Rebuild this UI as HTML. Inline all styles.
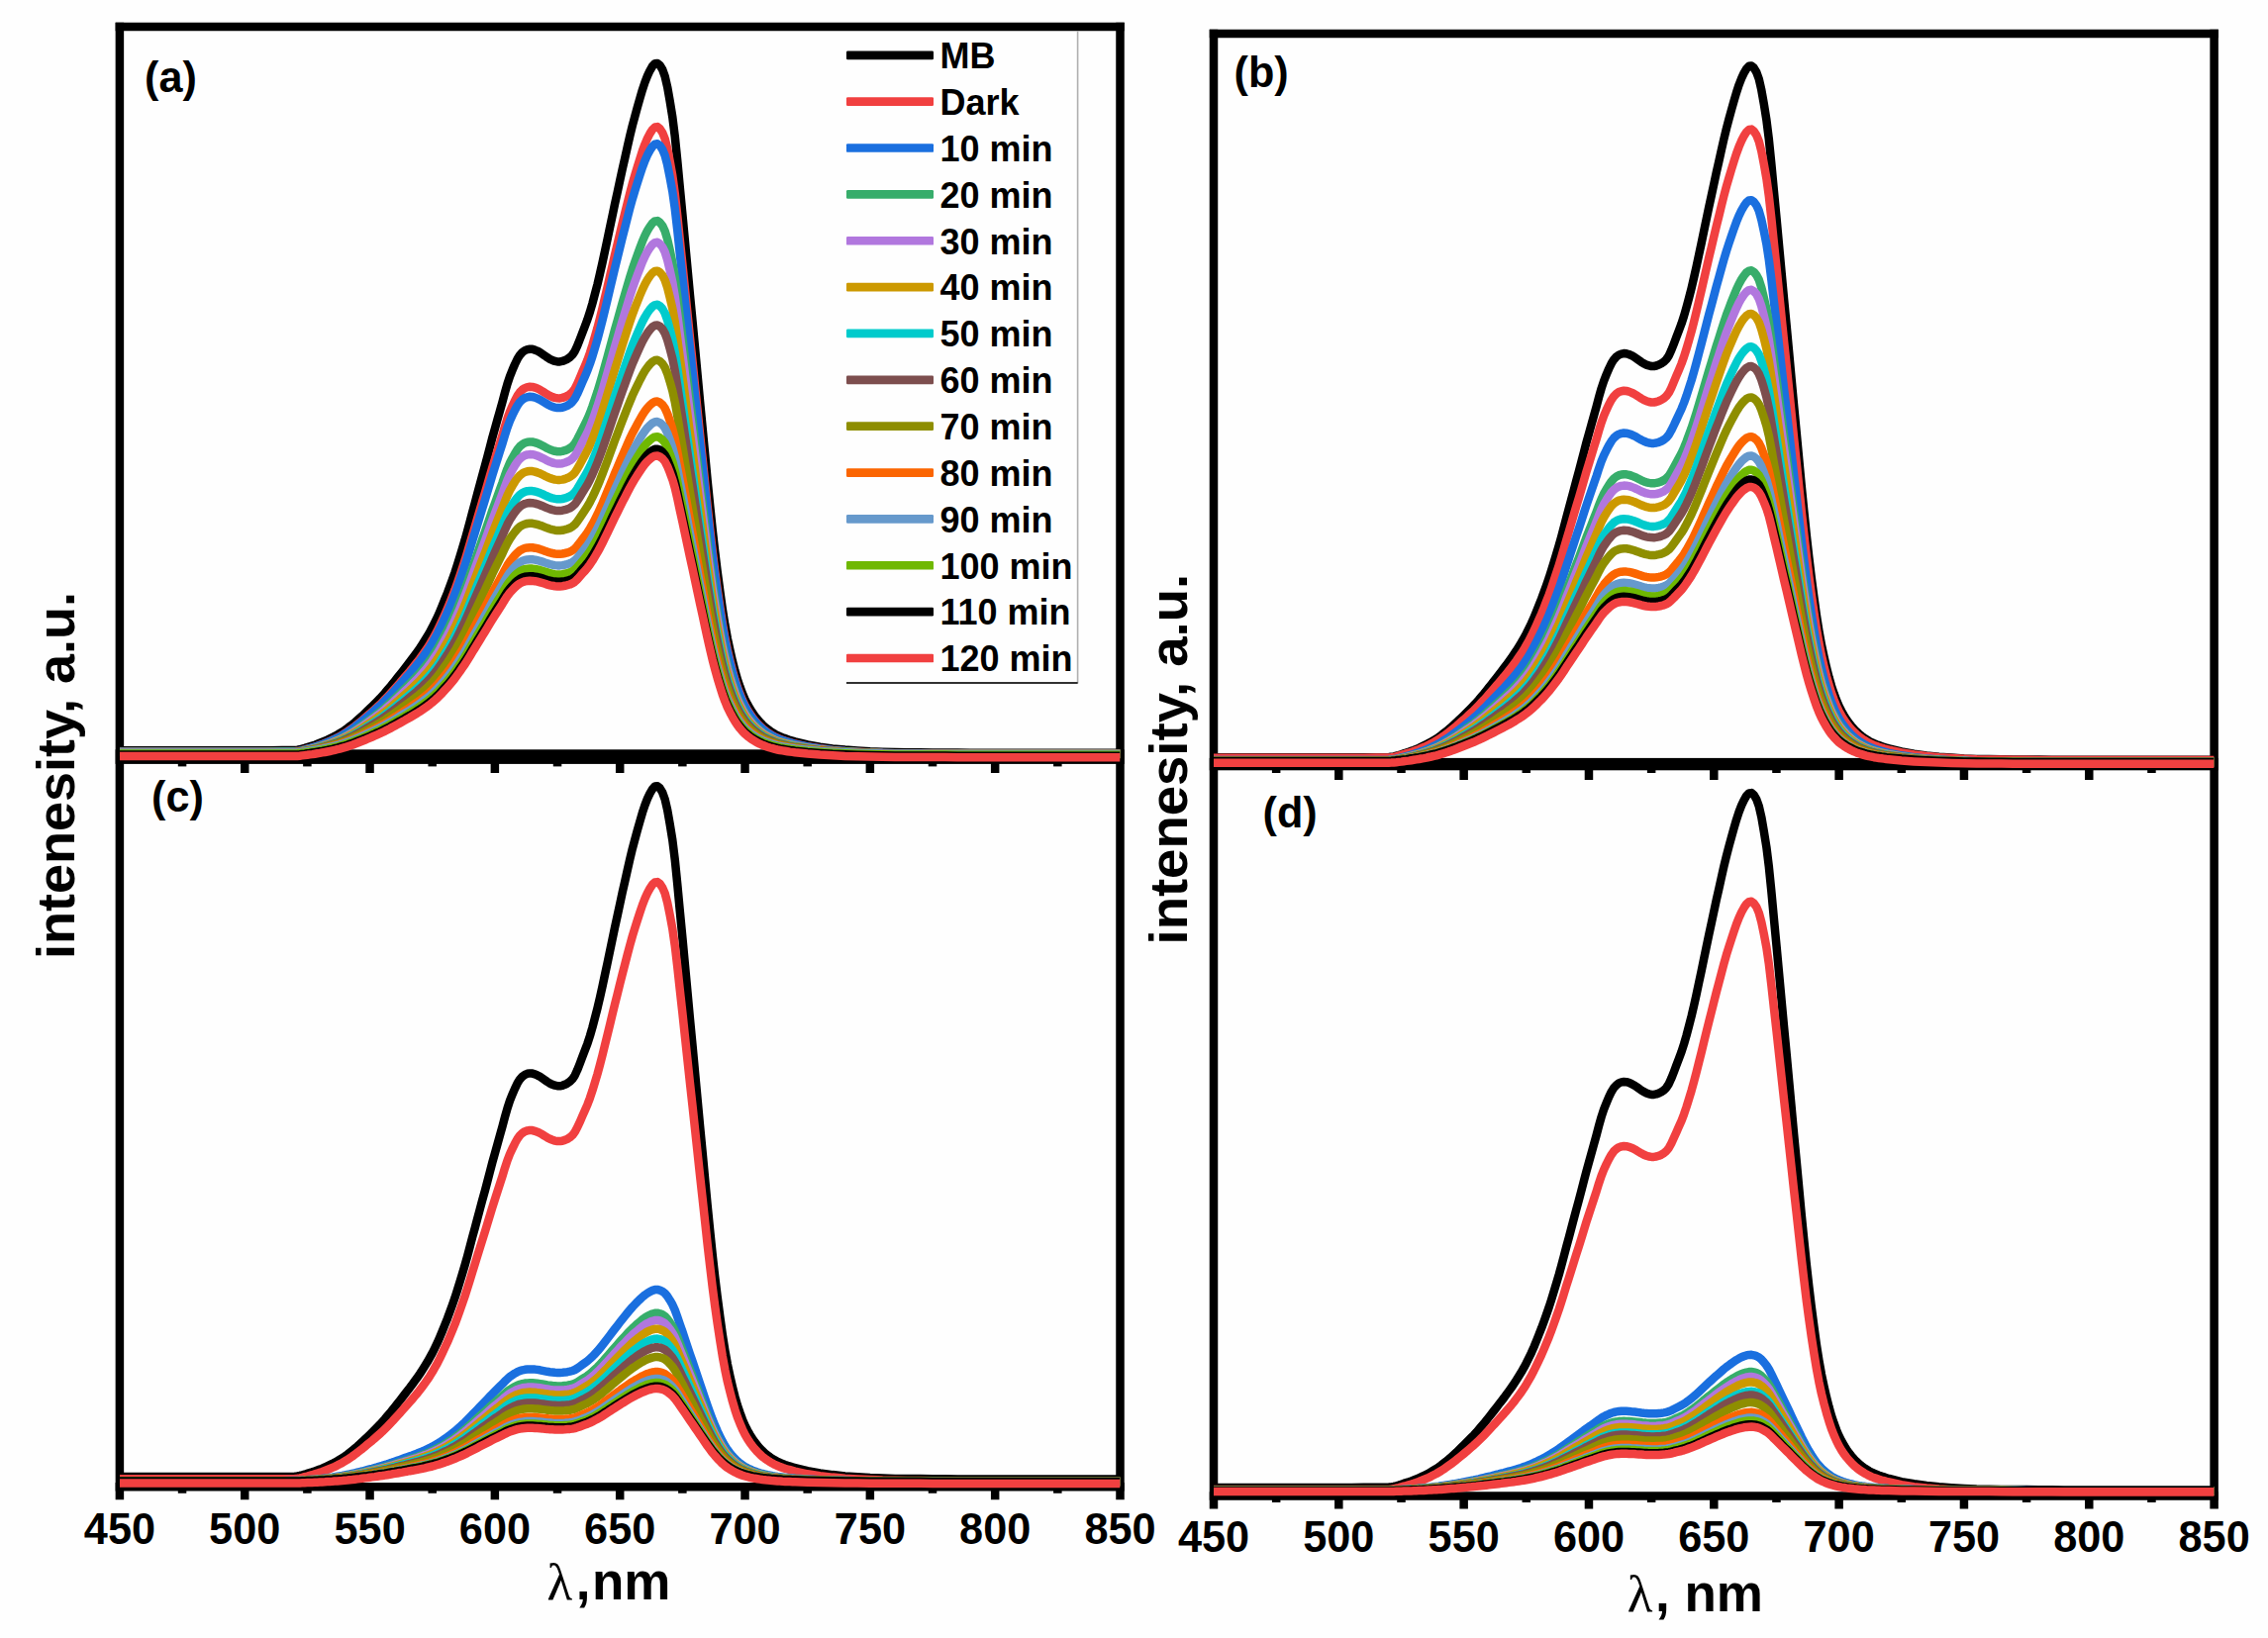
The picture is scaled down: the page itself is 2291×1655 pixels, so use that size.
<!DOCTYPE html>
<html lang="en"><head><meta charset="utf-8"><title>MB degradation spectra</title>
<style>html,body{margin:0;padding:0;background:#fefefe;overflow:hidden}svg{display:block}text{font-family:"Liberation Sans",sans-serif;font-weight:bold;fill:#000}.tk{font-size:45.3px;text-anchor:middle}.pl{font-size:45px}.lg{font-size:36px}.ax{font-size:53px}.ay{font-size:54px;text-anchor:middle}.gr{font-family:"Liberation Serif","DejaVu Serif",serif;font-weight:normal}.c{fill:none;stroke-width:8.5;stroke-linejoin:round;stroke-linecap:butt}</style></head><body>
<svg width="2291" height="1655" viewBox="0 0 2291 1655" role="img" aria-label="UV-vis absorption spectra of MB, panels a-d">
<rect x="0" y="0" width="2291" height="1655" fill="#fefefe"/>
<g fill="#000">
<rect x="116.65" y="22.75" width="8.5" height="1492.50"/>
<rect x="1127.25" y="22.75" width="8.5" height="1492.50"/>
<rect x="116.65" y="22.75" width="1019.10" height="8.5"/>
<rect x="116.65" y="757.30" width="1019.10" height="14.60"/>
<rect x="116.65" y="1498.00" width="1019.10" height="8.5"/>
<rect x="179.81" y="770.90" width="8.5" height="3.50"/>
<rect x="179.81" y="1502.25" width="8.5" height="6.50"/>
<rect x="242.98" y="770.90" width="8.5" height="10.10"/>
<rect x="242.98" y="1502.25" width="8.5" height="13.00"/>
<rect x="306.14" y="770.90" width="8.5" height="3.50"/>
<rect x="306.14" y="1502.25" width="8.5" height="6.50"/>
<rect x="369.30" y="770.90" width="8.5" height="10.10"/>
<rect x="369.30" y="1502.25" width="8.5" height="13.00"/>
<rect x="432.46" y="770.90" width="8.5" height="3.50"/>
<rect x="432.46" y="1502.25" width="8.5" height="6.50"/>
<rect x="495.62" y="770.90" width="8.5" height="10.10"/>
<rect x="495.62" y="1502.25" width="8.5" height="13.00"/>
<rect x="558.79" y="770.90" width="8.5" height="3.50"/>
<rect x="558.79" y="1502.25" width="8.5" height="6.50"/>
<rect x="621.95" y="770.90" width="8.5" height="10.10"/>
<rect x="621.95" y="1502.25" width="8.5" height="13.00"/>
<rect x="685.11" y="770.90" width="8.5" height="3.50"/>
<rect x="685.11" y="1502.25" width="8.5" height="6.50"/>
<rect x="748.27" y="770.90" width="8.5" height="10.10"/>
<rect x="748.27" y="1502.25" width="8.5" height="13.00"/>
<rect x="811.44" y="770.90" width="8.5" height="3.50"/>
<rect x="811.44" y="1502.25" width="8.5" height="6.50"/>
<rect x="874.60" y="770.90" width="8.5" height="10.10"/>
<rect x="874.60" y="1502.25" width="8.5" height="13.00"/>
<rect x="937.76" y="770.90" width="8.5" height="3.50"/>
<rect x="937.76" y="1502.25" width="8.5" height="6.50"/>
<rect x="1000.92" y="770.90" width="8.5" height="10.10"/>
<rect x="1000.92" y="1502.25" width="8.5" height="13.00"/>
<rect x="1064.09" y="770.90" width="8.5" height="3.50"/>
<rect x="1064.09" y="1502.25" width="8.5" height="6.50"/>
<rect x="1221.75" y="29.75" width="8.5" height="1494.75"/>
<rect x="2232.35" y="29.75" width="8.5" height="1494.75"/>
<rect x="1221.75" y="29.75" width="1019.10" height="8.5"/>
<rect x="1221.75" y="765.90" width="1019.10" height="12.40"/>
<rect x="1221.75" y="1507.25" width="1019.10" height="8.5"/>
<rect x="1284.91" y="777.30" width="8.5" height="3.70"/>
<rect x="1284.91" y="1511.50" width="8.5" height="6.50"/>
<rect x="1348.08" y="777.30" width="8.5" height="10.70"/>
<rect x="1348.08" y="1511.50" width="8.5" height="13.00"/>
<rect x="1411.24" y="777.30" width="8.5" height="3.70"/>
<rect x="1411.24" y="1511.50" width="8.5" height="6.50"/>
<rect x="1474.40" y="777.30" width="8.5" height="10.70"/>
<rect x="1474.40" y="1511.50" width="8.5" height="13.00"/>
<rect x="1537.56" y="777.30" width="8.5" height="3.70"/>
<rect x="1537.56" y="1511.50" width="8.5" height="6.50"/>
<rect x="1600.72" y="777.30" width="8.5" height="10.70"/>
<rect x="1600.72" y="1511.50" width="8.5" height="13.00"/>
<rect x="1663.89" y="777.30" width="8.5" height="3.70"/>
<rect x="1663.89" y="1511.50" width="8.5" height="6.50"/>
<rect x="1727.05" y="777.30" width="8.5" height="10.70"/>
<rect x="1727.05" y="1511.50" width="8.5" height="13.00"/>
<rect x="1790.21" y="777.30" width="8.5" height="3.70"/>
<rect x="1790.21" y="1511.50" width="8.5" height="6.50"/>
<rect x="1853.38" y="777.30" width="8.5" height="10.70"/>
<rect x="1853.38" y="1511.50" width="8.5" height="13.00"/>
<rect x="1916.54" y="777.30" width="8.5" height="3.70"/>
<rect x="1916.54" y="1511.50" width="8.5" height="6.50"/>
<rect x="1979.70" y="777.30" width="8.5" height="10.70"/>
<rect x="1979.70" y="1511.50" width="8.5" height="13.00"/>
<rect x="2042.86" y="777.30" width="8.5" height="3.70"/>
<rect x="2042.86" y="1511.50" width="8.5" height="6.50"/>
<rect x="2106.03" y="777.30" width="8.5" height="10.70"/>
<rect x="2106.03" y="1511.50" width="8.5" height="13.00"/>
<rect x="2169.19" y="777.30" width="8.5" height="3.70"/>
<rect x="2169.19" y="1511.50" width="8.5" height="6.50"/>
</g>
<defs>
<clipPath id="cl"><rect x="120.9" y="0" width="1010.6" height="1655"/></clipPath>
<clipPath id="cr"><rect x="1226.0" y="0" width="1010.6" height="1655"/></clipPath>
</defs>
<g class="c" clip-path="url(#cl)">
<polyline stroke="#000000" points="120.9,758.2 133.5,758.2 146.2,758.2 158.8,758.2 171.4,758.2 184.1,758.2 196.7,758.2 209.3,758.2 222.0,758.2 234.6,758.2 247.2,758.2 259.9,758.2 272.5,758.2 285.1,758.1 297.8,758.0 300.3,757.7 302.8,757.3 305.3,756.6 307.9,755.9 310.4,755.1 312.9,754.3 315.4,753.5 318.0,752.7 320.5,751.8 323.0,750.8 325.5,749.8 328.1,748.7 330.6,747.6 333.1,746.4 335.7,745.2 338.2,743.8 340.7,742.5 343.2,741.0 345.8,739.4 348.3,737.7 350.8,735.9 353.3,734.0 355.9,732.0 358.4,729.9 360.9,727.7 363.4,725.5 366.0,723.2 368.5,720.8 371.0,718.4 373.6,715.9 376.1,713.4 378.6,710.9 381.1,708.4 383.7,705.8 386.2,703.1 388.7,700.3 391.2,697.3 393.8,694.3 396.3,691.2 398.8,688.1 401.3,684.9 403.9,681.7 406.4,678.5 408.9,675.3 411.4,672.0 414.0,668.7 416.5,665.4 419.0,662.0 421.6,658.4 424.1,654.8 426.6,651.0 429.1,647.0 431.7,642.9 434.2,638.5 436.7,633.9 439.2,628.9 441.8,623.6 444.3,617.9 446.8,611.9 449.3,605.7 451.9,599.3 454.4,592.6 456.9,585.7 459.5,578.3 462.0,570.6 464.5,562.5 467.0,554.2 469.6,545.6 472.1,536.6 474.6,527.3 477.1,517.8 479.7,508.3 482.2,498.9 484.7,489.6 487.2,480.3 489.8,471.0 492.3,461.5 494.8,452.0 497.3,442.4 499.9,433.1 502.4,424.2 504.9,415.4 507.5,406.1 510.0,396.6 512.5,387.8 515.0,380.3 517.6,373.8 520.1,368.0 522.6,362.8 525.1,358.8 527.7,355.9 530.2,354.1 532.7,353.1 535.2,352.7 537.8,352.8 540.3,353.6 542.8,354.6 545.4,356.0 547.9,357.7 550.4,359.4 552.9,361.2 555.5,362.8 558.0,364.0 560.5,364.9 563.0,365.4 565.6,365.4 568.1,364.9 570.6,364.0 573.1,362.8 575.7,361.0 578.2,358.5 580.7,354.8 583.2,349.4 585.8,342.8 588.3,336.2 590.8,329.7 593.4,322.8 595.9,315.1 598.4,306.6 600.9,297.2 603.5,287.2 606.0,276.6 608.5,265.5 611.0,253.8 613.6,241.7 616.1,229.7 618.6,217.8 621.1,205.9 623.7,194.1 626.2,182.4 628.7,170.9 631.3,159.5 633.8,148.3 636.3,137.3 638.8,127.0 641.4,117.3 643.9,108.1 646.4,99.3 648.9,90.8 651.5,83.0 654.0,76.6 656.5,71.3 659.0,67.0 661.6,64.2 664.1,63.9 666.6,66.0 669.2,70.3 671.7,77.2 674.2,88.1 676.7,102.3 679.3,118.3 681.8,138.3 684.3,163.0 686.8,189.6 689.4,216.6 691.9,243.5 694.4,270.4 696.9,297.3 699.5,324.2 702.0,351.0 704.5,377.9 707.0,404.9 709.6,431.8 712.1,458.5 714.6,485.1 717.2,510.9 719.7,535.1 722.2,557.2 724.7,577.8 727.3,597.4 729.8,615.4 732.3,631.1 734.8,644.8 737.4,657.0 739.9,667.9 742.4,677.7 744.9,686.4 747.5,694.1 750.0,700.8 752.5,706.6 755.1,711.7 757.6,716.1 760.1,720.0 762.6,723.6 765.2,726.8 767.7,729.7 770.2,732.3 772.7,734.6 775.3,736.6 777.8,738.5 780.3,740.2 782.8,741.7 785.4,743.0 787.9,744.2 790.4,745.2 792.9,746.1 795.5,747.0 798.0,747.9 800.5,748.6 803.1,749.4 815.7,752.5 828.3,754.7 841.0,756.4 853.6,757.6 866.2,758.5 878.9,759.3 891.5,759.8 904.1,760.1 916.7,760.2 929.4,760.3 942.0,760.4 954.6,760.5 967.3,760.6 979.9,760.7 992.5,760.7 1005.2,760.7 1017.8,760.7 1030.4,760.7 1043.1,760.7 1055.7,760.7 1068.3,760.7 1081.0,760.7 1093.6,760.7 1106.2,760.7 1118.9,760.7 1131.5,760.7"/>
<polyline stroke="#F14040" points="120.9,759.5 133.5,759.5 146.2,759.5 158.8,759.5 171.4,759.5 184.1,759.5 196.7,759.5 209.3,759.5 222.0,759.5 234.6,759.5 247.2,759.5 259.9,759.5 272.5,759.5 285.1,759.5 297.8,759.3 300.3,759.1 302.8,758.7 305.3,758.1 307.9,757.4 310.4,756.7 312.9,756.0 315.4,755.3 318.0,754.5 320.5,753.7 323.0,752.8 325.5,751.9 328.1,750.9 330.6,749.9 333.1,748.8 335.7,747.7 338.2,746.5 340.7,745.2 343.2,743.9 345.8,742.5 348.3,740.9 350.8,739.3 353.3,737.5 355.9,735.7 358.4,733.8 360.9,731.8 363.4,729.8 366.0,727.7 368.5,725.5 371.0,723.3 373.6,721.1 376.1,718.8 378.6,716.6 381.1,714.2 383.7,711.9 386.2,709.4 388.7,706.8 391.2,704.2 393.8,701.4 396.3,698.6 398.8,695.8 401.3,692.9 403.9,690.0 406.4,687.0 408.9,684.1 411.4,681.2 414.0,678.2 416.5,675.1 419.0,672.0 421.6,668.8 424.1,665.5 426.6,662.0 429.1,658.4 431.7,654.7 434.2,650.7 436.7,646.5 439.2,642.0 441.8,637.1 444.3,631.9 446.8,626.5 449.3,620.9 451.9,615.0 454.4,609.0 456.9,602.6 459.5,595.9 462.0,588.9 464.5,581.6 467.0,574.0 469.6,566.2 472.1,558.0 474.6,549.5 477.1,540.9 479.7,532.3 482.2,523.7 484.7,515.3 487.2,506.8 489.8,498.3 492.3,489.7 494.8,481.0 497.3,472.4 499.9,463.9 502.4,455.8 504.9,447.8 507.5,439.4 510.0,430.7 512.5,422.7 515.0,415.9 517.6,410.0 520.1,404.7 522.6,400.0 525.1,396.3 527.7,393.7 530.2,392.1 532.7,391.1 535.2,390.8 537.8,390.9 540.3,391.6 542.8,392.5 545.4,393.8 547.9,395.3 550.4,396.9 552.9,398.6 555.5,400.0 558.0,401.1 560.5,401.9 563.0,402.3 565.6,402.4 568.1,401.9 570.6,401.1 573.1,400.0 575.7,398.3 578.2,396.1 580.7,392.7 583.2,387.8 585.8,381.8 588.3,375.7 590.8,369.9 593.4,363.6 595.9,356.6 598.4,348.8 600.9,340.3 603.5,331.2 606.0,321.6 608.5,311.5 611.0,300.8 613.6,289.9 616.1,279.0 618.6,268.1 621.1,257.3 623.7,246.6 626.2,235.9 628.7,225.4 631.3,215.1 633.8,204.9 636.3,195.0 638.8,185.5 641.4,176.7 643.9,168.4 646.4,160.4 648.9,152.6 651.5,145.6 654.0,139.7 656.5,134.9 659.0,131.0 661.6,128.5 664.1,128.1 666.6,130.1 669.2,134.0 671.7,140.3 674.2,150.2 676.7,163.1 679.3,177.6 681.8,195.8 684.3,218.3 686.8,242.5 689.4,267.0 691.9,291.5 694.4,316.0 696.9,340.4 699.5,364.8 702.0,389.3 704.5,413.7 707.0,438.2 709.6,462.7 712.1,487.0 714.6,511.1 717.2,534.7 719.7,556.7 722.2,576.7 724.7,595.5 727.3,613.3 729.8,629.6 732.3,643.9 734.8,656.4 737.4,667.5 739.9,677.4 742.4,686.3 744.9,694.3 747.5,701.2 750.0,707.3 752.5,712.6 755.1,717.3 757.6,721.3 760.1,724.8 762.6,728.1 765.2,731.0 767.7,733.7 770.2,736.0 772.7,738.1 775.3,739.9 777.8,741.6 780.3,743.1 782.8,744.5 785.4,745.7 787.9,746.8 790.4,747.7 792.9,748.6 795.5,749.4 798.0,750.1 800.5,750.8 803.1,751.5 815.7,754.3 828.3,756.3 841.0,757.9 853.6,759.0 866.2,759.8 878.9,760.5 891.5,761.0 904.1,761.2 916.7,761.3 929.4,761.5 942.0,761.6 954.6,761.7 967.3,761.7 979.9,761.8 992.5,761.8 1005.2,761.8 1017.8,761.8 1030.4,761.8 1043.1,761.8 1055.7,761.8 1068.3,761.8 1081.0,761.8 1093.6,761.8 1106.2,761.8 1118.9,761.8 1131.5,761.8"/>
<polyline stroke="#1A6FDF" points="120.9,759.6 133.5,759.6 146.2,759.6 158.8,759.6 171.4,759.6 184.1,759.6 196.7,759.6 209.3,759.6 222.0,759.6 234.6,759.6 247.2,759.6 259.9,759.6 272.5,759.6 285.1,759.5 297.8,759.4 300.3,759.2 302.8,758.8 305.3,758.2 307.9,757.6 310.4,756.9 312.9,756.2 315.4,755.4 318.0,754.7 320.5,753.9 323.0,753.1 325.5,752.2 328.1,751.2 330.6,750.2 333.1,749.2 335.7,748.1 338.2,746.9 340.7,745.7 343.2,744.4 345.8,743.0 348.3,741.5 350.8,739.9 353.3,738.2 355.9,736.4 358.4,734.6 360.9,732.6 363.4,730.6 366.0,728.6 368.5,726.5 371.0,724.4 373.6,722.2 376.1,720.0 378.6,717.8 381.1,715.5 383.7,713.2 386.2,710.8 388.7,708.3 391.2,705.7 393.8,703.1 396.3,700.3 398.8,697.6 401.3,694.7 403.9,691.9 406.4,689.1 408.9,686.2 411.4,683.4 414.0,680.5 416.5,677.5 419.0,674.5 421.6,671.3 424.1,668.1 426.6,664.7 429.1,661.2 431.7,657.6 434.2,653.7 436.7,649.6 439.2,645.2 441.8,640.5 444.3,635.5 446.8,630.2 449.3,624.7 451.9,619.0 454.4,613.1 456.9,606.9 459.5,600.4 462.0,593.6 464.5,586.5 467.0,579.1 469.6,571.5 472.1,563.6 474.6,555.3 477.1,546.9 479.7,538.5 482.2,530.2 484.7,522.0 487.2,513.7 489.8,505.5 492.3,497.1 494.8,488.7 497.3,480.2 499.9,472.0 502.4,464.1 504.9,456.3 507.5,448.1 510.0,439.7 512.5,431.9 515.0,425.3 517.6,419.5 520.1,414.4 522.6,409.8 525.1,406.2 527.7,403.7 530.2,402.1 532.7,401.2 535.2,400.8 537.8,401.0 540.3,401.6 542.8,402.6 545.4,403.8 547.9,405.3 550.4,406.8 552.9,408.4 555.5,409.8 558.0,410.9 560.5,411.6 563.0,412.1 565.6,412.1 568.1,411.7 570.6,410.9 573.1,409.8 575.7,408.2 578.2,406.0 580.7,402.7 583.2,397.9 585.8,392.1 588.3,386.2 590.8,380.5 593.4,374.4 595.9,367.6 598.4,360.1 600.9,351.8 603.5,342.9 606.0,333.5 608.5,323.7 611.0,313.4 613.6,302.7 616.1,292.1 618.6,281.5 621.1,271.0 623.7,260.5 626.2,250.2 628.7,240.0 631.3,229.9 633.8,220.0 636.3,210.3 638.8,201.2 641.4,192.6 643.9,184.5 646.4,176.7 648.9,169.2 651.5,162.3 654.0,156.6 656.5,151.9 659.0,148.1 661.6,145.7 664.1,145.3 666.6,147.2 669.2,151.1 671.7,157.2 674.2,166.8 676.7,179.3 679.3,193.5 681.8,211.2 684.3,233.0 686.8,256.6 689.4,280.4 691.9,304.3 694.4,328.1 696.9,351.8 699.5,375.6 702.0,399.4 704.5,423.2 707.0,447.0 709.6,470.8 712.1,494.5 714.6,518.0 717.2,540.9 719.7,562.3 722.2,581.8 724.7,600.0 727.3,617.4 729.8,633.2 732.3,647.1 734.8,659.3 737.4,670.1 739.9,679.7 742.4,688.3 744.9,696.1 747.5,702.9 750.0,708.8 752.5,714.0 755.1,718.5 757.6,722.4 760.1,725.8 762.6,729.0 765.2,731.8 767.7,734.4 770.2,736.7 772.7,738.7 775.3,740.5 777.8,742.1 780.3,743.6 782.8,745.0 785.4,746.2 787.9,747.2 790.4,748.1 792.9,748.9 795.5,749.7 798.0,750.4 800.5,751.1 803.1,751.8 815.7,754.5 828.3,756.5 841.0,758.0 853.6,759.1 866.2,759.9 878.9,760.5 891.5,761.0 904.1,761.2 916.7,761.4 929.4,761.5 942.0,761.6 954.6,761.7 967.3,761.7 979.9,761.8 992.5,761.8 1005.2,761.8 1017.8,761.8 1030.4,761.8 1043.1,761.8 1055.7,761.8 1068.3,761.8 1081.0,761.8 1093.6,761.8 1106.2,761.8 1118.9,761.8 1131.5,761.8"/>
<polyline stroke="#37AD6B" points="120.9,759.9 133.5,759.9 146.2,759.9 158.8,759.9 171.4,759.9 184.1,759.9 196.7,759.9 209.3,759.9 222.0,759.9 234.6,759.9 247.2,759.9 259.9,759.9 272.5,759.8 285.1,759.8 297.8,759.7 300.3,759.5 302.8,759.1 305.3,758.7 307.9,758.1 310.4,757.5 312.9,756.9 315.4,756.2 318.0,755.6 320.5,754.9 323.0,754.2 325.5,753.4 328.1,752.6 330.6,751.7 333.1,750.8 335.7,749.8 338.2,748.8 340.7,747.7 343.2,746.6 345.8,745.4 348.3,744.0 350.8,742.6 353.3,741.2 355.9,739.6 358.4,738.0 360.9,736.3 363.4,734.6 366.0,732.8 368.5,731.0 371.0,729.1 373.6,727.2 376.1,725.3 378.6,723.3 381.1,721.4 383.7,719.4 386.2,717.3 388.7,715.1 391.2,712.8 393.8,710.5 396.3,708.1 398.8,705.7 401.3,703.2 403.9,700.7 406.4,698.2 408.9,695.8 411.4,693.3 414.0,690.7 416.5,688.1 419.0,685.5 421.6,682.8 424.1,679.9 426.6,677.0 429.1,673.9 431.7,670.7 434.2,667.4 436.7,663.8 439.2,659.9 441.8,655.8 444.3,651.4 446.8,646.8 449.3,642.0 451.9,637.0 454.4,631.9 456.9,626.5 459.5,620.8 462.0,614.8 464.5,608.6 467.0,602.2 469.6,595.5 472.1,588.6 474.6,581.4 477.1,574.0 479.7,566.7 482.2,559.4 484.7,552.2 487.2,545.0 489.8,537.8 492.3,530.5 494.8,523.1 497.3,515.7 499.9,508.6 502.4,501.7 504.9,494.8 507.5,487.7 510.0,480.3 512.5,473.6 515.0,467.8 517.6,462.7 520.1,458.2 522.6,454.2 525.1,451.1 527.7,448.9 530.2,447.5 532.7,446.7 535.2,446.4 537.8,446.5 540.3,447.1 542.8,447.9 545.4,449.0 547.9,450.3 550.4,451.6 552.9,453.0 555.5,454.2 558.0,455.1 560.5,455.8 563.0,456.2 565.6,456.3 568.1,455.9 570.6,455.2 573.1,454.2 575.7,452.8 578.2,450.9 580.7,448.0 583.2,443.8 585.8,438.7 588.3,433.6 590.8,428.6 593.4,423.3 595.9,417.4 598.4,410.7 600.9,403.5 603.5,395.7 606.0,387.6 608.5,379.0 611.0,369.9 613.6,360.6 616.1,351.3 618.6,342.1 621.1,332.9 623.7,323.8 626.2,314.8 628.7,305.8 631.3,297.0 633.8,288.4 636.3,279.9 638.8,271.9 641.4,264.4 643.9,257.3 646.4,250.5 648.9,243.9 651.5,237.9 654.0,233.0 656.5,228.9 659.0,225.5 661.6,223.4 664.1,223.1 666.6,224.8 669.2,228.1 671.7,233.5 674.2,241.9 676.7,252.8 679.3,265.2 681.8,280.6 684.3,299.7 686.8,320.3 689.4,341.2 691.9,362.0 694.4,382.8 696.9,403.6 699.5,424.3 702.0,445.1 704.5,465.9 707.0,486.7 709.6,507.5 712.1,528.2 714.6,548.7 717.2,568.7 719.7,587.4 722.2,604.5 724.7,620.4 727.3,635.6 729.8,649.5 732.3,661.6 734.8,672.2 737.4,681.6 739.9,690.0 742.4,697.6 744.9,704.4 747.5,710.3 750.0,715.5 752.5,720.0 755.1,723.9 757.6,727.3 760.1,730.4 762.6,733.1 765.2,735.6 767.7,737.9 770.2,739.9 772.7,741.6 775.3,743.2 777.8,744.6 780.3,745.9 782.8,747.1 785.4,748.1 787.9,749.0 790.4,749.8 792.9,750.5 795.5,751.2 798.0,751.9 800.5,752.5 803.1,753.1 815.7,755.5 828.3,757.2 841.0,758.4 853.6,759.4 866.2,760.1 878.9,760.7 891.5,761.1 904.1,761.3 916.7,761.4 929.4,761.5 942.0,761.6 954.6,761.7 967.3,761.7 979.9,761.8 992.5,761.8 1005.2,761.8 1017.8,761.8 1030.4,761.8 1043.1,761.8 1055.7,761.8 1068.3,761.8 1081.0,761.8 1093.6,761.8 1106.2,761.8 1118.9,761.8 1131.5,761.8"/>
<polyline stroke="#B177DE" points="120.9,759.9 133.5,759.9 146.2,759.9 158.8,759.9 171.4,759.9 184.1,759.9 196.7,759.9 209.3,759.9 222.0,759.9 234.6,759.9 247.2,759.9 259.9,759.9 272.5,759.9 285.1,759.9 297.8,759.8 300.3,759.6 302.8,759.3 305.3,758.8 307.9,758.2 310.4,757.7 312.9,757.1 315.4,756.5 318.0,755.9 320.5,755.2 323.0,754.5 325.5,753.7 328.1,752.9 330.6,752.1 333.1,751.2 335.7,750.3 338.2,749.3 340.7,748.3 343.2,747.2 345.8,746.0 348.3,744.8 350.8,743.4 353.3,742.0 355.9,740.5 358.4,738.9 360.9,737.3 363.4,735.7 366.0,734.0 368.5,732.2 371.0,730.4 373.6,728.6 376.1,726.7 378.6,724.9 381.1,723.0 383.7,721.1 386.2,719.1 388.7,717.0 391.2,714.8 393.8,712.6 396.3,710.3 398.8,707.9 401.3,705.6 403.9,703.2 406.4,700.8 408.9,698.4 411.4,696.0 414.0,693.6 416.5,691.1 419.0,688.6 421.6,685.9 424.1,683.2 426.6,680.4 429.1,677.5 431.7,674.4 434.2,671.2 436.7,667.7 439.2,664.0 441.8,660.1 444.3,655.9 446.8,651.4 449.3,646.8 451.9,642.0 454.4,637.1 456.9,631.9 459.5,626.5 462.0,620.7 464.5,614.8 467.0,608.6 469.6,602.2 472.1,595.6 474.6,588.6 477.1,581.6 479.7,574.5 482.2,567.6 484.7,560.7 487.2,553.8 489.8,546.8 492.3,539.8 494.8,532.7 497.3,525.7 499.9,518.8 502.4,512.2 504.9,505.6 507.5,498.7 510.0,491.7 512.5,485.2 515.0,479.6 517.6,474.8 520.1,470.4 522.6,466.6 525.1,463.6 527.7,461.5 530.2,460.1 532.7,459.4 535.2,459.1 537.8,459.2 540.3,459.7 542.8,460.5 545.4,461.6 547.9,462.8 550.4,464.1 552.9,465.4 555.5,466.6 558.0,467.5 560.5,468.1 563.0,468.5 565.6,468.6 568.1,468.2 570.6,467.5 573.1,466.6 575.7,465.3 578.2,463.4 580.7,460.7 583.2,456.6 585.8,451.7 588.3,446.8 590.8,442.0 593.4,436.9 595.9,431.2 598.4,424.9 600.9,417.9 603.5,410.5 606.0,402.6 608.5,394.4 611.0,385.7 613.6,376.8 616.1,367.9 618.6,359.0 621.1,350.2 623.7,341.4 626.2,332.8 628.7,324.2 631.3,315.8 633.8,307.4 636.3,299.3 638.8,291.6 641.4,284.4 643.9,277.6 646.4,271.1 648.9,264.8 651.5,259.0 654.0,254.3 656.5,250.3 659.0,247.1 661.6,245.1 664.1,244.8 666.6,246.4 669.2,249.6 671.7,254.7 674.2,262.8 676.7,273.3 679.3,285.2 681.8,300.0 684.3,318.4 686.8,338.1 689.4,358.1 691.9,378.1 694.4,398.1 696.9,418.0 699.5,437.9 702.0,457.9 704.5,477.8 707.0,497.8 709.6,517.8 712.1,537.6 714.6,557.3 717.2,576.5 719.7,594.5 722.2,610.8 724.7,626.1 727.3,640.7 729.8,654.0 732.3,665.6 734.8,675.8 737.4,684.9 739.9,692.9 742.4,700.2 744.9,706.7 747.5,712.4 750.0,717.3 752.5,721.7 755.1,725.5 757.6,728.7 760.1,731.6 762.6,734.3 765.2,736.7 767.7,738.8 770.2,740.7 772.7,742.4 775.3,743.9 777.8,745.3 780.3,746.6 782.8,747.7 785.4,748.7 787.9,749.5 790.4,750.3 792.9,751.0 795.5,751.7 798.0,752.3 800.5,752.9 803.1,753.4 815.7,755.7 828.3,757.3 841.0,758.6 853.6,759.5 866.2,760.2 878.9,760.7 891.5,761.1 904.1,761.3 916.7,761.4 929.4,761.5 942.0,761.6 954.6,761.7 967.3,761.7 979.9,761.8 992.5,761.8 1005.2,761.8 1017.8,761.8 1030.4,761.8 1043.1,761.8 1055.7,761.8 1068.3,761.8 1081.0,761.8 1093.6,761.8 1106.2,761.8 1118.9,761.8 1131.5,761.8"/>
<polyline stroke="#CC9900" points="120.9,760.0 133.5,760.0 146.2,760.0 158.8,760.0 171.4,760.0 184.1,760.0 196.7,760.0 209.3,760.0 222.0,760.0 234.6,760.0 247.2,760.0 259.9,760.0 272.5,760.0 285.1,760.0 297.8,759.9 300.3,759.7 302.8,759.4 305.3,759.0 307.9,758.4 310.4,757.9 312.9,757.3 315.4,756.8 318.0,756.2 320.5,755.6 323.0,754.9 325.5,754.2 328.1,753.4 330.6,752.6 333.1,751.8 335.7,750.9 338.2,750.0 340.7,749.0 343.2,748.0 345.8,746.9 348.3,745.7 350.8,744.4 353.3,743.1 355.9,741.7 358.4,740.2 360.9,738.7 363.4,737.1 366.0,735.5 368.5,733.8 371.0,732.2 373.6,730.4 376.1,728.7 378.6,726.9 381.1,725.2 383.7,723.3 386.2,721.4 388.7,719.5 391.2,717.4 393.8,715.3 396.3,713.1 398.8,710.9 401.3,708.7 403.9,706.5 406.4,704.2 408.9,702.0 411.4,699.7 414.0,697.4 416.5,695.0 419.0,692.6 421.6,690.2 424.1,687.6 426.6,685.0 429.1,682.2 431.7,679.3 434.2,676.2 436.7,673.0 439.2,669.5 441.8,665.8 444.3,661.8 446.8,657.6 449.3,653.2 451.9,648.7 454.4,644.1 456.9,639.2 459.5,634.0 462.0,628.6 464.5,623.0 467.0,617.2 469.6,611.2 472.1,604.9 474.6,598.3 477.1,591.6 479.7,585.0 482.2,578.4 484.7,571.9 487.2,565.4 489.8,558.9 492.3,552.2 494.8,545.5 497.3,538.9 499.9,532.4 502.4,526.1 504.9,519.9 507.5,513.4 510.0,506.8 512.5,500.6 515.0,495.4 517.6,490.8 520.1,486.7 522.6,483.1 525.1,480.3 527.7,478.3 530.2,477.0 532.7,476.3 535.2,476.0 537.8,476.1 540.3,476.6 542.8,477.4 545.4,478.3 547.9,479.5 550.4,480.8 552.9,482.0 555.5,483.1 558.0,483.9 560.5,484.6 563.0,484.9 565.6,484.9 568.1,484.6 570.6,484.0 573.1,483.1 575.7,481.8 578.2,480.1 580.7,477.5 583.2,473.7 585.8,469.1 588.3,464.4 590.8,459.9 593.4,455.1 595.9,449.7 598.4,443.7 600.9,437.1 603.5,430.1 606.0,422.7 608.5,414.9 611.0,406.7 613.6,398.3 616.1,389.9 618.6,381.5 621.1,373.2 623.7,364.9 626.2,356.7 628.7,348.7 631.3,340.7 633.8,332.8 636.3,325.2 638.8,317.9 641.4,311.1 643.9,304.7 646.4,298.5 648.9,292.6 651.5,287.1 654.0,282.6 656.5,278.9 659.0,275.9 661.6,274.0 664.1,273.7 666.6,275.2 669.2,278.3 671.7,283.1 674.2,290.7 676.7,300.6 679.3,311.8 681.8,325.8 684.3,343.1 686.8,361.8 689.4,380.7 691.9,399.5 694.4,418.4 696.9,437.2 699.5,456.0 702.0,474.9 704.5,493.7 707.0,512.6 709.6,531.4 712.1,550.1 714.6,568.7 717.2,586.9 719.7,603.8 722.2,619.2 724.7,633.7 727.3,647.4 729.8,660.0 732.3,671.0 734.8,680.6 737.4,689.2 739.9,696.8 742.4,703.6 744.9,709.8 747.5,715.1 750.0,719.8 752.5,723.9 755.1,727.5 757.6,730.6 760.1,733.3 762.6,735.8 765.2,738.1 767.7,740.1 770.2,741.9 772.7,743.5 775.3,744.9 777.8,746.2 780.3,747.4 782.8,748.5 785.4,749.4 787.9,750.2 790.4,750.9 792.9,751.6 795.5,752.2 798.0,752.8 800.5,753.4 803.1,753.9 815.7,756.0 828.3,757.6 841.0,758.8 853.6,759.6 866.2,760.3 878.9,760.8 891.5,761.2 904.1,761.3 916.7,761.5 929.4,761.5 942.0,761.6 954.6,761.7 967.3,761.7 979.9,761.8 992.5,761.8 1005.2,761.8 1017.8,761.8 1030.4,761.8 1043.1,761.8 1055.7,761.8 1068.3,761.8 1081.0,761.8 1093.6,761.8 1106.2,761.8 1118.9,761.8 1131.5,761.8"/>
<polyline stroke="#00CBCC" points="120.9,760.2 133.5,760.2 146.2,760.2 158.8,760.2 171.4,760.2 184.1,760.2 196.7,760.2 209.3,760.2 222.0,760.2 234.6,760.2 247.2,760.2 259.9,760.2 272.5,760.2 285.1,760.1 297.8,760.0 300.3,759.9 302.8,759.6 305.3,759.2 307.9,758.7 310.4,758.2 312.9,757.6 315.4,757.1 318.0,756.6 320.5,756.0 323.0,755.4 325.5,754.7 328.1,754.0 330.6,753.3 333.1,752.5 335.7,751.7 338.2,750.8 340.7,749.9 343.2,749.0 345.8,747.9 348.3,746.8 350.8,745.7 353.3,744.4 355.9,743.1 358.4,741.7 360.9,740.3 363.4,738.8 366.0,737.3 368.5,735.8 371.0,734.2 373.6,732.6 376.1,731.0 378.6,729.4 381.1,727.7 383.7,726.0 386.2,724.3 388.7,722.4 391.2,720.5 393.8,718.6 396.3,716.5 398.8,714.5 401.3,712.4 403.9,710.3 406.4,708.2 408.9,706.1 411.4,704.0 414.0,701.9 416.5,699.7 419.0,697.5 421.6,695.2 424.1,692.8 426.6,690.3 429.1,687.7 431.7,685.0 434.2,682.2 436.7,679.2 439.2,675.9 441.8,672.5 444.3,668.8 446.8,664.9 449.3,660.8 451.9,656.6 454.4,652.3 456.9,647.8 459.5,643.0 462.0,637.9 464.5,632.7 467.0,627.3 469.6,621.7 472.1,615.8 474.6,609.7 477.1,603.5 479.7,597.3 482.2,591.2 484.7,585.2 487.2,579.1 489.8,573.0 492.3,566.9 494.8,560.6 497.3,554.4 499.9,548.4 502.4,542.6 504.9,536.8 507.5,530.8 510.0,524.6 512.5,518.9 515.0,514.0 517.6,509.7 520.1,505.9 522.6,502.6 525.1,499.9 527.7,498.1 530.2,496.9 532.7,496.2 535.2,496.0 537.8,496.1 540.3,496.5 542.8,497.2 545.4,498.1 547.9,499.2 550.4,500.4 552.9,501.5 555.5,502.6 558.0,503.4 560.5,503.9 563.0,504.3 565.6,504.3 568.1,504.0 570.6,503.4 573.1,502.5 575.7,501.4 578.2,499.8 580.7,497.4 583.2,493.8 585.8,489.5 588.3,485.2 590.8,481.0 593.4,476.5 595.9,471.5 598.4,465.9 600.9,459.8 603.5,453.3 606.0,446.4 608.5,439.2 611.0,431.5 613.6,423.7 616.1,415.9 618.6,408.1 621.1,400.3 623.7,392.6 626.2,385.0 628.7,377.5 631.3,370.1 633.8,362.8 636.3,355.7 638.8,348.9 641.4,342.6 643.9,336.6 646.4,330.9 648.9,325.3 651.5,320.3 654.0,316.1 656.5,312.6 659.0,309.8 661.6,308.1 664.1,307.8 666.6,309.2 669.2,312.0 671.7,316.5 674.2,323.6 676.7,332.8 679.3,343.3 681.8,356.3 684.3,372.4 686.8,389.7 689.4,407.3 691.9,424.8 694.4,442.4 696.9,459.9 699.5,477.4 702.0,494.9 704.5,512.4 707.0,530.0 709.6,547.5 712.1,564.9 714.6,582.2 717.2,599.1 719.7,614.8 722.2,629.2 724.7,642.6 727.3,655.4 729.8,667.1 732.3,677.3 734.8,686.3 737.4,694.2 739.9,701.3 742.4,707.7 744.9,713.4 747.5,718.4 750.0,722.8 752.5,726.6 755.1,729.9 757.6,732.8 760.1,735.3 762.6,737.6 765.2,739.7 767.7,741.6 770.2,743.3 772.7,744.8 775.3,746.1 777.8,747.3 780.3,748.4 782.8,749.4 785.4,750.3 787.9,751.0 790.4,751.7 792.9,752.3 795.5,752.9 798.0,753.4 800.5,753.9 803.1,754.4 815.7,756.5 828.3,757.9 841.0,759.0 853.6,759.8 866.2,760.4 878.9,760.9 891.5,761.2 904.1,761.4 916.7,761.5 929.4,761.6 942.0,761.6 954.6,761.7 967.3,761.7 979.9,761.8 992.5,761.8 1005.2,761.8 1017.8,761.8 1030.4,761.8 1043.1,761.8 1055.7,761.8 1068.3,761.8 1081.0,761.8 1093.6,761.8 1106.2,761.8 1118.9,761.8 1131.5,761.8"/>
<polyline stroke="#7D4E4E" points="120.9,760.2 133.5,760.2 146.2,760.2 158.8,760.2 171.4,760.2 184.1,760.2 196.7,760.2 209.3,760.2 222.0,760.2 234.6,760.2 247.2,760.2 259.9,760.2 272.5,760.2 285.1,760.2 297.8,760.1 300.3,759.9 302.8,759.7 305.3,759.3 307.9,758.8 310.4,758.3 312.9,757.8 315.4,757.3 318.0,756.8 320.5,756.3 323.0,755.7 325.5,755.0 328.1,754.4 330.6,753.7 333.1,752.9 335.7,752.1 338.2,751.3 340.7,750.5 343.2,749.6 345.8,748.6 348.3,747.5 350.8,746.4 353.3,745.2 355.9,744.0 358.4,742.6 360.9,741.3 363.4,739.9 366.0,738.5 368.5,737.0 371.0,735.5 373.6,734.0 376.1,732.4 378.6,730.9 381.1,729.3 383.7,727.7 386.2,726.0 388.7,724.2 391.2,722.4 393.8,720.5 396.3,718.6 398.8,716.7 401.3,714.7 403.9,712.7 406.4,710.7 408.9,708.7 411.4,706.7 414.0,704.6 416.5,702.5 419.0,700.4 421.6,698.2 424.1,695.9 426.6,693.6 429.1,691.1 431.7,688.5 434.2,685.8 436.7,683.0 439.2,679.9 441.8,676.5 444.3,673.0 446.8,669.3 449.3,665.4 451.9,661.4 454.4,657.3 456.9,653.0 459.5,648.4 462.0,643.6 464.5,638.6 467.0,633.4 469.6,628.1 472.1,622.5 474.6,616.7 477.1,610.7 479.7,604.8 482.2,599.0 484.7,593.2 487.2,587.4 489.8,581.6 492.3,575.8 494.8,569.8 497.3,563.9 499.9,558.1 502.4,552.6 504.9,547.1 507.5,541.3 510.0,535.4 512.5,529.9 515.0,525.3 517.6,521.2 520.1,517.6 522.6,514.4 525.1,511.9 527.7,510.1 530.2,509.0 532.7,508.3 535.2,508.1 537.8,508.2 540.3,508.6 542.8,509.3 545.4,510.2 547.9,511.2 550.4,512.3 552.9,513.4 555.5,514.4 558.0,515.1 560.5,515.7 563.0,516.0 565.6,516.0 568.1,515.7 570.6,515.2 573.1,514.4 575.7,513.3 578.2,511.7 580.7,509.4 583.2,506.0 585.8,501.9 588.3,497.8 590.8,493.8 593.4,489.5 595.9,484.7 598.4,479.4 600.9,473.6 603.5,467.3 606.0,460.8 608.5,453.9 611.0,446.6 613.6,439.1 616.1,431.6 618.6,424.2 621.1,416.8 623.7,409.5 626.2,402.2 628.7,395.0 631.3,388.0 633.8,381.0 636.3,374.2 638.8,367.7 641.4,361.7 643.9,356.0 646.4,350.5 648.9,345.2 651.5,340.4 654.0,336.4 656.5,333.1 659.0,330.4 661.6,328.7 664.1,328.5 666.6,329.8 669.2,332.5 671.7,336.8 674.2,343.6 676.7,352.4 679.3,362.3 681.8,374.8 684.3,390.1 686.8,406.7 689.4,423.5 691.9,440.2 694.4,456.9 696.9,473.6 699.5,490.4 702.0,507.1 704.5,523.8 707.0,540.6 709.6,557.3 712.1,573.9 714.6,590.4 717.2,606.5 719.7,621.5 722.2,635.3 724.7,648.0 727.3,660.3 729.8,671.4 732.3,681.2 734.8,689.8 737.4,697.3 739.9,704.1 742.4,710.2 744.9,715.6 747.5,720.4 750.0,724.5 752.5,728.2 755.1,731.4 757.6,734.1 760.1,736.5 762.6,738.7 765.2,740.7 767.7,742.6 770.2,744.2 772.7,745.6 775.3,746.8 777.8,748.0 780.3,749.0 782.8,750.0 785.4,750.8 787.9,751.5 790.4,752.2 792.9,752.7 795.5,753.3 798.0,753.8 800.5,754.3 803.1,754.8 815.7,756.7 828.3,758.1 841.0,759.1 853.6,759.9 866.2,760.4 878.9,760.9 891.5,761.2 904.1,761.4 916.7,761.5 929.4,761.6 942.0,761.6 954.6,761.7 967.3,761.7 979.9,761.8 992.5,761.8 1005.2,761.8 1017.8,761.8 1030.4,761.8 1043.1,761.8 1055.7,761.8 1068.3,761.8 1081.0,761.8 1093.6,761.8 1106.2,761.8 1118.9,761.8 1131.5,761.8"/>
<polyline stroke="#8E8E00" points="120.9,760.4 133.5,760.4 146.2,760.4 158.8,760.4 171.4,760.4 184.1,760.4 196.7,760.4 209.3,760.4 222.0,760.4 234.6,760.4 247.2,760.4 259.9,760.4 272.5,760.4 285.1,760.3 297.8,760.2 300.3,760.1 302.8,759.8 305.3,759.5 307.9,759.1 310.4,758.6 312.9,758.2 315.4,757.7 318.0,757.2 320.5,756.7 323.0,756.2 325.5,755.6 328.1,755.0 330.6,754.3 333.1,753.6 335.7,752.9 338.2,752.2 340.7,751.4 343.2,750.5 345.8,749.6 348.3,748.7 350.8,747.6 353.3,746.6 355.9,745.4 358.4,744.2 360.9,743.0 363.4,741.7 366.0,740.4 368.5,739.0 371.0,737.6 373.6,736.2 376.1,734.8 378.6,733.4 381.1,731.9 383.7,730.4 386.2,728.9 388.7,727.3 391.2,725.6 393.8,723.9 396.3,722.1 398.8,720.3 401.3,718.5 403.9,716.7 406.4,714.8 408.9,713.0 411.4,711.2 414.0,709.3 416.5,707.4 419.0,705.4 421.6,703.4 424.1,701.3 426.6,699.1 429.1,696.9 431.7,694.5 434.2,692.0 436.7,689.4 439.2,686.5 441.8,683.5 444.3,680.2 446.8,676.8 449.3,673.3 451.9,669.6 454.4,665.8 456.9,661.8 459.5,657.6 462.0,653.2 464.5,648.6 467.0,643.9 469.6,639.0 472.1,633.8 474.6,628.5 477.1,623.0 479.7,617.6 482.2,612.3 484.7,607.0 487.2,601.6 489.8,596.3 492.3,590.9 494.8,585.5 497.3,580.0 499.9,574.7 502.4,569.6 504.9,564.6 507.5,559.3 510.0,553.8 512.5,548.8 515.0,544.5 517.6,540.8 520.1,537.5 522.6,534.5 525.1,532.2 527.7,530.6 530.2,529.6 532.7,529.0 535.2,528.7 537.8,528.8 540.3,529.3 542.8,529.9 545.4,530.7 547.9,531.6 550.4,532.6 552.9,533.6 555.5,534.5 558.0,535.2 560.5,535.7 563.0,536.0 565.6,536.0 568.1,535.8 570.6,535.2 573.1,534.5 575.7,533.5 578.2,532.1 580.7,530.0 583.2,526.9 585.8,523.1 588.3,519.3 590.8,515.6 593.4,511.7 595.9,507.3 598.4,502.4 600.9,497.1 603.5,491.3 606.0,485.3 608.5,478.9 611.0,472.3 613.6,465.4 616.1,458.5 618.6,451.7 621.1,444.9 623.7,438.2 626.2,431.5 628.7,424.9 631.3,418.4 633.8,412.0 636.3,405.8 638.8,399.8 641.4,394.3 643.9,389.1 646.4,384.0 648.9,379.2 651.5,374.7 654.0,371.1 656.5,368.0 659.0,365.6 661.6,364.0 664.1,363.8 666.6,365.0 669.2,367.5 671.7,371.4 674.2,377.6 676.7,385.7 679.3,394.9 681.8,406.3 684.3,420.4 686.8,435.6 689.4,451.0 691.9,466.4 694.4,481.8 696.9,497.1 699.5,512.5 702.0,527.8 704.5,543.2 707.0,558.6 709.6,573.9 712.1,589.2 714.6,604.4 717.2,619.1 719.7,633.0 722.2,645.6 724.7,657.3 727.3,668.5 729.8,678.8 732.3,687.8 734.8,695.6 737.4,702.6 739.9,708.8 742.4,714.4 744.9,719.4 747.5,723.8 750.0,727.6 752.5,730.9 755.1,733.8 757.6,736.3 760.1,738.6 762.6,740.6 765.2,742.5 767.7,744.1 770.2,745.6 772.7,746.9 775.3,748.0 777.8,749.1 780.3,750.1 782.8,750.9 785.4,751.7 787.9,752.4 790.4,753.0 792.9,753.5 795.5,754.0 798.0,754.5 800.5,754.9 803.1,755.3 815.7,757.1 828.3,758.4 841.0,759.3 853.6,760.0 866.2,760.6 878.9,761.0 891.5,761.3 904.1,761.4 916.7,761.5 929.4,761.6 942.0,761.7 954.6,761.7 967.3,761.7 979.9,761.8 992.5,761.8 1005.2,761.8 1017.8,761.8 1030.4,761.8 1043.1,761.8 1055.7,761.8 1068.3,761.8 1081.0,761.8 1093.6,761.8 1106.2,761.8 1118.9,761.8 1131.5,761.8"/>
<polyline stroke="#FB6501" points="120.9,760.5 133.5,760.5 146.2,760.5 158.8,760.5 171.4,760.5 184.1,760.5 196.7,760.5 209.3,760.5 222.0,760.5 234.6,760.5 247.2,760.5 259.9,760.5 272.5,760.5 285.1,760.5 297.8,760.4 300.3,760.3 302.8,760.0 305.3,759.7 307.9,759.4 310.4,758.9 312.9,758.5 315.4,758.1 318.0,757.7 320.5,757.2 323.0,756.8 325.5,756.2 328.1,755.7 330.6,755.1 333.1,754.5 335.7,753.9 338.2,753.2 340.7,752.5 343.2,751.7 345.8,750.9 348.3,750.1 350.8,749.1 353.3,748.2 355.9,747.1 358.4,746.1 360.9,744.9 363.4,743.8 366.0,742.6 368.5,741.4 371.0,740.2 373.6,738.9 376.1,737.6 378.6,736.4 381.1,735.1 383.7,733.7 386.2,732.3 388.7,730.9 391.2,729.4 393.8,727.9 396.3,726.3 398.8,724.7 401.3,723.1 403.9,721.4 406.4,719.8 408.9,718.1 411.4,716.5 414.0,714.8 416.5,713.1 419.0,711.3 421.6,709.5 424.1,707.7 426.6,705.7 429.1,703.7 431.7,701.6 434.2,699.4 436.7,697.0 439.2,694.4 441.8,691.7 444.3,688.8 446.8,685.8 449.3,682.6 451.9,679.3 454.4,675.9 456.9,672.3 459.5,668.6 462.0,664.6 464.5,660.5 467.0,656.3 469.6,651.9 472.1,647.3 474.6,642.5 477.1,637.6 479.7,632.8 482.2,628.0 484.7,623.2 487.2,618.5 489.8,613.7 492.3,608.9 494.8,604.0 497.3,599.1 499.9,594.3 502.4,589.8 504.9,585.3 507.5,580.5 510.0,575.7 512.5,571.2 515.0,567.4 517.6,564.0 520.1,561.0 522.6,558.4 525.1,556.3 527.7,554.9 530.2,553.9 532.7,553.4 535.2,553.2 537.8,553.3 540.3,553.7 542.8,554.2 545.4,554.9 547.9,555.8 550.4,556.7 552.9,557.6 555.5,558.4 558.0,559.0 560.5,559.5 563.0,559.7 565.6,559.7 568.1,559.5 570.6,559.0 573.1,558.4 575.7,557.5 578.2,556.2 580.7,554.3 583.2,551.5 585.8,548.2 588.3,544.8 590.8,541.5 593.4,538.0 595.9,534.0 598.4,529.7 600.9,524.9 603.5,519.7 606.0,514.3 608.5,508.6 611.0,502.7 613.6,496.5 616.1,490.4 618.6,484.3 621.1,478.2 623.7,472.1 626.2,466.2 628.7,460.3 631.3,454.5 633.8,448.7 636.3,443.1 638.8,437.8 641.4,432.9 643.9,428.2 646.4,423.7 648.9,419.3 651.5,415.4 654.0,412.1 656.5,409.4 659.0,407.2 661.6,405.8 664.1,405.6 666.6,406.7 669.2,408.9 671.7,412.4 674.2,418.0 676.7,425.2 679.3,433.4 681.8,443.6 684.3,456.3 686.8,469.9 689.4,483.6 691.9,497.4 694.4,511.2 696.9,524.9 699.5,538.6 702.0,552.4 704.5,566.1 707.0,579.9 709.6,593.7 712.1,607.3 714.6,620.9 717.2,634.1 719.7,646.5 722.2,657.8 724.7,668.3 727.3,678.3 729.8,687.5 732.3,695.5 734.8,702.6 737.4,708.8 739.9,714.3 742.4,719.4 744.9,723.8 747.5,727.7 750.0,731.2 752.5,734.2 755.1,736.8 757.6,739.0 760.1,741.0 762.6,742.8 765.2,744.5 767.7,746.0 770.2,747.3 772.7,748.5 775.3,749.5 777.8,750.4 780.3,751.3 782.8,752.1 785.4,752.8 787.9,753.4 790.4,753.9 792.9,754.4 795.5,754.8 798.0,755.2 800.5,755.6 803.1,756.0 815.7,757.6 828.3,758.7 841.0,759.6 853.6,760.2 866.2,760.7 878.9,761.1 891.5,761.3 904.1,761.5 916.7,761.5 929.4,761.6 942.0,761.7 954.6,761.7 967.3,761.8 979.9,761.8 992.5,761.8 1005.2,761.8 1017.8,761.8 1030.4,761.8 1043.1,761.8 1055.7,761.8 1068.3,761.8 1081.0,761.8 1093.6,761.8 1106.2,761.8 1118.9,761.8 1131.5,761.8"/>
<polyline stroke="#6699CC" points="120.9,760.6 133.5,760.6 146.2,760.6 158.8,760.6 171.4,760.6 184.1,760.6 196.7,760.6 209.3,760.6 222.0,760.6 234.6,760.6 247.2,760.6 259.9,760.6 272.5,760.6 285.1,760.6 297.8,760.5 300.3,760.4 302.8,760.1 305.3,759.8 307.9,759.5 310.4,759.1 312.9,758.7 315.4,758.3 318.0,757.9 320.5,757.5 323.0,757.0 325.5,756.6 328.1,756.0 330.6,755.5 333.1,754.9 335.7,754.3 338.2,753.7 340.7,753.0 343.2,752.3 345.8,751.5 348.3,750.7 350.8,749.9 353.3,748.9 355.9,748.0 358.4,747.0 360.9,745.9 363.4,744.8 366.0,743.7 368.5,742.6 371.0,741.4 373.6,740.2 376.1,739.0 378.6,737.8 381.1,736.6 383.7,735.3 386.2,734.0 388.7,732.7 391.2,731.3 393.8,729.8 396.3,728.3 398.8,726.8 401.3,725.3 403.9,723.7 406.4,722.2 408.9,720.6 411.4,719.1 414.0,717.5 416.5,715.9 419.0,714.2 421.6,712.5 424.1,710.8 426.6,708.9 429.1,707.0 431.7,705.0 434.2,702.9 436.7,700.7 439.2,698.3 441.8,695.7 444.3,693.0 446.8,690.1 449.3,687.1 451.9,684.0 454.4,680.8 456.9,677.5 459.5,673.9 462.0,670.2 464.5,666.3 467.0,662.3 469.6,658.2 472.1,653.8 474.6,649.3 477.1,644.8 479.7,640.2 482.2,635.7 484.7,631.2 487.2,626.7 489.8,622.2 492.3,617.7 494.8,613.1 497.3,608.4 499.9,604.0 502.4,599.7 504.9,595.4 507.5,591.0 510.0,586.4 512.5,582.2 515.0,578.5 517.6,575.4 520.1,572.6 522.6,570.1 525.1,568.2 527.7,566.8 530.2,565.9 532.7,565.4 535.2,565.2 537.8,565.3 540.3,565.6 542.8,566.2 545.4,566.8 547.9,567.6 550.4,568.5 552.9,569.3 555.5,570.1 558.0,570.7 560.5,571.1 563.0,571.4 565.6,571.4 568.1,571.1 570.6,570.7 573.1,570.1 575.7,569.2 578.2,568.0 580.7,566.2 583.2,563.6 585.8,560.4 588.3,557.3 590.8,554.1 593.4,550.8 595.9,547.1 598.4,543.0 600.9,538.5 603.5,533.7 606.0,528.6 608.5,523.2 611.0,517.6 613.6,511.8 616.1,506.0 618.6,500.2 621.1,494.5 623.7,488.8 626.2,483.2 628.7,477.6 631.3,472.1 633.8,466.7 636.3,461.5 638.8,456.5 641.4,451.8 643.9,447.4 646.4,443.1 648.9,439.1 651.5,435.3 654.0,432.2 656.5,429.7 659.0,427.6 661.6,426.3 664.1,426.1 666.6,427.1 669.2,429.2 671.7,432.5 674.2,437.8 676.7,444.6 679.3,452.3 681.8,461.9 684.3,473.8 686.8,486.7 689.4,499.7 691.9,512.6 694.4,525.6 696.9,538.5 699.5,551.5 702.0,564.4 704.5,577.4 707.0,590.4 709.6,603.3 712.1,616.2 714.6,629.0 717.2,641.5 719.7,653.1 722.2,663.7 724.7,673.7 727.3,683.1 729.8,691.8 732.3,699.3 734.8,706.0 737.4,711.8 739.9,717.1 742.4,721.8 744.9,726.0 747.5,729.7 750.0,732.9 752.5,735.8 755.1,738.2 757.6,740.3 760.1,742.2 762.6,743.9 765.2,745.5 767.7,746.9 770.2,748.1 772.7,749.2 775.3,750.2 777.8,751.1 780.3,751.9 782.8,752.6 785.4,753.3 787.9,753.8 790.4,754.3 792.9,754.8 795.5,755.2 798.0,755.6 800.5,756.0 803.1,756.4 815.7,757.8 828.3,758.9 841.0,759.7 853.6,760.3 866.2,760.7 878.9,761.1 891.5,761.4 904.1,761.5 916.7,761.6 929.4,761.6 942.0,761.7 954.6,761.7 967.3,761.8 979.9,761.8 992.5,761.8 1005.2,761.8 1017.8,761.8 1030.4,761.8 1043.1,761.8 1055.7,761.8 1068.3,761.8 1081.0,761.8 1093.6,761.8 1106.2,761.8 1118.9,761.8 1131.5,761.8"/>
<polyline stroke="#6FB802" points="120.9,761.5 133.5,761.5 146.2,761.5 158.8,761.5 171.4,761.5 184.1,761.5 196.7,761.5 209.3,761.5 222.0,761.5 234.6,761.5 247.2,761.5 259.9,761.5 272.5,761.5 285.1,761.5 297.8,761.4 300.3,761.3 302.8,761.1 305.3,760.8 307.9,760.5 310.4,760.1 312.9,759.8 315.4,759.4 318.0,759.0 320.5,758.6 323.0,758.2 325.5,757.7 328.1,757.2 330.6,756.7 333.1,756.1 335.7,755.5 338.2,754.9 340.7,754.3 343.2,753.6 345.8,752.9 348.3,752.1 350.8,751.3 353.3,750.4 355.9,749.5 358.4,748.5 360.9,747.5 363.4,746.5 366.0,745.4 368.5,744.3 371.0,743.2 373.6,742.0 376.1,740.9 378.6,739.7 381.1,738.6 383.7,737.4 386.2,736.1 388.7,734.8 391.2,733.5 393.8,732.1 396.3,730.7 398.8,729.2 401.3,727.7 403.9,726.3 406.4,724.8 408.9,723.3 411.4,721.8 414.0,720.3 416.5,718.7 419.0,717.2 421.6,715.5 424.1,713.8 426.6,712.1 429.1,710.3 431.7,708.4 434.2,706.4 436.7,704.2 439.2,701.9 441.8,699.4 444.3,696.8 446.8,694.1 449.3,691.2 451.9,688.2 454.4,685.2 456.9,682.0 459.5,678.6 462.0,675.0 464.5,671.3 467.0,667.5 469.6,663.5 472.1,659.3 474.6,655.0 477.1,650.6 479.7,646.3 482.2,641.9 484.7,637.7 487.2,633.4 489.8,629.1 492.3,624.7 494.8,620.3 497.3,615.9 499.9,611.6 502.4,607.5 504.9,603.4 507.5,599.1 510.0,594.8 512.5,590.7 515.0,587.2 517.6,584.2 520.1,581.5 522.6,579.2 525.1,577.3 527.7,576.0 530.2,575.1 532.7,574.7 535.2,574.5 537.8,574.6 540.3,574.9 542.8,575.4 545.4,576.0 547.9,576.8 550.4,577.6 552.9,578.4 555.5,579.2 558.0,579.7 560.5,580.1 563.0,580.4 565.6,580.4 568.1,580.2 570.6,579.7 573.1,579.2 575.7,578.3 578.2,577.2 580.7,575.5 583.2,573.0 585.8,569.9 588.3,566.9 590.8,563.9 593.4,560.7 595.9,557.2 598.4,553.2 600.9,548.9 603.5,544.3 606.0,539.4 608.5,534.3 611.0,528.9 613.6,523.3 616.1,517.8 618.6,512.3 621.1,506.8 623.7,501.3 626.2,496.0 628.7,490.6 631.3,485.4 633.8,480.2 636.3,475.2 638.8,470.4 641.4,465.9 643.9,461.7 646.4,457.6 648.9,453.7 651.5,450.1 654.0,447.1 656.5,444.7 659.0,442.7 661.6,441.4 664.1,441.3 666.6,442.3 669.2,444.3 671.7,447.4 674.2,452.5 676.7,459.0 679.3,466.4 681.8,475.6 684.3,487.0 686.8,499.3 689.4,511.7 691.9,524.1 694.4,536.5 696.9,548.9 699.5,561.3 702.0,573.7 704.5,586.1 707.0,598.6 709.6,611.0 712.1,623.3 714.6,635.6 717.2,647.5 719.7,658.7 722.2,668.8 724.7,678.3 727.3,687.4 729.8,695.7 732.3,702.9 734.8,709.3 737.4,714.9 739.9,719.9 742.4,724.4 744.9,728.4 747.5,732.0 750.0,735.1 752.5,737.8 755.1,740.1 757.6,742.1 760.1,743.9 762.6,745.6 765.2,747.1 767.7,748.4 770.2,749.6 772.7,750.7 775.3,751.6 777.8,752.4 780.3,753.2 782.8,753.9 785.4,754.5 787.9,755.1 790.4,755.6 792.9,756.0 795.5,756.4 798.0,756.8 800.5,757.1 803.1,757.5 815.7,758.9 828.3,759.9 841.0,760.7 853.6,761.3 866.2,761.7 878.9,762.0 891.5,762.3 904.1,762.4 916.7,762.5 929.4,762.5 942.0,762.6 954.6,762.6 967.3,762.7 979.9,762.7 992.5,762.7 1005.2,762.7 1017.8,762.7 1030.4,762.7 1043.1,762.7 1055.7,762.7 1068.3,762.7 1081.0,762.7 1093.6,762.7 1106.2,762.7 1118.9,762.7 1131.5,762.7"/>
<polyline stroke="#000000" points="120.9,762.6 133.5,762.6 146.2,762.6 158.8,762.6 171.4,762.6 184.1,762.6 196.7,762.6 209.3,762.6 222.0,762.6 234.6,762.6 247.2,762.6 259.9,762.6 272.5,762.6 285.1,762.6 297.8,762.5 300.3,762.4 302.8,762.2 305.3,761.9 307.9,761.6 310.4,761.2 312.9,760.9 315.4,760.5 318.0,760.1 320.5,759.7 323.0,759.3 325.5,758.9 328.1,758.4 330.6,757.9 333.1,757.3 335.7,756.8 338.2,756.2 340.7,755.6 343.2,754.9 345.8,754.2 348.3,753.5 350.8,752.7 353.3,751.8 355.9,750.9 358.4,750.0 360.9,749.0 363.4,748.0 366.0,747.0 368.5,745.9 371.0,744.9 373.6,743.8 376.1,742.7 378.6,741.6 381.1,740.4 383.7,739.3 386.2,738.1 388.7,736.8 391.2,735.5 393.8,734.2 396.3,732.8 398.8,731.4 401.3,730.0 403.9,728.6 406.4,727.1 408.9,725.7 411.4,724.2 414.0,722.8 416.5,721.3 419.0,719.8 421.6,718.2 424.1,716.6 426.6,714.9 429.1,713.1 431.7,711.3 434.2,709.3 436.7,707.3 439.2,705.1 441.8,702.7 444.3,700.2 446.8,697.5 449.3,694.7 451.9,691.9 454.4,688.9 456.9,685.8 459.5,682.5 462.0,679.1 464.5,675.5 467.0,671.8 469.6,668.0 472.1,664.0 474.6,659.9 477.1,655.6 479.7,651.4 482.2,647.2 484.7,643.1 487.2,639.0 489.8,634.8 492.3,630.6 494.8,626.3 497.3,622.1 499.9,618.0 502.4,614.0 504.9,610.1 507.5,605.9 510.0,601.7 512.5,597.8 515.0,594.5 517.6,591.6 520.1,589.0 522.6,586.7 525.1,584.9 527.7,583.6 530.2,582.8 532.7,582.4 535.2,582.2 537.8,582.2 540.3,582.6 542.8,583.0 545.4,583.7 547.9,584.4 550.4,585.2 552.9,586.0 555.5,586.7 558.0,587.2 560.5,587.6 563.0,587.8 565.6,587.8 568.1,587.6 570.6,587.2 573.1,586.7 575.7,585.9 578.2,584.8 580.7,583.1 583.2,580.7 585.8,577.8 588.3,574.8 590.8,571.9 593.4,568.9 595.9,565.5 598.4,561.7 600.9,557.5 603.5,553.0 606.0,548.3 608.5,543.4 611.0,538.2 613.6,532.8 616.1,527.5 618.6,522.1 621.1,516.9 623.7,511.6 626.2,506.4 628.7,501.3 631.3,496.2 633.8,491.2 636.3,486.4 638.8,481.8 641.4,477.4 643.9,473.3 646.4,469.4 648.9,465.7 651.5,462.2 654.0,459.3 656.5,457.0 659.0,455.1 661.6,453.8 664.1,453.7 666.6,454.6 669.2,456.6 671.7,459.6 674.2,464.5 676.7,470.8 679.3,477.9 681.8,486.8 684.3,497.8 686.8,509.6 689.4,521.6 691.9,533.6 694.4,545.6 696.9,557.5 699.5,569.5 702.0,581.4 704.5,593.4 707.0,605.4 709.6,617.4 712.1,629.3 714.6,641.1 717.2,652.6 719.7,663.3 722.2,673.2 724.7,682.3 727.3,691.1 729.8,699.0 732.3,706.0 734.8,712.2 737.4,717.6 739.9,722.4 742.4,726.8 744.9,730.7 747.5,734.1 750.0,737.0 752.5,739.6 755.1,741.9 757.6,743.9 760.1,745.6 762.6,747.2 765.2,748.6 767.7,749.9 770.2,751.1 772.7,752.1 775.3,753.0 777.8,753.8 780.3,754.6 782.8,755.2 785.4,755.8 787.9,756.4 790.4,756.8 792.9,757.2 795.5,757.6 798.0,758.0 800.5,758.3 803.1,758.7 815.7,760.0 828.3,761.0 841.0,761.8 853.6,762.3 866.2,762.7 878.9,763.1 891.5,763.3 904.1,763.4 916.7,763.5 929.4,763.5 942.0,763.6 954.6,763.6 967.3,763.7 979.9,763.7 992.5,763.7 1005.2,763.7 1017.8,763.7 1030.4,763.7 1043.1,763.7 1055.7,763.7 1068.3,763.7 1081.0,763.7 1093.6,763.7 1106.2,763.7 1118.9,763.7 1131.5,763.7"/>
<polyline stroke="#F14040" points="120.9,764.1 133.5,764.1 146.2,764.1 158.8,764.1 171.4,764.1 184.1,764.1 196.7,764.1 209.3,764.1 222.0,764.1 234.6,764.1 247.2,764.1 259.9,764.1 272.5,764.1 285.1,764.1 297.8,764.0 300.3,763.9 302.8,763.7 305.3,763.4 307.9,763.1 310.4,762.8 312.9,762.4 315.4,762.1 318.0,761.7 320.5,761.3 323.0,760.9 325.5,760.4 328.1,760.0 330.6,759.5 333.1,759.0 335.7,758.4 338.2,757.8 340.7,757.2 343.2,756.6 345.8,755.9 348.3,755.2 350.8,754.4 353.3,753.5 355.9,752.7 358.4,751.7 360.9,750.8 363.4,749.8 366.0,748.8 368.5,747.8 371.0,746.7 373.6,745.6 376.1,744.5 378.6,743.4 381.1,742.3 383.7,741.2 386.2,740.0 388.7,738.8 391.2,737.5 393.8,736.2 396.3,734.8 398.8,733.5 401.3,732.1 403.9,730.7 406.4,729.3 408.9,727.9 411.4,726.4 414.0,725.0 416.5,723.5 419.0,722.0 421.6,720.5 424.1,718.9 426.6,717.2 429.1,715.5 431.7,713.7 434.2,711.8 436.7,709.8 439.2,707.6 441.8,705.3 444.3,702.8 446.8,700.2 449.3,697.4 451.9,694.6 454.4,691.7 456.9,688.7 459.5,685.5 462.0,682.1 464.5,678.6 467.0,674.9 469.6,671.2 472.1,667.2 474.6,663.2 477.1,659.0 479.7,654.9 482.2,650.8 484.7,646.7 487.2,642.6 489.8,638.5 492.3,634.4 494.8,630.2 497.3,626.1 499.9,622.0 502.4,618.1 504.9,614.2 507.5,610.2 510.0,606.0 512.5,602.2 515.0,598.9 517.6,596.1 520.1,593.5 522.6,591.3 525.1,589.5 527.7,588.2 530.2,587.4 532.7,587.0 535.2,586.8 537.8,586.9 540.3,587.2 542.8,587.7 545.4,588.3 547.9,589.0 550.4,589.8 552.9,590.6 555.5,591.3 558.0,591.8 560.5,592.2 563.0,592.4 565.6,592.4 568.1,592.2 570.6,591.8 573.1,591.2 575.7,590.5 578.2,589.4 580.7,587.8 583.2,585.4 585.8,582.5 588.3,579.6 590.8,576.8 593.4,573.8 595.9,570.4 598.4,566.7 600.9,562.6 603.5,558.2 606.0,553.6 608.5,548.7 611.0,543.6 613.6,538.3 616.1,533.1 618.6,527.9 621.1,522.7 623.7,517.5 626.2,512.4 628.7,507.3 631.3,502.4 633.8,497.5 636.3,492.7 638.8,488.2 641.4,483.9 643.9,479.9 646.4,476.1 648.9,472.3 651.5,468.9 654.0,466.1 656.5,463.8 659.0,461.9 661.6,460.7 664.1,460.6 666.6,461.5 669.2,463.4 671.7,466.4 674.2,471.2 676.7,477.4 679.3,484.4 681.8,493.1 684.3,503.9 686.8,515.5 689.4,527.3 691.9,539.1 694.4,550.9 696.9,562.6 699.5,574.4 702.0,586.1 704.5,597.9 707.0,609.7 709.6,621.4 712.1,633.1 714.6,644.7 717.2,656.0 719.7,666.6 722.2,676.2 724.7,685.2 727.3,693.8 729.8,701.7 732.3,708.5 734.8,714.6 737.4,719.9 739.9,724.6 742.4,728.9 744.9,732.7 747.5,736.1 750.0,739.0 752.5,741.6 755.1,743.8 757.6,745.7 760.1,747.4 762.6,749.0 765.2,750.4 767.7,751.7 770.2,752.8 772.7,753.8 775.3,754.7 777.8,755.5 780.3,756.2 782.8,756.9 785.4,757.5 787.9,758.0 790.4,758.4 792.9,758.8 795.5,759.2 798.0,759.6 800.5,759.9 803.1,760.3 815.7,761.6 828.3,762.6 841.0,763.3 853.6,763.9 866.2,764.2 878.9,764.6 891.5,764.8 904.1,764.9 916.7,765.0 929.4,765.0 942.0,765.1 954.6,765.1 967.3,765.2 979.9,765.2 992.5,765.2 1005.2,765.2 1017.8,765.2 1030.4,765.2 1043.1,765.2 1055.7,765.2 1068.3,765.2 1081.0,765.2 1093.6,765.2 1106.2,765.2 1118.9,765.2 1131.5,765.2"/>
</g>
<g class="c" clip-path="url(#cr)">
<polyline stroke="#000000" points="1226.0,765.3 1238.6,765.3 1251.3,765.3 1263.9,765.3 1276.5,765.3 1289.2,765.3 1301.8,765.3 1314.4,765.3 1327.1,765.3 1339.7,765.3 1352.3,765.3 1365.0,765.3 1377.6,765.3 1390.2,765.2 1402.9,765.0 1405.4,764.8 1407.9,764.3 1410.4,763.7 1413.0,763.0 1415.5,762.2 1418.0,761.4 1420.5,760.6 1423.1,759.7 1425.6,758.8 1428.1,757.9 1430.6,756.9 1433.2,755.8 1435.7,754.6 1438.2,753.4 1440.8,752.2 1443.3,750.8 1445.8,749.4 1448.3,748.0 1450.9,746.4 1453.4,744.7 1455.9,742.9 1458.4,740.9 1461.0,738.9 1463.5,736.8 1466.0,734.6 1468.5,732.3 1471.1,730.0 1473.6,727.6 1476.1,725.2 1478.7,722.7 1481.2,720.2 1483.7,717.7 1486.2,715.2 1488.8,712.5 1491.3,709.8 1493.8,707.0 1496.3,704.0 1498.9,701.0 1501.4,697.9 1503.9,694.7 1506.4,691.5 1509.0,688.3 1511.5,685.1 1514.0,681.8 1516.5,678.6 1519.1,675.2 1521.6,671.9 1524.1,668.4 1526.7,664.9 1529.2,661.2 1531.7,657.4 1534.2,653.4 1536.8,649.2 1539.3,644.8 1541.8,640.2 1544.3,635.2 1546.9,629.8 1549.4,624.1 1551.9,618.1 1554.4,611.8 1557.0,605.3 1559.5,598.6 1562.0,591.6 1564.6,584.2 1567.1,576.4 1569.6,568.3 1572.1,560.0 1574.7,551.3 1577.2,542.3 1579.7,532.9 1582.2,523.3 1584.8,513.7 1587.3,504.3 1589.8,495.0 1592.3,485.6 1594.9,476.2 1597.4,466.7 1599.9,457.1 1602.4,447.4 1605.0,438.1 1607.5,429.2 1610.0,420.2 1612.6,410.9 1615.1,401.3 1617.6,392.5 1620.1,385.0 1622.7,378.4 1625.2,372.5 1627.7,367.3 1630.2,363.3 1632.8,360.4 1635.3,358.6 1637.8,357.6 1640.3,357.1 1642.9,357.3 1645.4,358.0 1647.9,359.1 1650.5,360.5 1653.0,362.2 1655.5,364.0 1658.0,365.8 1660.6,367.4 1663.1,368.6 1665.6,369.4 1668.1,370.0 1670.7,370.0 1673.2,369.5 1675.7,368.6 1678.2,367.3 1680.8,365.5 1683.3,363.0 1685.8,359.3 1688.3,353.8 1690.9,347.2 1693.4,340.5 1695.9,334.0 1698.5,327.1 1701.0,319.4 1703.5,310.7 1706.0,301.3 1708.6,291.2 1711.1,280.6 1713.6,269.4 1716.1,257.6 1718.7,245.5 1721.2,233.4 1723.7,221.4 1726.2,209.4 1728.8,197.5 1731.3,185.8 1733.8,174.1 1736.4,162.7 1738.9,151.4 1741.4,140.4 1743.9,130.0 1746.5,120.2 1749.0,111.0 1751.5,102.1 1754.0,93.6 1756.6,85.7 1759.1,79.3 1761.6,73.9 1764.1,69.6 1766.7,66.8 1769.2,66.5 1771.7,68.6 1774.3,73.0 1776.8,79.9 1779.3,90.9 1781.8,105.1 1784.4,121.2 1786.9,141.3 1789.4,166.2 1791.9,193.0 1794.5,220.2 1797.0,247.3 1799.5,274.3 1802.0,301.4 1804.6,328.4 1807.1,355.5 1809.6,382.6 1812.1,409.7 1814.7,436.8 1817.2,463.7 1819.7,490.4 1822.3,516.4 1824.8,540.8 1827.3,563.0 1829.8,583.7 1832.4,603.5 1834.9,621.5 1837.4,637.3 1839.9,651.2 1842.5,663.4 1845.0,674.4 1847.5,684.2 1850.0,693.0 1852.6,700.8 1855.1,707.5 1857.6,713.4 1860.2,718.5 1862.7,722.9 1865.2,726.9 1867.7,730.5 1870.3,733.7 1872.8,736.6 1875.3,739.2 1877.8,741.5 1880.4,743.6 1882.9,745.4 1885.4,747.1 1887.9,748.7 1890.5,750.0 1893.0,751.2 1895.5,752.2 1898.0,753.1 1900.6,754.0 1903.1,754.9 1905.6,755.7 1908.2,756.4 1920.8,759.5 1933.4,761.8 1946.1,763.4 1958.7,764.7 1971.3,765.6 1984.0,766.4 1996.6,766.9 2009.2,767.1 2021.8,767.3 2034.5,767.4 2047.1,767.5 2059.7,767.6 2072.4,767.7 2085.0,767.8 2097.6,767.8 2110.3,767.8 2122.9,767.8 2135.5,767.8 2148.2,767.8 2160.8,767.8 2173.4,767.8 2186.1,767.8 2198.7,767.8 2211.3,767.8 2224.0,767.8 2236.6,767.8"/>
<polyline stroke="#F14040" points="1226.0,765.7 1238.6,765.7 1251.3,765.7 1263.9,765.7 1276.5,765.7 1289.2,765.7 1301.8,765.7 1314.4,765.7 1327.1,765.7 1339.7,765.7 1352.3,765.7 1365.0,765.7 1377.6,765.7 1390.2,765.6 1402.9,765.5 1405.4,765.3 1407.9,764.9 1410.4,764.3 1413.0,763.6 1415.5,762.9 1418.0,762.2 1420.5,761.4 1423.1,760.7 1425.6,759.9 1428.1,759.0 1430.6,758.1 1433.2,757.1 1435.7,756.0 1438.2,754.9 1440.8,753.8 1443.3,752.6 1445.8,751.3 1448.3,750.0 1450.9,748.5 1453.4,747.0 1455.9,745.3 1458.4,743.6 1461.0,741.7 1463.5,739.8 1466.0,737.8 1468.5,735.8 1471.1,733.7 1473.6,731.5 1476.1,729.3 1478.7,727.1 1481.2,724.8 1483.7,722.5 1486.2,720.2 1488.8,717.8 1491.3,715.3 1493.8,712.7 1496.3,710.0 1498.9,707.3 1501.4,704.5 1503.9,701.6 1506.4,698.7 1509.0,695.7 1511.5,692.8 1514.0,689.9 1516.5,686.9 1519.1,683.9 1521.6,680.8 1524.1,677.7 1526.7,674.5 1529.2,671.1 1531.7,667.7 1534.2,664.0 1536.8,660.2 1539.3,656.3 1541.8,652.0 1544.3,647.5 1546.9,642.6 1549.4,637.4 1551.9,631.9 1554.4,626.2 1557.0,620.4 1559.5,614.3 1562.0,607.9 1564.6,601.2 1567.1,594.1 1569.6,586.7 1572.1,579.2 1574.7,571.3 1577.2,563.1 1579.7,554.5 1582.2,545.8 1584.8,537.1 1587.3,528.6 1589.8,520.0 1592.3,511.5 1594.9,503.0 1597.4,494.4 1599.9,485.6 1602.4,476.9 1605.0,468.4 1607.5,460.2 1610.0,452.1 1612.6,443.7 1615.1,435.0 1617.6,427.0 1620.1,420.1 1622.7,414.1 1625.2,408.8 1627.7,404.1 1630.2,400.4 1632.8,397.8 1635.3,396.1 1637.8,395.2 1640.3,394.8 1642.9,395.0 1645.4,395.6 1647.9,396.6 1650.5,397.9 1653.0,399.4 1655.5,401.0 1658.0,402.6 1660.6,404.1 1663.1,405.2 1665.6,406.0 1668.1,406.5 1670.7,406.5 1673.2,406.0 1675.7,405.2 1678.2,404.0 1680.8,402.4 1683.3,400.1 1685.8,396.8 1688.3,391.8 1690.9,385.7 1693.4,379.7 1695.9,373.8 1698.5,367.5 1701.0,360.5 1703.5,352.6 1706.0,344.1 1708.6,334.9 1711.1,325.2 1713.6,315.1 1716.1,304.4 1718.7,293.3 1721.2,282.3 1723.7,271.4 1726.2,260.5 1728.8,249.7 1731.3,239.1 1733.8,228.5 1736.4,218.1 1738.9,207.8 1741.4,197.8 1743.9,188.4 1746.5,179.5 1749.0,171.1 1751.5,163.1 1754.0,155.3 1756.6,148.2 1759.1,142.3 1761.6,137.4 1764.1,133.5 1766.7,131.0 1769.2,130.6 1771.7,132.6 1774.3,136.6 1776.8,142.9 1779.3,152.8 1781.8,165.8 1784.4,180.4 1786.9,198.7 1789.4,221.3 1791.9,245.7 1794.5,270.3 1797.0,295.0 1799.5,319.6 1802.0,344.1 1804.6,368.7 1807.1,393.3 1809.6,417.9 1812.1,442.6 1814.7,467.2 1817.2,491.6 1819.7,515.9 1822.3,539.6 1824.8,561.7 1827.3,581.9 1829.8,600.7 1832.4,618.7 1834.9,635.1 1837.4,649.4 1839.9,662.0 1842.5,673.2 1845.0,683.1 1847.5,692.1 1850.0,700.1 1852.6,707.1 1855.1,713.2 1857.6,718.6 1860.2,723.2 1862.7,727.2 1865.2,730.8 1867.7,734.1 1870.3,737.0 1872.8,739.7 1875.3,742.0 1877.8,744.1 1880.4,746.0 1882.9,747.7 1885.4,749.2 1887.9,750.6 1890.5,751.8 1893.0,752.9 1895.5,753.8 1898.0,754.7 1900.6,755.5 1903.1,756.3 1905.6,757.0 1908.2,757.7 1920.8,760.5 1933.4,762.5 1946.1,764.0 1958.7,765.2 1971.3,766.0 1984.0,766.7 1996.6,767.2 2009.2,767.4 2021.8,767.5 2034.5,767.7 2047.1,767.8 2059.7,767.9 2072.4,767.9 2085.0,768.0 2097.6,768.0 2110.3,768.0 2122.9,768.0 2135.5,768.0 2148.2,768.0 2160.8,768.0 2173.4,768.0 2186.1,768.0 2198.7,768.0 2211.3,768.0 2224.0,768.0 2236.6,768.0"/>
<polyline stroke="#1A6FDF" points="1226.0,768.0 1238.6,768.0 1251.3,768.0 1263.9,768.0 1276.5,768.0 1289.2,768.0 1301.8,768.0 1314.4,768.0 1327.1,768.0 1339.7,768.0 1352.3,768.0 1365.0,768.0 1377.6,767.9 1390.2,767.9 1402.9,767.8 1405.4,767.6 1407.9,767.2 1410.4,766.7 1413.0,766.1 1415.5,765.5 1418.0,764.8 1420.5,764.1 1423.1,763.5 1425.6,762.7 1428.1,762.0 1430.6,761.1 1433.2,760.3 1435.7,759.3 1438.2,758.4 1440.8,757.3 1443.3,756.3 1445.8,755.1 1448.3,753.9 1450.9,752.7 1453.4,751.3 1455.9,749.8 1458.4,748.2 1461.0,746.6 1463.5,744.9 1466.0,743.1 1468.5,741.3 1471.1,739.4 1473.6,737.5 1476.1,735.5 1478.7,733.5 1481.2,731.5 1483.7,729.5 1486.2,727.4 1488.8,725.3 1491.3,723.1 1493.8,720.8 1496.3,718.4 1498.9,715.9 1501.4,713.4 1503.9,710.8 1506.4,708.2 1509.0,705.6 1511.5,703.0 1514.0,700.4 1516.5,697.8 1519.1,695.1 1521.6,692.3 1524.1,689.6 1526.7,686.7 1529.2,683.7 1531.7,680.6 1534.2,677.4 1536.8,674.0 1539.3,670.5 1541.8,666.7 1544.3,662.6 1546.9,658.3 1549.4,653.6 1551.9,648.8 1554.4,643.7 1557.0,638.5 1559.5,633.1 1562.0,627.4 1564.6,621.4 1567.1,615.1 1569.6,608.5 1572.1,601.8 1574.7,594.8 1577.2,587.4 1579.7,579.8 1582.2,572.1 1584.8,564.3 1587.3,556.7 1589.8,549.1 1592.3,541.5 1594.9,533.9 1597.4,526.2 1599.9,518.4 1602.4,510.7 1605.0,503.1 1607.5,495.8 1610.0,488.6 1612.6,481.1 1615.1,473.3 1617.6,466.2 1620.1,460.1 1622.7,454.8 1625.2,450.0 1627.7,445.8 1630.2,442.5 1632.8,440.2 1635.3,438.7 1637.8,437.9 1640.3,437.5 1642.9,437.7 1645.4,438.3 1647.9,439.1 1650.5,440.3 1653.0,441.6 1655.5,443.1 1658.0,444.5 1660.6,445.8 1663.1,446.8 1665.6,447.5 1668.1,447.9 1670.7,447.9 1673.2,447.5 1675.7,446.8 1678.2,445.8 1680.8,444.3 1683.3,442.3 1685.8,439.3 1688.3,434.8 1690.9,429.5 1693.4,424.1 1695.9,418.8 1698.5,413.2 1701.0,407.0 1703.5,400.0 1706.0,392.3 1708.6,384.2 1711.1,375.6 1713.6,366.5 1716.1,357.0 1718.7,347.2 1721.2,337.4 1723.7,327.6 1726.2,317.9 1728.8,308.3 1731.3,298.8 1733.8,289.4 1736.4,280.1 1738.9,271.0 1741.4,262.1 1743.9,253.7 1746.5,245.7 1749.0,238.3 1751.5,231.1 1754.0,224.2 1756.6,217.8 1759.1,212.6 1761.6,208.3 1764.1,204.8 1766.7,202.5 1769.2,202.2 1771.7,204.0 1774.3,207.5 1776.8,213.1 1779.3,222.0 1781.8,233.5 1784.4,246.6 1786.9,262.9 1789.4,283.0 1791.9,304.7 1794.5,326.7 1797.0,348.6 1799.5,370.5 1802.0,392.4 1804.6,414.3 1807.1,436.2 1809.6,458.1 1812.1,480.1 1814.7,502.0 1817.2,523.8 1819.7,545.4 1822.3,566.5 1824.8,586.2 1827.3,604.2 1829.8,620.9 1832.4,637.0 1834.9,651.6 1837.4,664.4 1839.9,675.6 1842.5,685.5 1845.0,694.4 1847.5,702.3 1850.0,709.5 1852.6,715.7 1855.1,721.2 1857.6,726.0 1860.2,730.1 1862.7,733.7 1865.2,736.9 1867.7,739.8 1870.3,742.4 1872.8,744.8 1875.3,746.9 1877.8,748.7 1880.4,750.4 1882.9,751.9 1885.4,753.3 1887.9,754.5 1890.5,755.6 1893.0,756.5 1895.5,757.4 1898.0,758.1 1900.6,758.9 1903.1,759.5 1905.6,760.2 1908.2,760.8 1920.8,763.3 1933.4,765.1 1946.1,766.5 1958.7,767.5 1971.3,768.2 1984.0,768.8 1996.6,769.3 2009.2,769.5 2021.8,769.6 2034.5,769.7 2047.1,769.8 2059.7,769.9 2072.4,769.9 2085.0,770.0 2097.6,770.0 2110.3,770.0 2122.9,770.0 2135.5,770.0 2148.2,770.0 2160.8,770.0 2173.4,770.0 2186.1,770.0 2198.7,770.0 2211.3,770.0 2224.0,770.0 2236.6,770.0"/>
<polyline stroke="#37AD6B" points="1226.0,768.2 1238.6,768.2 1251.3,768.2 1263.9,768.2 1276.5,768.2 1289.2,768.2 1301.8,768.2 1314.4,768.2 1327.1,768.2 1339.7,768.2 1352.3,768.2 1365.0,768.2 1377.6,768.2 1390.2,768.2 1402.9,768.1 1405.4,767.9 1407.9,767.6 1410.4,767.1 1413.0,766.6 1415.5,766.0 1418.0,765.5 1420.5,764.9 1423.1,764.3 1425.6,763.7 1428.1,763.0 1430.6,762.2 1433.2,761.5 1435.7,760.7 1438.2,759.8 1440.8,758.9 1443.3,758.0 1445.8,757.0 1448.3,756.0 1450.9,754.8 1453.4,753.6 1455.9,752.3 1458.4,751.0 1461.0,749.5 1463.5,748.0 1466.0,746.5 1468.5,744.9 1471.1,743.2 1473.6,741.6 1476.1,739.8 1478.7,738.1 1481.2,736.3 1483.7,734.5 1486.2,732.7 1488.8,730.9 1491.3,728.9 1493.8,726.9 1496.3,724.8 1498.9,722.7 1501.4,720.5 1503.9,718.2 1506.4,716.0 1509.0,713.7 1511.5,711.4 1514.0,709.1 1516.5,706.8 1519.1,704.5 1521.6,702.1 1524.1,699.6 1526.7,697.1 1529.2,694.5 1531.7,691.8 1534.2,689.0 1536.8,686.0 1539.3,682.9 1541.8,679.6 1544.3,676.1 1546.9,672.3 1549.4,668.2 1551.9,664.0 1554.4,659.5 1557.0,654.9 1559.5,650.2 1562.0,645.2 1564.6,640.0 1567.1,634.5 1569.6,628.7 1572.1,622.8 1574.7,616.7 1577.2,610.3 1579.7,603.6 1582.2,596.8 1584.8,590.1 1587.3,583.4 1589.8,576.8 1592.3,570.1 1594.9,563.5 1597.4,556.8 1599.9,549.9 1602.4,543.1 1605.0,536.5 1607.5,530.2 1610.0,523.9 1612.6,517.2 1615.1,510.5 1617.6,504.2 1620.1,498.9 1622.7,494.2 1625.2,490.1 1627.7,486.4 1630.2,483.5 1632.8,481.5 1635.3,480.2 1637.8,479.5 1640.3,479.2 1642.9,479.3 1645.4,479.8 1647.9,480.6 1650.5,481.6 1653.0,482.7 1655.5,484.0 1658.0,485.3 1660.6,486.4 1663.1,487.3 1665.6,487.9 1668.1,488.2 1670.7,488.3 1673.2,487.9 1675.7,487.3 1678.2,486.4 1680.8,485.1 1683.3,483.3 1685.8,480.7 1688.3,476.8 1690.9,472.1 1693.4,467.4 1695.9,462.8 1698.5,457.9 1701.0,452.4 1703.5,446.3 1706.0,439.6 1708.6,432.5 1711.1,424.9 1713.6,417.0 1716.1,408.7 1718.7,400.1 1721.2,391.5 1723.7,383.0 1726.2,374.5 1728.8,366.1 1731.3,357.8 1733.8,349.6 1736.4,341.5 1738.9,333.5 1741.4,325.7 1743.9,318.3 1746.5,311.4 1749.0,304.8 1751.5,298.6 1754.0,292.5 1756.6,287.0 1759.1,282.4 1761.6,278.6 1764.1,275.5 1766.7,273.6 1769.2,273.3 1771.7,274.8 1774.3,277.9 1776.8,282.8 1779.3,290.6 1781.8,300.7 1784.4,312.1 1786.9,326.3 1789.4,344.0 1791.9,363.0 1794.5,382.2 1797.0,401.4 1799.5,420.5 1802.0,439.7 1804.6,458.9 1807.1,478.0 1809.6,497.2 1812.1,516.4 1814.7,535.6 1817.2,554.6 1819.7,573.5 1822.3,592.0 1824.8,609.2 1827.3,624.9 1829.8,639.6 1832.4,653.6 1834.9,666.4 1837.4,677.6 1839.9,687.4 1842.5,696.1 1845.0,703.8 1847.5,710.8 1850.0,717.1 1852.6,722.5 1855.1,727.3 1857.6,731.5 1860.2,735.1 1862.7,738.2 1865.2,741.0 1867.7,743.6 1870.3,745.9 1872.8,747.9 1875.3,749.8 1877.8,751.4 1880.4,752.8 1882.9,754.2 1885.4,755.4 1887.9,756.4 1890.5,757.4 1893.0,758.2 1895.5,759.0 1898.0,759.6 1900.6,760.3 1903.1,760.8 1905.6,761.4 1908.2,761.9 1920.8,764.1 1933.4,765.7 1946.1,766.9 1958.7,767.8 1971.3,768.4 1984.0,769.0 1996.6,769.4 2009.2,769.5 2021.8,769.6 2034.5,769.7 2047.1,769.8 2059.7,769.9 2072.4,769.9 2085.0,770.0 2097.6,770.0 2110.3,770.0 2122.9,770.0 2135.5,770.0 2148.2,770.0 2160.8,770.0 2173.4,770.0 2186.1,770.0 2198.7,770.0 2211.3,770.0 2224.0,770.0 2236.6,770.0"/>
<polyline stroke="#B177DE" points="1226.0,768.3 1238.6,768.3 1251.3,768.3 1263.9,768.3 1276.5,768.3 1289.2,768.3 1301.8,768.3 1314.4,768.3 1327.1,768.3 1339.7,768.3 1352.3,768.3 1365.0,768.3 1377.6,768.3 1390.2,768.2 1402.9,768.1 1405.4,768.0 1407.9,767.6 1410.4,767.2 1413.0,766.7 1415.5,766.2 1418.0,765.6 1420.5,765.1 1423.1,764.5 1425.6,763.9 1428.1,763.2 1430.6,762.6 1433.2,761.8 1435.7,761.0 1438.2,760.2 1440.8,759.4 1443.3,758.5 1445.8,757.5 1448.3,756.5 1450.9,755.4 1453.4,754.3 1455.9,753.0 1458.4,751.7 1461.0,750.3 1463.5,748.9 1466.0,747.4 1468.5,745.9 1471.1,744.3 1473.6,742.7 1476.1,741.0 1478.7,739.3 1481.2,737.6 1483.7,735.9 1486.2,734.2 1488.8,732.4 1491.3,730.5 1493.8,728.6 1496.3,726.6 1498.9,724.5 1501.4,722.4 1503.9,720.3 1506.4,718.1 1509.0,715.9 1511.5,713.7 1514.0,711.5 1516.5,709.3 1519.1,707.0 1521.6,704.7 1524.1,702.4 1526.7,700.0 1529.2,697.5 1531.7,694.9 1534.2,692.2 1536.8,689.3 1539.3,686.3 1541.8,683.2 1544.3,679.8 1546.9,676.1 1549.4,672.2 1551.9,668.1 1554.4,663.9 1557.0,659.5 1559.5,654.9 1562.0,650.1 1564.6,645.1 1567.1,639.8 1569.6,634.3 1572.1,628.6 1574.7,622.7 1577.2,616.6 1579.7,610.2 1582.2,603.6 1584.8,597.1 1587.3,590.7 1589.8,584.4 1592.3,578.0 1594.9,571.6 1597.4,565.1 1599.9,558.6 1602.4,552.0 1605.0,545.7 1607.5,539.6 1610.0,533.5 1612.6,527.2 1615.1,520.7 1617.6,514.7 1620.1,509.5 1622.7,505.1 1625.2,501.1 1627.7,497.5 1630.2,494.8 1632.8,492.8 1635.3,491.6 1637.8,490.9 1640.3,490.6 1642.9,490.7 1645.4,491.2 1647.9,491.9 1650.5,492.9 1653.0,494.0 1655.5,495.2 1658.0,496.5 1660.6,497.5 1663.1,498.4 1665.6,498.9 1668.1,499.3 1670.7,499.3 1673.2,499.0 1675.7,498.4 1678.2,497.5 1680.8,496.3 1683.3,494.6 1685.8,492.0 1688.3,488.3 1690.9,483.8 1693.4,479.3 1695.9,474.8 1698.5,470.1 1701.0,464.9 1703.5,459.0 1706.0,452.6 1708.6,445.7 1711.1,438.5 1713.6,430.9 1716.1,422.9 1718.7,414.6 1721.2,406.4 1723.7,398.2 1726.2,390.1 1728.8,382.0 1731.3,374.0 1733.8,366.1 1736.4,358.3 1738.9,350.6 1741.4,343.1 1743.9,336.0 1746.5,329.4 1749.0,323.1 1751.5,317.1 1754.0,311.3 1756.6,305.9 1759.1,301.5 1761.6,297.9 1764.1,294.9 1766.7,293.1 1769.2,292.8 1771.7,294.3 1774.3,297.2 1776.8,302.0 1779.3,309.4 1781.8,319.1 1784.4,330.1 1786.9,343.8 1789.4,360.7 1791.9,378.9 1794.5,397.4 1797.0,415.8 1799.5,434.2 1802.0,452.7 1804.6,471.1 1807.1,489.5 1809.6,507.9 1812.1,526.3 1814.7,544.8 1817.2,563.1 1819.7,581.2 1822.3,599.0 1824.8,615.5 1827.3,630.6 1829.8,644.7 1832.4,658.2 1834.9,670.5 1837.4,681.2 1839.9,690.7 1842.5,699.0 1845.0,706.4 1847.5,713.1 1850.0,719.1 1852.6,724.4 1855.1,729.0 1857.6,733.0 1860.2,736.5 1862.7,739.5 1865.2,742.2 1867.7,744.6 1870.3,746.8 1872.8,748.8 1875.3,750.6 1877.8,752.1 1880.4,753.5 1882.9,754.8 1885.4,755.9 1887.9,757.0 1890.5,757.9 1893.0,758.7 1895.5,759.4 1898.0,760.0 1900.6,760.6 1903.1,761.2 1905.6,761.7 1908.2,762.3 1920.8,764.4 1933.4,765.9 1946.1,767.0 1958.7,767.9 1971.3,768.5 1984.0,769.0 1996.6,769.4 2009.2,769.6 2021.8,769.7 2034.5,769.7 2047.1,769.8 2059.7,769.9 2072.4,769.9 2085.0,770.0 2097.6,770.0 2110.3,770.0 2122.9,770.0 2135.5,770.0 2148.2,770.0 2160.8,770.0 2173.4,770.0 2186.1,770.0 2198.7,770.0 2211.3,770.0 2224.0,770.0 2236.6,770.0"/>
<polyline stroke="#CC9900" points="1226.0,768.4 1238.6,768.4 1251.3,768.4 1263.9,768.4 1276.5,768.4 1289.2,768.4 1301.8,768.4 1314.4,768.4 1327.1,768.4 1339.7,768.4 1352.3,768.4 1365.0,768.4 1377.6,768.4 1390.2,768.3 1402.9,768.2 1405.4,768.1 1407.9,767.8 1410.4,767.4 1413.0,766.9 1415.5,766.4 1418.0,765.9 1420.5,765.3 1423.1,764.8 1425.6,764.2 1428.1,763.6 1430.6,762.9 1433.2,762.2 1435.7,761.5 1438.2,760.7 1440.8,759.9 1443.3,759.0 1445.8,758.1 1448.3,757.2 1450.9,756.2 1453.4,755.1 1455.9,753.9 1458.4,752.6 1461.0,751.3 1463.5,750.0 1466.0,748.6 1468.5,747.1 1471.1,745.6 1473.6,744.1 1476.1,742.5 1478.7,740.9 1481.2,739.3 1483.7,737.7 1486.2,736.0 1488.8,734.3 1491.3,732.5 1493.8,730.7 1496.3,728.8 1498.9,726.8 1501.4,724.8 1503.9,722.8 1506.4,720.7 1509.0,718.6 1511.5,716.6 1514.0,714.5 1516.5,712.4 1519.1,710.2 1521.6,708.0 1524.1,705.8 1526.7,703.5 1529.2,701.1 1531.7,698.7 1534.2,696.1 1536.8,693.4 1539.3,690.6 1541.8,687.6 1544.3,684.3 1546.9,680.9 1549.4,677.2 1551.9,673.3 1554.4,669.2 1557.0,665.1 1559.5,660.7 1562.0,656.2 1564.6,651.4 1567.1,646.4 1569.6,641.2 1572.1,635.8 1574.7,630.2 1577.2,624.3 1579.7,618.3 1582.2,612.1 1584.8,605.9 1587.3,599.8 1589.8,593.8 1592.3,587.7 1594.9,581.6 1597.4,575.5 1599.9,569.3 1602.4,563.1 1605.0,557.1 1607.5,551.3 1610.0,545.5 1612.6,539.5 1615.1,533.3 1617.6,527.6 1620.1,522.7 1622.7,518.5 1625.2,514.7 1627.7,511.3 1630.2,508.7 1632.8,506.9 1635.3,505.7 1637.8,505.0 1640.3,504.7 1642.9,504.9 1645.4,505.3 1647.9,506.0 1650.5,506.9 1653.0,508.0 1655.5,509.2 1658.0,510.3 1660.6,511.3 1663.1,512.1 1665.6,512.7 1668.1,513.0 1670.7,513.1 1673.2,512.7 1675.7,512.1 1678.2,511.3 1680.8,510.2 1683.3,508.5 1685.8,506.1 1688.3,502.6 1690.9,498.3 1693.4,494.0 1695.9,489.8 1698.5,485.3 1701.0,480.4 1703.5,474.8 1706.0,468.7 1708.6,462.2 1711.1,455.3 1713.6,448.1 1716.1,440.5 1718.7,432.6 1721.2,424.8 1723.7,417.1 1726.2,409.3 1728.8,401.7 1731.3,394.1 1733.8,386.6 1736.4,379.2 1738.9,371.9 1741.4,364.8 1743.9,358.0 1746.5,351.7 1749.0,345.8 1751.5,340.0 1754.0,334.5 1756.6,329.5 1759.1,325.3 1761.6,321.8 1764.1,319.0 1766.7,317.3 1769.2,317.0 1771.7,318.4 1774.3,321.2 1776.8,325.7 1779.3,332.8 1781.8,342.0 1784.4,352.4 1786.9,365.4 1789.4,381.4 1791.9,398.8 1794.5,416.3 1797.0,433.8 1799.5,451.3 1802.0,468.8 1804.6,486.2 1807.1,503.7 1809.6,521.2 1812.1,538.7 1814.7,556.2 1817.2,573.6 1819.7,590.8 1822.3,607.6 1824.8,623.4 1827.3,637.7 1829.8,651.1 1832.4,663.9 1834.9,675.5 1837.4,685.7 1839.9,694.7 1842.5,702.6 1845.0,709.6 1847.5,716.0 1850.0,721.7 1852.6,726.7 1855.1,731.0 1857.6,734.9 1860.2,738.2 1862.7,741.0 1865.2,743.6 1867.7,745.9 1870.3,748.0 1872.8,749.9 1875.3,751.6 1877.8,753.0 1880.4,754.3 1882.9,755.6 1885.4,756.6 1887.9,757.6 1890.5,758.5 1893.0,759.3 1895.5,759.9 1898.0,760.5 1900.6,761.1 1903.1,761.7 1905.6,762.2 1908.2,762.6 1920.8,764.7 1933.4,766.1 1946.1,767.2 1958.7,768.0 1971.3,768.6 1984.0,769.1 1996.6,769.4 2009.2,769.6 2021.8,769.7 2034.5,769.8 2047.1,769.8 2059.7,769.9 2072.4,769.9 2085.0,770.0 2097.6,770.0 2110.3,770.0 2122.9,770.0 2135.5,770.0 2148.2,770.0 2160.8,770.0 2173.4,770.0 2186.1,770.0 2198.7,770.0 2211.3,770.0 2224.0,770.0 2236.6,770.0"/>
<polyline stroke="#00CBCC" points="1226.0,768.5 1238.6,768.5 1251.3,768.5 1263.9,768.5 1276.5,768.5 1289.2,768.5 1301.8,768.5 1314.4,768.5 1327.1,768.5 1339.7,768.5 1352.3,768.5 1365.0,768.5 1377.6,768.5 1390.2,768.5 1402.9,768.4 1405.4,768.2 1407.9,767.9 1410.4,767.6 1413.0,767.1 1415.5,766.6 1418.0,766.2 1420.5,765.7 1423.1,765.2 1425.6,764.6 1428.1,764.1 1430.6,763.4 1433.2,762.8 1435.7,762.1 1438.2,761.4 1440.8,760.6 1443.3,759.8 1445.8,759.0 1448.3,758.1 1450.9,757.2 1453.4,756.2 1455.9,755.1 1458.4,753.9 1461.0,752.7 1463.5,751.4 1466.0,750.1 1468.5,748.8 1471.1,747.4 1473.6,746.0 1476.1,744.5 1478.7,743.0 1481.2,741.5 1483.7,740.0 1486.2,738.5 1488.8,736.9 1491.3,735.3 1493.8,733.6 1496.3,731.8 1498.9,730.0 1501.4,728.2 1503.9,726.3 1506.4,724.3 1509.0,722.4 1511.5,720.5 1514.0,718.5 1516.5,716.6 1519.1,714.6 1521.6,712.6 1524.1,710.5 1526.7,708.4 1529.2,706.2 1531.7,703.9 1534.2,701.5 1536.8,699.0 1539.3,696.4 1541.8,693.6 1544.3,690.6 1546.9,687.4 1549.4,684.0 1551.9,680.4 1554.4,676.7 1557.0,672.8 1559.5,668.8 1562.0,664.6 1564.6,660.1 1567.1,655.5 1569.6,650.6 1572.1,645.6 1574.7,640.5 1577.2,635.0 1579.7,629.4 1582.2,623.7 1584.8,618.0 1587.3,612.3 1589.8,606.7 1592.3,601.1 1594.9,595.5 1597.4,589.8 1599.9,584.0 1602.4,578.3 1605.0,572.7 1607.5,567.3 1610.0,562.0 1612.6,556.4 1615.1,550.7 1617.6,545.4 1620.1,540.9 1622.7,537.0 1625.2,533.5 1627.7,530.4 1630.2,527.9 1632.8,526.2 1635.3,525.1 1637.8,524.5 1640.3,524.2 1642.9,524.4 1645.4,524.8 1647.9,525.4 1650.5,526.3 1653.0,527.3 1655.5,528.3 1658.0,529.4 1660.6,530.4 1663.1,531.1 1665.6,531.6 1668.1,531.9 1670.7,531.9 1673.2,531.6 1675.7,531.1 1678.2,530.3 1680.8,529.3 1683.3,527.8 1685.8,525.5 1688.3,522.3 1690.9,518.3 1693.4,514.3 1695.9,510.4 1698.5,506.3 1701.0,501.6 1703.5,496.5 1706.0,490.8 1708.6,484.8 1711.1,478.4 1713.6,471.7 1716.1,464.7 1718.7,457.4 1721.2,450.2 1723.7,443.0 1726.2,435.8 1728.8,428.7 1731.3,421.7 1733.8,414.7 1736.4,407.9 1738.9,401.1 1741.4,394.5 1743.9,388.3 1746.5,382.5 1749.0,376.9 1751.5,371.6 1754.0,366.5 1756.6,361.8 1759.1,358.0 1761.6,354.8 1764.1,352.2 1766.7,350.5 1769.2,350.3 1771.7,351.6 1774.3,354.2 1776.8,358.3 1779.3,364.9 1781.8,373.4 1784.4,383.1 1786.9,395.1 1789.4,410.0 1791.9,426.0 1794.5,442.3 1797.0,458.5 1799.5,474.7 1802.0,490.9 1804.6,507.1 1807.1,523.3 1809.6,539.5 1812.1,555.7 1814.7,571.9 1817.2,588.0 1819.7,604.0 1822.3,619.6 1824.8,634.1 1827.3,647.4 1829.8,659.8 1832.4,671.7 1834.9,682.5 1837.4,691.9 1839.9,700.2 1842.5,707.5 1845.0,714.1 1847.5,720.0 1850.0,725.3 1852.6,729.9 1855.1,733.9 1857.6,737.4 1860.2,740.5 1862.7,743.2 1865.2,745.5 1867.7,747.7 1870.3,749.6 1872.8,751.4 1875.3,752.9 1877.8,754.3 1880.4,755.5 1882.9,756.6 1885.4,757.6 1887.9,758.5 1890.5,759.4 1893.0,760.1 1895.5,760.7 1898.0,761.2 1900.6,761.8 1903.1,762.3 1905.6,762.7 1908.2,763.2 1920.8,765.1 1933.4,766.4 1946.1,767.4 1958.7,768.1 1971.3,768.7 1984.0,769.1 1996.6,769.5 2009.2,769.6 2021.8,769.7 2034.5,769.8 2047.1,769.8 2059.7,769.9 2072.4,769.9 2085.0,770.0 2097.6,770.0 2110.3,770.0 2122.9,770.0 2135.5,770.0 2148.2,770.0 2160.8,770.0 2173.4,770.0 2186.1,770.0 2198.7,770.0 2211.3,770.0 2224.0,770.0 2236.6,770.0"/>
<polyline stroke="#7D4E4E" points="1226.0,768.6 1238.6,768.6 1251.3,768.6 1263.9,768.6 1276.5,768.6 1289.2,768.6 1301.8,768.6 1314.4,768.6 1327.1,768.6 1339.7,768.6 1352.3,768.6 1365.0,768.6 1377.6,768.6 1390.2,768.5 1402.9,768.4 1405.4,768.3 1407.9,768.0 1410.4,767.7 1413.0,767.3 1415.5,766.8 1418.0,766.3 1420.5,765.9 1423.1,765.4 1425.6,764.9 1428.1,764.3 1430.6,763.8 1433.2,763.1 1435.7,762.5 1438.2,761.8 1440.8,761.1 1443.3,760.3 1445.8,759.5 1448.3,758.7 1450.9,757.8 1453.4,756.8 1455.9,755.8 1458.4,754.7 1461.0,753.5 1463.5,752.3 1466.0,751.1 1468.5,749.8 1471.1,748.5 1473.6,747.1 1476.1,745.7 1478.7,744.3 1481.2,742.9 1483.7,741.4 1486.2,740.0 1488.8,738.5 1491.3,736.9 1493.8,735.3 1496.3,733.6 1498.9,731.9 1501.4,730.1 1503.9,728.3 1506.4,726.5 1509.0,724.7 1511.5,722.8 1514.0,721.0 1516.5,719.1 1519.1,717.2 1521.6,715.3 1524.1,713.3 1526.7,711.3 1529.2,709.2 1531.7,707.0 1534.2,704.8 1536.8,702.4 1539.3,699.9 1541.8,697.2 1544.3,694.4 1546.9,691.3 1549.4,688.0 1551.9,684.6 1554.4,681.1 1557.0,677.4 1559.5,673.5 1562.0,669.5 1564.6,665.3 1567.1,660.9 1569.6,656.3 1572.1,651.5 1574.7,646.6 1577.2,641.4 1579.7,636.0 1582.2,630.6 1584.8,625.1 1587.3,619.8 1589.8,614.4 1592.3,609.1 1594.9,603.7 1597.4,598.3 1599.9,592.8 1602.4,587.3 1605.0,582.0 1607.5,576.9 1610.0,571.8 1612.6,566.5 1615.1,561.0 1617.6,556.0 1620.1,551.7 1622.7,548.0 1625.2,544.6 1627.7,541.7 1630.2,539.3 1632.8,537.7 1635.3,536.7 1637.8,536.1 1640.3,535.8 1642.9,535.9 1645.4,536.3 1647.9,537.0 1650.5,537.8 1653.0,538.7 1655.5,539.7 1658.0,540.8 1660.6,541.7 1663.1,542.3 1665.6,542.8 1668.1,543.1 1670.7,543.2 1673.2,542.9 1675.7,542.4 1678.2,541.6 1680.8,540.6 1683.3,539.2 1685.8,537.1 1688.3,533.9 1690.9,530.1 1693.4,526.4 1695.9,522.6 1698.5,518.7 1701.0,514.3 1703.5,509.4 1706.0,504.0 1708.6,498.2 1711.1,492.2 1713.6,485.8 1716.1,479.1 1718.7,472.2 1721.2,465.3 1723.7,458.4 1726.2,451.6 1728.8,444.8 1731.3,438.1 1733.8,431.5 1736.4,425.0 1738.9,418.5 1741.4,412.3 1743.9,406.3 1746.5,400.7 1749.0,395.5 1751.5,390.4 1754.0,385.5 1756.6,381.1 1759.1,377.4 1761.6,374.3 1764.1,371.9 1766.7,370.3 1769.2,370.1 1771.7,371.3 1774.3,373.8 1776.8,377.8 1779.3,384.0 1781.8,392.1 1784.4,401.3 1786.9,412.8 1789.4,427.0 1791.9,442.3 1794.5,457.7 1797.0,473.2 1799.5,488.6 1802.0,504.1 1804.6,519.5 1807.1,534.9 1809.6,550.3 1812.1,565.8 1814.7,581.2 1817.2,596.6 1819.7,611.8 1822.3,626.7 1824.8,640.6 1827.3,653.2 1829.8,665.0 1832.4,676.3 1834.9,686.6 1837.4,695.6 1839.9,703.5 1842.5,710.5 1845.0,716.7 1847.5,722.4 1850.0,727.4 1852.6,731.8 1855.1,735.6 1857.6,739.0 1860.2,741.9 1862.7,744.4 1865.2,746.7 1867.7,748.7 1870.3,750.6 1872.8,752.2 1875.3,753.7 1877.8,755.0 1880.4,756.2 1882.9,757.2 1885.4,758.2 1887.9,759.1 1890.5,759.9 1893.0,760.5 1895.5,761.1 1898.0,761.6 1900.6,762.2 1903.1,762.6 1905.6,763.1 1908.2,763.5 1920.8,765.3 1933.4,766.6 1946.1,767.5 1958.7,768.2 1971.3,768.7 1984.0,769.2 1996.6,769.5 2009.2,769.6 2021.8,769.7 2034.5,769.8 2047.1,769.9 2059.7,769.9 2072.4,769.9 2085.0,770.0 2097.6,770.0 2110.3,770.0 2122.9,770.0 2135.5,770.0 2148.2,770.0 2160.8,770.0 2173.4,770.0 2186.1,770.0 2198.7,770.0 2211.3,770.0 2224.0,770.0 2236.6,770.0"/>
<polyline stroke="#8E8E00" points="1226.0,768.7 1238.6,768.7 1251.3,768.7 1263.9,768.7 1276.5,768.7 1289.2,768.7 1301.8,768.7 1314.4,768.7 1327.1,768.7 1339.7,768.7 1352.3,768.7 1365.0,768.7 1377.6,768.7 1390.2,768.6 1402.9,768.6 1405.4,768.4 1407.9,768.2 1410.4,767.9 1413.0,767.5 1415.5,767.0 1418.0,766.6 1420.5,766.2 1423.1,765.8 1425.6,765.3 1428.1,764.8 1430.6,764.2 1433.2,763.7 1435.7,763.1 1438.2,762.4 1440.8,761.8 1443.3,761.1 1445.8,760.4 1448.3,759.6 1450.9,758.7 1453.4,757.9 1455.9,756.9 1458.4,755.9 1461.0,754.8 1463.5,753.7 1466.0,752.6 1468.5,751.4 1471.1,750.1 1473.6,748.9 1476.1,747.6 1478.7,746.3 1481.2,745.0 1483.7,743.7 1486.2,742.3 1488.8,741.0 1491.3,739.5 1493.8,738.0 1496.3,736.5 1498.9,734.9 1501.4,733.3 1503.9,731.6 1506.4,729.9 1509.0,728.2 1511.5,726.5 1514.0,724.8 1516.5,723.1 1519.1,721.4 1521.6,719.6 1524.1,717.8 1526.7,715.9 1529.2,714.0 1531.7,712.0 1534.2,709.9 1536.8,707.7 1539.3,705.4 1541.8,702.9 1544.3,700.3 1546.9,697.5 1549.4,694.5 1551.9,691.3 1554.4,688.0 1557.0,684.6 1559.5,681.1 1562.0,677.4 1564.6,673.5 1567.1,669.4 1569.6,665.2 1572.1,660.8 1574.7,656.3 1577.2,651.5 1579.7,646.6 1582.2,641.5 1584.8,636.5 1587.3,631.6 1589.8,626.6 1592.3,621.7 1594.9,616.8 1597.4,611.8 1599.9,606.7 1602.4,601.7 1605.0,596.8 1607.5,592.1 1610.0,587.4 1612.6,582.5 1615.1,577.4 1617.6,572.8 1620.1,568.8 1622.7,565.4 1625.2,562.3 1627.7,559.6 1630.2,557.4 1632.8,555.9 1635.3,555.0 1637.8,554.4 1640.3,554.2 1642.9,554.3 1645.4,554.7 1647.9,555.3 1650.5,556.0 1653.0,556.9 1655.5,557.8 1658.0,558.7 1660.6,559.6 1663.1,560.2 1665.6,560.7 1668.1,561.0 1670.7,561.0 1673.2,560.7 1675.7,560.2 1678.2,559.6 1680.8,558.6 1683.3,557.3 1685.8,555.3 1688.3,552.5 1690.9,549.0 1693.4,545.5 1695.9,542.1 1698.5,538.4 1701.0,534.4 1703.5,529.8 1706.0,524.9 1708.6,519.6 1711.1,514.0 1713.6,508.1 1716.1,501.9 1718.7,495.6 1721.2,489.2 1723.7,482.9 1726.2,476.6 1728.8,470.3 1731.3,464.2 1733.8,458.1 1736.4,452.0 1738.9,446.1 1741.4,440.3 1743.9,434.9 1746.5,429.7 1749.0,424.9 1751.5,420.2 1754.0,415.7 1756.6,411.6 1759.1,408.2 1761.6,405.4 1764.1,403.1 1766.7,401.7 1769.2,401.5 1771.7,402.6 1774.3,404.9 1776.8,408.6 1779.3,414.3 1781.8,421.8 1784.4,430.3 1786.9,440.8 1789.4,453.9 1791.9,468.0 1794.5,482.2 1797.0,496.5 1799.5,510.7 1802.0,524.9 1804.6,539.1 1807.1,553.4 1809.6,567.6 1812.1,581.8 1814.7,596.1 1817.2,610.2 1819.7,624.2 1822.3,637.9 1824.8,650.7 1827.3,662.4 1829.8,673.3 1832.4,683.6 1834.9,693.1 1837.4,701.4 1839.9,708.7 1842.5,715.2 1845.0,720.9 1847.5,726.1 1850.0,730.7 1852.6,734.8 1855.1,738.3 1857.6,741.4 1860.2,744.1 1862.7,746.4 1865.2,748.5 1867.7,750.4 1870.3,752.1 1872.8,753.6 1875.3,755.0 1877.8,756.2 1880.4,757.3 1882.9,758.2 1885.4,759.1 1887.9,759.9 1890.5,760.7 1893.0,761.3 1895.5,761.8 1898.0,762.3 1900.6,762.8 1903.1,763.2 1905.6,763.6 1908.2,764.0 1920.8,765.7 1933.4,766.8 1946.1,767.7 1958.7,768.4 1971.3,768.8 1984.0,769.2 1996.6,769.5 2009.2,769.7 2021.8,769.7 2034.5,769.8 2047.1,769.9 2059.7,769.9 2072.4,770.0 2085.0,770.0 2097.6,770.0 2110.3,770.0 2122.9,770.0 2135.5,770.0 2148.2,770.0 2160.8,770.0 2173.4,770.0 2186.1,770.0 2198.7,770.0 2211.3,770.0 2224.0,770.0 2236.6,770.0"/>
<polyline stroke="#FB6501" points="1226.0,768.8 1238.6,768.8 1251.3,768.8 1263.9,768.8 1276.5,768.8 1289.2,768.8 1301.8,768.8 1314.4,768.8 1327.1,768.8 1339.7,768.8 1352.3,768.8 1365.0,768.8 1377.6,768.8 1390.2,768.8 1402.9,768.7 1405.4,768.6 1407.9,768.4 1410.4,768.1 1413.0,767.7 1415.5,767.4 1418.0,767.0 1420.5,766.6 1423.1,766.2 1425.6,765.8 1428.1,765.3 1430.6,764.9 1433.2,764.4 1435.7,763.8 1438.2,763.3 1440.8,762.7 1443.3,762.0 1445.8,761.4 1448.3,760.7 1450.9,760.0 1453.4,759.2 1455.9,758.3 1458.4,757.4 1461.0,756.5 1463.5,755.5 1466.0,754.4 1468.5,753.4 1471.1,752.3 1473.6,751.2 1476.1,750.0 1478.7,748.9 1481.2,747.7 1483.7,746.5 1486.2,745.3 1488.8,744.1 1491.3,742.8 1493.8,741.5 1496.3,740.1 1498.9,738.7 1501.4,737.2 1503.9,735.7 1506.4,734.2 1509.0,732.7 1511.5,731.2 1514.0,729.7 1516.5,728.2 1519.1,726.6 1521.6,725.0 1524.1,723.4 1526.7,721.8 1529.2,720.0 1531.7,718.2 1534.2,716.4 1536.8,714.4 1539.3,712.4 1541.8,710.2 1544.3,707.8 1546.9,705.3 1549.4,702.6 1551.9,699.8 1554.4,696.9 1557.0,693.9 1559.5,690.7 1562.0,687.4 1564.6,684.0 1567.1,680.3 1569.6,676.5 1572.1,672.6 1574.7,668.5 1577.2,664.3 1579.7,659.9 1582.2,655.4 1584.8,650.9 1587.3,646.5 1589.8,642.1 1592.3,637.7 1594.9,633.3 1597.4,628.9 1599.9,624.4 1602.4,619.8 1605.0,615.5 1607.5,611.3 1610.0,607.1 1612.6,602.7 1615.1,598.2 1617.6,594.1 1620.1,590.6 1622.7,587.5 1625.2,584.7 1627.7,582.3 1630.2,580.4 1632.8,579.0 1635.3,578.2 1637.8,577.7 1640.3,577.5 1642.9,577.6 1645.4,577.9 1647.9,578.4 1650.5,579.1 1653.0,579.9 1655.5,580.7 1658.0,581.6 1660.6,582.3 1663.1,582.9 1665.6,583.3 1668.1,583.5 1670.7,583.5 1673.2,583.3 1675.7,582.9 1678.2,582.3 1680.8,581.4 1683.3,580.3 1685.8,578.5 1688.3,576.0 1690.9,572.8 1693.4,569.7 1695.9,566.7 1698.5,563.4 1701.0,559.8 1703.5,555.8 1706.0,551.3 1708.6,546.6 1711.1,541.6 1713.6,536.4 1716.1,530.9 1718.7,525.2 1721.2,519.5 1723.7,513.9 1726.2,508.3 1728.8,502.7 1731.3,497.2 1733.8,491.7 1736.4,486.4 1738.9,481.1 1741.4,475.9 1743.9,471.0 1746.5,466.5 1749.0,462.1 1751.5,458.0 1754.0,454.0 1756.6,450.3 1759.1,447.3 1761.6,444.8 1764.1,442.7 1766.7,441.5 1769.2,441.3 1771.7,442.3 1774.3,444.3 1776.8,447.6 1779.3,452.7 1781.8,459.4 1784.4,466.9 1786.9,476.4 1789.4,488.0 1791.9,500.6 1794.5,513.3 1797.0,526.0 1799.5,538.7 1802.0,551.4 1804.6,564.1 1807.1,576.7 1809.6,589.4 1812.1,602.1 1814.7,614.8 1817.2,627.4 1819.7,640.0 1822.3,652.2 1824.8,663.6 1827.3,674.0 1829.8,683.7 1832.4,693.0 1834.9,701.4 1837.4,708.8 1839.9,715.3 1842.5,721.1 1845.0,726.2 1847.5,730.8 1850.0,735.0 1852.6,738.6 1855.1,741.7 1857.6,744.5 1860.2,746.9 1862.7,749.0 1865.2,750.8 1867.7,752.5 1870.3,754.0 1872.8,755.4 1875.3,756.6 1877.8,757.7 1880.4,758.6 1882.9,759.5 1885.4,760.3 1887.9,761.0 1890.5,761.7 1893.0,762.2 1895.5,762.7 1898.0,763.1 1900.6,763.5 1903.1,763.9 1905.6,764.3 1908.2,764.7 1920.8,766.1 1933.4,767.2 1946.1,768.0 1958.7,768.5 1971.3,769.0 1984.0,769.3 1996.6,769.6 2009.2,769.7 2021.8,769.8 2034.5,769.8 2047.1,769.9 2059.7,769.9 2072.4,770.0 2085.0,770.0 2097.6,770.0 2110.3,770.0 2122.9,770.0 2135.5,770.0 2148.2,770.0 2160.8,770.0 2173.4,770.0 2186.1,770.0 2198.7,770.0 2211.3,770.0 2224.0,770.0 2236.6,770.0"/>
<polyline stroke="#6699CC" points="1226.0,768.9 1238.6,768.9 1251.3,768.9 1263.9,768.9 1276.5,768.9 1289.2,768.9 1301.8,768.9 1314.4,768.9 1327.1,768.9 1339.7,768.9 1352.3,768.9 1365.0,768.9 1377.6,768.9 1390.2,768.9 1402.9,768.8 1405.4,768.7 1407.9,768.5 1410.4,768.2 1413.0,767.9 1415.5,767.5 1418.0,767.2 1420.5,766.8 1423.1,766.4 1425.6,766.0 1428.1,765.6 1430.6,765.2 1433.2,764.7 1435.7,764.2 1438.2,763.7 1440.8,763.1 1443.3,762.5 1445.8,761.9 1448.3,761.3 1450.9,760.6 1453.4,759.8 1455.9,759.0 1458.4,758.1 1461.0,757.3 1463.5,756.3 1466.0,755.4 1468.5,754.4 1471.1,753.3 1473.6,752.3 1476.1,751.2 1478.7,750.1 1481.2,749.0 1483.7,747.9 1486.2,746.8 1488.8,745.6 1491.3,744.4 1493.8,743.2 1496.3,741.9 1498.9,740.5 1501.4,739.2 1503.9,737.8 1506.4,736.3 1509.0,734.9 1511.5,733.5 1514.0,732.1 1516.5,730.6 1519.1,729.2 1521.6,727.7 1524.1,726.2 1526.7,724.6 1529.2,723.0 1531.7,721.3 1534.2,719.5 1536.8,717.7 1539.3,715.8 1541.8,713.7 1544.3,711.5 1546.9,709.1 1549.4,706.6 1551.9,703.9 1554.4,701.2 1557.0,698.3 1559.5,695.4 1562.0,692.3 1564.6,689.0 1567.1,685.6 1569.6,682.0 1572.1,678.3 1574.7,674.5 1577.2,670.5 1579.7,666.4 1582.2,662.1 1584.8,657.9 1587.3,653.8 1589.8,649.6 1592.3,645.5 1594.9,641.3 1597.4,637.1 1599.9,632.9 1602.4,628.7 1605.0,624.5 1607.5,620.6 1610.0,616.7 1612.6,612.5 1615.1,608.3 1617.6,604.4 1620.1,601.1 1622.7,598.2 1625.2,595.6 1627.7,593.3 1630.2,591.5 1632.8,590.3 1635.3,589.4 1637.8,589.0 1640.3,588.8 1642.9,588.9 1645.4,589.2 1647.9,589.7 1650.5,590.3 1653.0,591.0 1655.5,591.8 1658.0,592.6 1660.6,593.3 1663.1,593.9 1665.6,594.2 1668.1,594.5 1670.7,594.5 1673.2,594.3 1675.7,593.9 1678.2,593.3 1680.8,592.5 1683.3,591.4 1685.8,589.8 1688.3,587.3 1690.9,584.4 1693.4,581.5 1695.9,578.6 1698.5,575.6 1701.0,572.2 1703.5,568.3 1706.0,564.2 1708.6,559.7 1711.1,555.0 1713.6,550.1 1716.1,544.9 1718.7,539.6 1721.2,534.2 1723.7,528.9 1726.2,523.6 1728.8,518.4 1731.3,513.2 1733.8,508.1 1736.4,503.0 1738.9,498.0 1741.4,493.2 1743.9,488.6 1746.5,484.3 1749.0,480.2 1751.5,476.3 1754.0,472.5 1756.6,469.1 1759.1,466.2 1761.6,463.9 1764.1,461.9 1766.7,460.7 1769.2,460.6 1771.7,461.5 1774.3,463.5 1776.8,466.5 1779.3,471.3 1781.8,477.6 1784.4,484.7 1786.9,493.6 1789.4,504.6 1791.9,516.4 1794.5,528.4 1797.0,540.3 1799.5,552.3 1802.0,564.2 1804.6,576.2 1807.1,588.1 1809.6,600.0 1812.1,612.0 1814.7,623.9 1817.2,635.8 1819.7,647.6 1822.3,659.1 1824.8,669.8 1827.3,679.6 1829.8,688.8 1832.4,697.5 1834.9,705.5 1837.4,712.4 1839.9,718.6 1842.5,724.0 1845.0,728.8 1847.5,733.1 1850.0,737.0 1852.6,740.4 1855.1,743.4 1857.6,746.0 1860.2,748.3 1862.7,750.2 1865.2,751.9 1867.7,753.5 1870.3,755.0 1872.8,756.3 1875.3,757.4 1877.8,758.4 1880.4,759.3 1882.9,760.1 1885.4,760.9 1887.9,761.6 1890.5,762.2 1893.0,762.7 1895.5,763.1 1898.0,763.5 1900.6,763.9 1903.1,764.3 1905.6,764.6 1908.2,765.0 1920.8,766.4 1933.4,767.3 1946.1,768.1 1958.7,768.6 1971.3,769.0 1984.0,769.4 1996.6,769.6 2009.2,769.7 2021.8,769.8 2034.5,769.8 2047.1,769.9 2059.7,769.9 2072.4,770.0 2085.0,770.0 2097.6,770.0 2110.3,770.0 2122.9,770.0 2135.5,770.0 2148.2,770.0 2160.8,770.0 2173.4,770.0 2186.1,770.0 2198.7,770.0 2211.3,770.0 2224.0,770.0 2236.6,770.0"/>
<polyline stroke="#6FB802" points="1226.0,768.9 1238.6,768.9 1251.3,768.9 1263.9,768.9 1276.5,768.9 1289.2,768.9 1301.8,768.9 1314.4,768.9 1327.1,768.9 1339.7,768.9 1352.3,768.9 1365.0,768.9 1377.6,768.9 1390.2,768.9 1402.9,768.8 1405.4,768.7 1407.9,768.5 1410.4,768.3 1413.0,768.0 1415.5,767.6 1418.0,767.3 1420.5,767.0 1423.1,766.6 1425.6,766.2 1428.1,765.8 1430.6,765.4 1433.2,764.9 1435.7,764.5 1438.2,763.9 1440.8,763.4 1443.3,762.9 1445.8,762.3 1448.3,761.7 1450.9,761.0 1453.4,760.3 1455.9,759.5 1458.4,758.7 1461.0,757.8 1463.5,756.9 1466.0,756.0 1468.5,755.1 1471.1,754.1 1473.6,753.1 1476.1,752.1 1478.7,751.0 1481.2,750.0 1483.7,748.9 1486.2,747.8 1488.8,746.7 1491.3,745.6 1493.8,744.4 1496.3,743.1 1498.9,741.9 1501.4,740.6 1503.9,739.2 1506.4,737.9 1509.0,736.5 1511.5,735.2 1514.0,733.8 1516.5,732.4 1519.1,731.0 1521.6,729.6 1524.1,728.2 1526.7,726.7 1529.2,725.1 1531.7,723.5 1534.2,721.8 1536.8,720.1 1539.3,718.2 1541.8,716.3 1544.3,714.1 1546.9,711.9 1549.4,709.5 1551.9,707.0 1554.4,704.3 1557.0,701.6 1559.5,698.8 1562.0,695.8 1564.6,692.7 1567.1,689.4 1569.6,686.0 1572.1,682.5 1574.7,678.8 1577.2,675.0 1579.7,671.1 1582.2,667.0 1584.8,663.0 1587.3,659.0 1589.8,655.1 1592.3,651.2 1594.9,647.2 1597.4,643.2 1599.9,639.1 1602.4,635.1 1605.0,631.2 1607.5,627.4 1610.0,623.6 1612.6,619.7 1615.1,615.7 1617.6,612.0 1620.1,608.8 1622.7,606.0 1625.2,603.6 1627.7,601.4 1630.2,599.7 1632.8,598.4 1635.3,597.7 1637.8,597.2 1640.3,597.1 1642.9,597.1 1645.4,597.4 1647.9,597.9 1650.5,598.5 1653.0,599.2 1655.5,599.9 1658.0,600.7 1660.6,601.4 1663.1,601.9 1665.6,602.2 1668.1,602.5 1670.7,602.5 1673.2,602.3 1675.7,601.9 1678.2,601.4 1680.8,600.6 1683.3,599.5 1685.8,598.0 1688.3,595.7 1690.9,592.9 1693.4,590.1 1695.9,587.3 1698.5,584.4 1701.0,581.2 1703.5,577.5 1706.0,573.6 1708.6,569.3 1711.1,564.8 1713.6,560.1 1716.1,555.2 1718.7,550.1 1721.2,545.0 1723.7,539.9 1726.2,534.9 1728.8,529.9 1731.3,524.9 1733.8,520.0 1736.4,515.2 1738.9,510.4 1741.4,505.8 1743.9,501.4 1746.5,497.3 1749.0,493.4 1751.5,489.7 1754.0,486.1 1756.6,482.8 1759.1,480.1 1761.6,477.8 1764.1,476.0 1766.7,474.8 1769.2,474.7 1771.7,475.6 1774.3,477.4 1776.8,480.3 1779.3,485.0 1781.8,491.0 1784.4,497.7 1786.9,506.2 1789.4,516.7 1791.9,528.0 1794.5,539.4 1797.0,550.8 1799.5,562.2 1802.0,573.6 1804.6,585.0 1807.1,596.4 1809.6,607.8 1812.1,619.2 1814.7,630.6 1817.2,641.9 1819.7,653.2 1822.3,664.1 1824.8,674.4 1827.3,683.7 1829.8,692.5 1832.4,700.8 1834.9,708.4 1837.4,715.1 1839.9,720.9 1842.5,726.0 1845.0,730.7 1847.5,734.8 1850.0,738.5 1852.6,741.8 1855.1,744.6 1857.6,747.1 1860.2,749.2 1862.7,751.1 1865.2,752.8 1867.7,754.3 1870.3,755.6 1872.8,756.9 1875.3,758.0 1877.8,758.9 1880.4,759.8 1882.9,760.6 1885.4,761.3 1887.9,761.9 1890.5,762.5 1893.0,763.0 1895.5,763.4 1898.0,763.8 1900.6,764.2 1903.1,764.6 1905.6,764.9 1908.2,765.2 1920.8,766.5 1933.4,767.5 1946.1,768.2 1958.7,768.7 1971.3,769.1 1984.0,769.4 1996.6,769.6 2009.2,769.7 2021.8,769.8 2034.5,769.8 2047.1,769.9 2059.7,769.9 2072.4,770.0 2085.0,770.0 2097.6,770.0 2110.3,770.0 2122.9,770.0 2135.5,770.0 2148.2,770.0 2160.8,770.0 2173.4,770.0 2186.1,770.0 2198.7,770.0 2211.3,770.0 2224.0,770.0 2236.6,770.0"/>
<polyline stroke="#000000" points="1226.0,769.0 1238.6,769.0 1251.3,769.0 1263.9,769.0 1276.5,769.0 1289.2,769.0 1301.8,769.0 1314.4,769.0 1327.1,769.0 1339.7,769.0 1352.3,769.0 1365.0,769.0 1377.6,769.0 1390.2,768.9 1402.9,768.9 1405.4,768.8 1407.9,768.6 1410.4,768.3 1413.0,768.0 1415.5,767.7 1418.0,767.4 1420.5,767.1 1423.1,766.7 1425.6,766.3 1428.1,766.0 1430.6,765.5 1433.2,765.1 1435.7,764.6 1438.2,764.1 1440.8,763.6 1443.3,763.1 1445.8,762.5 1448.3,761.9 1450.9,761.3 1453.4,760.6 1455.9,759.8 1458.4,759.1 1461.0,758.2 1463.5,757.4 1466.0,756.5 1468.5,755.6 1471.1,754.6 1473.6,753.6 1476.1,752.7 1478.7,751.7 1481.2,750.6 1483.7,749.6 1486.2,748.6 1488.8,747.5 1491.3,746.4 1493.8,745.2 1496.3,744.0 1498.9,742.8 1501.4,741.5 1503.9,740.2 1506.4,738.9 1509.0,737.6 1511.5,736.3 1514.0,735.0 1516.5,733.7 1519.1,732.3 1521.6,730.9 1524.1,729.5 1526.7,728.1 1529.2,726.6 1531.7,725.0 1534.2,723.4 1536.8,721.7 1539.3,719.9 1541.8,718.0 1544.3,716.0 1546.9,713.8 1549.4,711.5 1551.9,709.0 1554.4,706.5 1557.0,703.9 1559.5,701.1 1562.0,698.3 1564.6,695.3 1567.1,692.1 1569.6,688.8 1572.1,685.4 1574.7,681.9 1577.2,678.2 1579.7,674.4 1582.2,670.5 1584.8,666.6 1587.3,662.7 1589.8,658.9 1592.3,655.1 1594.9,651.3 1597.4,647.4 1599.9,643.5 1602.4,639.6 1605.0,635.8 1607.5,632.1 1610.0,628.5 1612.6,624.7 1615.1,620.8 1617.6,617.2 1620.1,614.1 1622.7,611.5 1625.2,609.1 1627.7,607.0 1630.2,605.3 1632.8,604.1 1635.3,603.4 1637.8,603.0 1640.3,602.8 1642.9,602.9 1645.4,603.2 1647.9,603.6 1650.5,604.2 1653.0,604.9 1655.5,605.6 1658.0,606.3 1660.6,607.0 1663.1,607.5 1665.6,607.8 1668.1,608.0 1670.7,608.0 1673.2,607.8 1675.7,607.5 1678.2,606.9 1680.8,606.2 1683.3,605.2 1685.8,603.7 1688.3,601.5 1690.9,598.7 1693.4,596.0 1695.9,593.4 1698.5,590.6 1701.0,587.4 1703.5,583.9 1706.0,580.1 1708.6,576.0 1711.1,571.6 1713.6,567.1 1716.1,562.3 1718.7,557.4 1721.2,552.4 1723.7,547.5 1726.2,542.7 1728.8,537.8 1731.3,533.0 1733.8,528.3 1736.4,523.6 1738.9,519.0 1741.4,514.6 1743.9,510.3 1746.5,506.3 1749.0,502.6 1751.5,499.0 1754.0,495.5 1756.6,492.3 1759.1,489.7 1761.6,487.5 1764.1,485.7 1766.7,484.6 1769.2,484.5 1771.7,485.3 1774.3,487.1 1776.8,489.9 1779.3,494.4 1781.8,500.2 1784.4,506.8 1786.9,515.0 1789.4,525.1 1791.9,536.0 1794.5,547.0 1797.0,558.1 1799.5,569.1 1802.0,580.1 1804.6,591.1 1807.1,602.1 1809.6,613.2 1812.1,624.2 1814.7,635.2 1817.2,646.2 1819.7,657.1 1822.3,667.7 1824.8,677.6 1827.3,686.6 1829.8,695.0 1832.4,703.1 1834.9,710.5 1837.4,716.9 1839.9,722.5 1842.5,727.5 1845.0,732.0 1847.5,736.0 1850.0,739.6 1852.6,742.7 1855.1,745.4 1857.6,747.8 1860.2,749.9 1862.7,751.7 1865.2,753.3 1867.7,754.8 1870.3,756.1 1872.8,757.3 1875.3,758.4 1877.8,759.3 1880.4,760.1 1882.9,760.9 1885.4,761.6 1887.9,762.2 1890.5,762.8 1893.0,763.2 1895.5,763.7 1898.0,764.0 1900.6,764.4 1903.1,764.7 1905.6,765.1 1908.2,765.4 1920.8,766.6 1933.4,767.5 1946.1,768.2 1958.7,768.7 1971.3,769.1 1984.0,769.4 1996.6,769.6 2009.2,769.7 2021.8,769.8 2034.5,769.9 2047.1,769.9 2059.7,769.9 2072.4,770.0 2085.0,770.0 2097.6,770.0 2110.3,770.0 2122.9,770.0 2135.5,770.0 2148.2,770.0 2160.8,770.0 2173.4,770.0 2186.1,770.0 2198.7,770.0 2211.3,770.0 2224.0,770.0 2236.6,770.0"/>
<polyline stroke="#F14040" points="1226.0,770.8 1238.6,770.8 1251.3,770.8 1263.9,770.8 1276.5,770.8 1289.2,770.8 1301.8,770.8 1314.4,770.8 1327.1,770.8 1339.7,770.8 1352.3,770.8 1365.0,770.8 1377.6,770.8 1390.2,770.8 1402.9,770.7 1405.4,770.6 1407.9,770.4 1410.4,770.2 1413.0,769.9 1415.5,769.6 1418.0,769.2 1420.5,768.9 1423.1,768.6 1425.6,768.2 1428.1,767.8 1430.6,767.4 1433.2,767.0 1435.7,766.5 1438.2,766.1 1440.8,765.6 1443.3,765.0 1445.8,764.5 1448.3,763.9 1450.9,763.3 1453.4,762.6 1455.9,761.8 1458.4,761.1 1461.0,760.3 1463.5,759.4 1466.0,758.6 1468.5,757.7 1471.1,756.7 1473.6,755.8 1476.1,754.8 1478.7,753.8 1481.2,752.8 1483.7,751.8 1486.2,750.8 1488.8,749.8 1491.3,748.7 1493.8,747.5 1496.3,746.4 1498.9,745.1 1501.4,743.9 1503.9,742.6 1506.4,741.4 1509.0,740.1 1511.5,738.8 1514.0,737.5 1516.5,736.2 1519.1,734.9 1521.6,733.5 1524.1,732.2 1526.7,730.7 1529.2,729.3 1531.7,727.7 1534.2,726.2 1536.8,724.5 1539.3,722.7 1541.8,720.9 1544.3,718.9 1546.9,716.7 1549.4,714.5 1551.9,712.1 1554.4,709.6 1557.0,707.0 1559.5,704.3 1562.0,701.5 1564.6,698.5 1567.1,695.4 1569.6,692.2 1572.1,688.9 1574.7,685.4 1577.2,681.8 1579.7,678.1 1582.2,674.2 1584.8,670.4 1587.3,666.7 1589.8,662.9 1592.3,659.2 1594.9,655.4 1597.4,651.7 1599.9,647.8 1602.4,644.0 1605.0,640.3 1607.5,636.7 1610.0,633.1 1612.6,629.4 1615.1,625.6 1617.6,622.1 1620.1,619.0 1622.7,616.4 1625.2,614.1 1627.7,612.0 1630.2,610.4 1632.8,609.2 1635.3,608.5 1637.8,608.1 1640.3,607.9 1642.9,608.0 1645.4,608.3 1647.9,608.7 1650.5,609.3 1653.0,610.0 1655.5,610.7 1658.0,611.4 1660.6,612.0 1663.1,612.5 1665.6,612.8 1668.1,613.1 1670.7,613.1 1673.2,612.9 1675.7,612.5 1678.2,612.0 1680.8,611.3 1683.3,610.3 1685.8,608.8 1688.3,606.6 1690.9,604.0 1693.4,601.3 1695.9,598.7 1698.5,596.0 1701.0,592.9 1703.5,589.4 1706.0,585.7 1708.6,581.6 1711.1,577.4 1713.6,572.9 1716.1,568.2 1718.7,563.4 1721.2,558.6 1723.7,553.8 1726.2,549.0 1728.8,544.3 1731.3,539.6 1733.8,534.9 1736.4,530.4 1738.9,525.9 1741.4,521.5 1743.9,517.3 1746.5,513.4 1749.0,509.7 1751.5,506.2 1754.0,502.8 1756.6,499.7 1759.1,497.1 1761.6,494.9 1764.1,493.2 1766.7,492.1 1769.2,492.0 1771.7,492.8 1774.3,494.6 1776.8,497.3 1779.3,501.7 1781.8,507.4 1784.4,513.8 1786.9,521.8 1789.4,531.8 1791.9,542.5 1794.5,553.3 1797.0,564.1 1799.5,574.9 1802.0,585.7 1804.6,596.5 1807.1,607.3 1809.6,618.1 1812.1,628.9 1814.7,639.7 1817.2,650.4 1819.7,661.1 1822.3,671.5 1824.8,681.2 1827.3,690.1 1829.8,698.3 1832.4,706.2 1834.9,713.4 1837.4,719.7 1839.9,725.3 1842.5,730.2 1845.0,734.5 1847.5,738.5 1850.0,742.0 1852.6,745.0 1855.1,747.7 1857.6,750.1 1860.2,752.1 1862.7,753.9 1865.2,755.5 1867.7,756.9 1870.3,758.2 1872.8,759.4 1875.3,760.4 1877.8,761.3 1880.4,762.1 1882.9,762.9 1885.4,763.6 1887.9,764.2 1890.5,764.7 1893.0,765.2 1895.5,765.6 1898.0,766.0 1900.6,766.3 1903.1,766.6 1905.6,767.0 1908.2,767.3 1920.8,768.5 1933.4,769.4 1946.1,770.1 1958.7,770.6 1971.3,770.9 1984.0,771.2 1996.6,771.4 2009.2,771.5 2021.8,771.6 2034.5,771.7 2047.1,771.7 2059.7,771.7 2072.4,771.8 2085.0,771.8 2097.6,771.8 2110.3,771.8 2122.9,771.8 2135.5,771.8 2148.2,771.8 2160.8,771.8 2173.4,771.8 2186.1,771.8 2198.7,771.8 2211.3,771.8 2224.0,771.8 2236.6,771.8"/>
</g>
<g class="c" clip-path="url(#cl)">
<polyline stroke="#000000" points="120.9,1492.0 133.5,1492.0 146.2,1492.0 158.8,1492.0 171.4,1492.0 184.1,1492.0 196.7,1492.0 209.3,1492.0 222.0,1492.0 234.6,1492.0 247.2,1492.0 259.9,1492.0 272.5,1492.0 285.1,1491.9 297.8,1491.8 300.3,1491.5 302.8,1491.0 305.3,1490.4 307.9,1489.7 310.4,1488.9 312.9,1488.1 315.4,1487.3 318.0,1486.4 320.5,1485.5 323.0,1484.6 325.5,1483.6 328.1,1482.5 330.6,1481.3 333.1,1480.1 335.7,1478.9 338.2,1477.6 340.7,1476.2 343.2,1474.7 345.8,1473.1 348.3,1471.4 350.8,1469.6 353.3,1467.7 355.9,1465.7 358.4,1463.5 360.9,1461.4 363.4,1459.1 366.0,1456.8 368.5,1454.4 371.0,1452.0 373.6,1449.5 376.1,1447.0 378.6,1444.5 381.1,1441.9 383.7,1439.3 386.2,1436.6 388.7,1433.8 391.2,1430.8 393.8,1427.8 396.3,1424.7 398.8,1421.5 401.3,1418.3 403.9,1415.1 406.4,1411.9 408.9,1408.6 411.4,1405.4 414.0,1402.1 416.5,1398.7 419.0,1395.3 421.6,1391.7 424.1,1388.1 426.6,1384.2 429.1,1380.3 431.7,1376.1 434.2,1371.7 436.7,1367.1 439.2,1362.1 441.8,1356.7 444.3,1351.0 446.8,1345.0 449.3,1338.7 451.9,1332.3 454.4,1325.6 456.9,1318.6 459.5,1311.2 462.0,1303.4 464.5,1295.3 467.0,1287.0 469.6,1278.3 472.1,1269.3 474.6,1259.9 477.1,1250.3 479.7,1240.8 482.2,1231.4 484.7,1222.0 487.2,1212.7 489.8,1203.3 492.3,1193.8 494.8,1184.2 497.3,1174.6 499.9,1165.3 502.4,1156.3 504.9,1147.4 507.5,1138.1 510.0,1128.6 512.5,1119.8 515.0,1112.2 517.6,1105.7 520.1,1099.8 522.6,1094.6 525.1,1090.6 527.7,1087.7 530.2,1085.9 532.7,1084.8 535.2,1084.4 537.8,1084.6 540.3,1085.3 542.8,1086.4 545.4,1087.8 547.9,1089.5 550.4,1091.2 552.9,1093.0 555.5,1094.6 558.0,1095.8 560.5,1096.7 563.0,1097.2 565.6,1097.3 568.1,1096.8 570.6,1095.8 573.1,1094.6 575.7,1092.8 578.2,1090.3 580.7,1086.6 583.2,1081.1 585.8,1074.5 588.3,1067.8 590.8,1061.3 593.4,1054.4 595.9,1046.7 598.4,1038.1 600.9,1028.7 603.5,1018.6 606.0,1008.0 608.5,996.8 611.0,985.0 613.6,972.9 616.1,960.8 618.6,948.8 621.1,936.9 623.7,925.0 626.2,913.3 628.7,901.7 631.3,890.3 633.8,879.0 636.3,868.0 638.8,857.6 641.4,847.8 643.9,838.6 646.4,829.8 648.9,821.2 651.5,813.4 654.0,806.9 656.5,801.6 659.0,797.3 661.6,794.5 664.1,794.2 666.6,796.3 669.2,800.7 671.7,807.6 674.2,818.5 676.7,832.8 679.3,848.8 681.8,868.9 684.3,893.8 686.8,920.6 689.4,947.6 691.9,974.7 694.4,1001.7 696.9,1028.8 699.5,1055.8 702.0,1082.8 704.5,1109.8 707.0,1136.9 709.6,1163.9 712.1,1190.8 714.6,1217.5 717.2,1243.5 719.7,1267.8 722.2,1290.0 724.7,1310.6 727.3,1330.4 729.8,1348.4 732.3,1364.2 734.8,1378.1 737.4,1390.3 739.9,1401.2 742.4,1411.1 744.9,1419.9 747.5,1427.5 750.0,1434.3 752.5,1440.2 755.1,1445.3 757.6,1449.7 760.1,1453.6 762.6,1457.2 765.2,1460.5 767.7,1463.4 770.2,1466.0 772.7,1468.3 775.3,1470.3 777.8,1472.2 780.3,1473.9 782.8,1475.4 785.4,1476.7 787.9,1477.9 790.4,1478.9 792.9,1479.9 795.5,1480.8 798.0,1481.6 800.5,1482.4 803.1,1483.1 815.7,1486.2 828.3,1488.5 841.0,1490.1 853.6,1491.4 866.2,1492.3 878.9,1493.1 891.5,1493.6 904.1,1493.9 916.7,1494.0 929.4,1494.1 942.0,1494.2 954.6,1494.3 967.3,1494.4 979.9,1494.5 992.5,1494.5 1005.2,1494.5 1017.8,1494.5 1030.4,1494.5 1043.1,1494.5 1055.7,1494.5 1068.3,1494.5 1081.0,1494.5 1093.6,1494.5 1106.2,1494.5 1118.9,1494.5 1131.5,1494.5"/>
<polyline stroke="#F14040" points="120.9,1494.2 133.5,1494.2 146.2,1494.2 158.8,1494.2 171.4,1494.2 184.1,1494.2 196.7,1494.2 209.3,1494.2 222.0,1494.2 234.6,1494.2 247.2,1494.2 259.9,1494.2 272.5,1494.2 285.1,1494.2 297.8,1494.0 300.3,1493.8 302.8,1493.4 305.3,1492.9 307.9,1492.2 310.4,1491.6 312.9,1490.9 315.4,1490.2 318.0,1489.4 320.5,1488.7 323.0,1487.8 325.5,1487.0 328.1,1486.0 330.6,1485.0 333.1,1484.0 335.7,1482.9 338.2,1481.8 340.7,1480.6 343.2,1479.3 345.8,1477.9 348.3,1476.4 350.8,1474.9 353.3,1473.2 355.9,1471.5 358.4,1469.6 360.9,1467.8 363.4,1465.8 366.0,1463.8 368.5,1461.7 371.0,1459.6 373.6,1457.5 376.1,1455.4 378.6,1453.2 381.1,1451.0 383.7,1448.7 386.2,1446.4 388.7,1443.9 391.2,1441.4 393.8,1438.7 396.3,1436.1 398.8,1433.3 401.3,1430.6 403.9,1427.8 406.4,1425.0 408.9,1422.2 411.4,1419.4 414.0,1416.5 416.5,1413.6 419.0,1410.6 421.6,1407.6 424.1,1404.4 426.6,1401.1 429.1,1397.7 431.7,1394.1 434.2,1390.3 436.7,1386.3 439.2,1381.9 441.8,1377.3 444.3,1372.4 446.8,1367.2 449.3,1361.8 451.9,1356.2 454.4,1350.4 456.9,1344.4 459.5,1338.0 462.0,1331.2 464.5,1324.3 467.0,1317.1 469.6,1309.6 472.1,1301.8 474.6,1293.7 477.1,1285.4 479.7,1277.2 482.2,1269.0 484.7,1260.9 487.2,1252.9 489.8,1244.7 492.3,1236.5 494.8,1228.2 497.3,1219.9 499.9,1211.9 502.4,1204.1 504.9,1196.4 507.5,1188.4 510.0,1180.1 512.5,1172.5 515.0,1166.0 517.6,1160.4 520.1,1155.3 522.6,1150.8 525.1,1147.3 527.7,1144.8 530.2,1143.2 532.7,1142.4 535.2,1142.0 537.8,1142.1 540.3,1142.8 542.8,1143.7 545.4,1144.9 547.9,1146.3 550.4,1147.9 552.9,1149.4 555.5,1150.8 558.0,1151.8 560.5,1152.6 563.0,1153.1 565.6,1153.1 568.1,1152.7 570.6,1151.9 573.1,1150.8 575.7,1149.2 578.2,1147.1 580.7,1143.8 583.2,1139.1 585.8,1133.4 588.3,1127.6 590.8,1122.0 593.4,1116.1 595.9,1109.4 598.4,1101.9 600.9,1093.8 603.5,1085.1 606.0,1075.9 608.5,1066.3 611.0,1056.1 613.6,1045.6 616.1,1035.2 618.6,1024.8 621.1,1014.5 623.7,1004.2 626.2,994.1 628.7,984.1 631.3,974.2 633.8,964.4 636.3,955.0 638.8,946.0 641.4,937.5 643.9,929.6 646.4,921.9 648.9,914.5 651.5,907.8 654.0,902.2 656.5,897.6 659.0,893.8 661.6,891.5 664.1,891.1 666.6,893.0 669.2,896.8 671.7,902.7 674.2,912.2 676.7,924.5 679.3,938.4 681.8,955.8 684.3,977.2 686.8,1000.4 689.4,1023.8 691.9,1047.2 694.4,1070.5 696.9,1093.9 699.5,1117.2 702.0,1140.6 704.5,1163.9 707.0,1187.3 709.6,1210.7 712.1,1233.9 714.6,1257.0 717.2,1279.5 719.7,1300.5 722.2,1319.6 724.7,1337.5 727.3,1354.6 729.8,1370.2 732.3,1383.8 734.8,1395.8 737.4,1406.3 739.9,1415.8 742.4,1424.3 744.9,1431.9 747.5,1438.5 750.0,1444.3 752.5,1449.4 755.1,1453.9 757.6,1457.7 760.1,1461.1 762.6,1464.2 765.2,1467.0 767.7,1469.5 770.2,1471.8 772.7,1473.7 775.3,1475.5 777.8,1477.1 780.3,1478.6 782.8,1479.9 785.4,1481.0 787.9,1482.1 790.4,1482.9 792.9,1483.8 795.5,1484.5 798.0,1485.2 800.5,1485.9 803.1,1486.6 815.7,1489.3 828.3,1491.2 841.0,1492.6 853.6,1493.7 866.2,1494.5 878.9,1495.1 891.5,1495.6 904.1,1495.8 916.7,1496.0 929.4,1496.1 942.0,1496.2 954.6,1496.3 967.3,1496.3 979.9,1496.4 992.5,1496.4 1005.2,1496.4 1017.8,1496.4 1030.4,1496.4 1043.1,1496.4 1055.7,1496.4 1068.3,1496.4 1081.0,1496.4 1093.6,1496.4 1106.2,1496.4 1118.9,1496.4 1131.5,1496.4"/>
<polyline stroke="#1A6FDF" points="120.9,1496.2 133.5,1496.2 146.2,1496.2 158.8,1496.2 171.4,1496.2 184.1,1496.2 196.7,1496.2 209.3,1496.2 222.0,1496.2 234.6,1496.2 247.2,1496.2 259.9,1496.2 272.5,1496.2 285.1,1496.2 297.8,1496.1 300.3,1496.1 302.8,1495.9 305.3,1495.8 307.9,1495.6 310.4,1495.3 312.9,1495.1 315.4,1494.9 318.0,1494.7 320.5,1494.4 323.0,1494.2 325.5,1493.9 328.1,1493.6 330.6,1493.3 333.1,1492.9 335.7,1492.6 338.2,1492.2 340.7,1491.8 343.2,1491.4 345.8,1491.0 348.3,1490.5 350.8,1490.0 353.3,1489.5 355.9,1488.9 358.4,1488.3 360.9,1487.7 363.4,1487.1 366.0,1486.5 368.5,1485.8 371.0,1485.1 373.6,1484.4 376.1,1483.8 378.6,1483.1 381.1,1482.4 383.7,1481.6 386.2,1480.9 388.7,1480.1 391.2,1479.3 393.8,1478.4 396.3,1477.6 398.8,1476.7 401.3,1475.8 403.9,1474.9 406.4,1474.0 408.9,1473.1 411.4,1472.2 414.0,1471.3 416.5,1470.4 419.0,1469.4 421.6,1468.5 424.1,1467.4 426.6,1466.4 429.1,1465.3 431.7,1464.1 434.2,1462.9 436.7,1461.6 439.2,1460.2 441.8,1458.8 444.3,1457.2 446.8,1455.5 449.3,1453.8 451.9,1452.0 454.4,1450.1 456.9,1448.2 459.5,1446.2 462.0,1444.0 464.5,1441.8 467.0,1439.5 469.6,1437.1 472.1,1434.6 474.6,1432.0 477.1,1429.3 479.7,1426.7 482.2,1424.1 484.7,1421.5 487.2,1418.9 489.8,1416.3 492.3,1413.7 494.8,1411.0 497.3,1408.4 499.9,1405.8 502.4,1403.3 504.9,1400.8 507.5,1398.3 510.0,1395.6 512.5,1393.2 515.0,1391.1 517.6,1389.3 520.1,1387.6 522.6,1386.2 525.1,1385.1 527.7,1384.3 530.2,1383.8 532.7,1383.5 535.2,1383.4 537.8,1383.4 540.3,1383.6 542.8,1383.9 545.4,1384.3 547.9,1384.8 550.4,1385.3 552.9,1385.8 555.5,1386.2 558.0,1386.5 560.5,1386.8 563.0,1386.9 565.6,1386.9 568.1,1386.8 570.6,1386.6 573.1,1386.2 575.7,1385.7 578.2,1385.0 580.7,1384.0 583.2,1382.5 585.8,1380.6 588.3,1378.8 590.8,1377.0 593.4,1375.1 595.9,1372.9 598.4,1370.6 600.9,1368.0 603.5,1365.2 606.0,1362.2 608.5,1359.1 611.0,1355.9 613.6,1352.5 616.1,1349.2 618.6,1345.9 621.1,1342.6 623.7,1339.3 626.2,1336.0 628.7,1332.8 631.3,1329.6 633.8,1326.5 636.3,1323.5 638.8,1320.6 641.4,1317.9 643.9,1315.3 646.4,1312.9 648.9,1310.5 651.5,1308.4 654.0,1306.6 656.5,1305.1 659.0,1303.9 661.6,1303.1 664.1,1303.0 666.6,1303.6 669.2,1304.8 671.7,1306.8 674.2,1309.8 676.7,1313.7 679.3,1318.2 681.8,1323.7 684.3,1330.6 686.8,1338.0 689.4,1345.5 691.9,1353.0 694.4,1360.5 696.9,1368.0 699.5,1375.5 702.0,1382.9 704.5,1390.4 707.0,1397.9 709.6,1405.4 712.1,1412.8 714.6,1420.2 717.2,1427.4 719.7,1434.2 722.2,1440.3 724.7,1446.0 727.3,1451.5 729.8,1456.5 732.3,1460.8 734.8,1464.7 737.4,1468.1 739.9,1471.1 742.4,1473.8 744.9,1476.2 747.5,1478.4 750.0,1480.2 752.5,1481.9 755.1,1483.3 757.6,1484.5 760.1,1485.6 762.6,1486.6 765.2,1487.5 767.7,1488.3 770.2,1489.0 772.7,1489.6 775.3,1490.2 777.8,1490.7 780.3,1491.2 782.8,1491.6 785.4,1492.0 787.9,1492.3 790.4,1492.6 792.9,1492.9 795.5,1493.1 798.0,1493.3 800.5,1493.5 803.1,1493.8 815.7,1494.6 828.3,1495.2 841.0,1495.7 853.6,1496.0 866.2,1496.3 878.9,1496.5 891.5,1496.7 904.1,1496.7 916.7,1496.8 929.4,1496.8 942.0,1496.8 954.6,1496.9 967.3,1496.9 979.9,1496.9 992.5,1496.9 1005.2,1496.9 1017.8,1496.9 1030.4,1496.9 1043.1,1496.9 1055.7,1496.9 1068.3,1496.9 1081.0,1496.9 1093.6,1496.9 1106.2,1496.9 1118.9,1496.9 1131.5,1496.9"/>
<polyline stroke="#37AD6B" points="120.9,1496.3 133.5,1496.3 146.2,1496.3 158.8,1496.3 171.4,1496.3 184.1,1496.3 196.7,1496.3 209.3,1496.3 222.0,1496.3 234.6,1496.3 247.2,1496.3 259.9,1496.3 272.5,1496.3 285.1,1496.3 297.8,1496.2 300.3,1496.2 302.8,1496.1 305.3,1495.9 307.9,1495.7 310.4,1495.5 312.9,1495.3 315.4,1495.1 318.0,1494.9 320.5,1494.7 323.0,1494.5 325.5,1494.2 328.1,1494.0 330.6,1493.7 333.1,1493.4 335.7,1493.1 338.2,1492.8 340.7,1492.4 343.2,1492.1 345.8,1491.7 348.3,1491.3 350.8,1490.8 353.3,1490.4 355.9,1489.9 358.4,1489.4 360.9,1488.8 363.4,1488.3 366.0,1487.7 368.5,1487.2 371.0,1486.6 373.6,1486.0 376.1,1485.4 378.6,1484.7 381.1,1484.1 383.7,1483.5 386.2,1482.8 388.7,1482.1 391.2,1481.4 393.8,1480.7 396.3,1479.9 398.8,1479.2 401.3,1478.4 403.9,1477.6 406.4,1476.8 408.9,1476.0 411.4,1475.2 414.0,1474.4 416.5,1473.6 419.0,1472.8 421.6,1471.9 424.1,1471.0 426.6,1470.1 429.1,1469.1 431.7,1468.1 434.2,1467.1 436.7,1465.9 439.2,1464.7 441.8,1463.4 444.3,1462.0 446.8,1460.6 449.3,1459.1 451.9,1457.5 454.4,1455.9 456.9,1454.2 459.5,1452.4 462.0,1450.5 464.5,1448.5 467.0,1446.5 469.6,1444.4 472.1,1442.2 474.6,1439.9 477.1,1437.6 479.7,1435.3 482.2,1433.0 484.7,1430.7 487.2,1428.4 489.8,1426.1 492.3,1423.8 494.8,1421.5 497.3,1419.2 499.9,1416.9 502.4,1414.7 504.9,1412.6 507.5,1410.3 510.0,1408.0 512.5,1405.8 515.0,1404.0 517.6,1402.4 520.1,1401.0 522.6,1399.7 525.1,1398.8 527.7,1398.1 530.2,1397.6 532.7,1397.4 535.2,1397.3 537.8,1397.3 540.3,1397.5 542.8,1397.7 545.4,1398.1 547.9,1398.5 550.4,1398.9 552.9,1399.4 555.5,1399.7 558.0,1400.0 560.5,1400.2 563.0,1400.4 565.6,1400.4 568.1,1400.3 570.6,1400.0 573.1,1399.7 575.7,1399.3 578.2,1398.7 580.7,1397.8 583.2,1396.5 585.8,1394.8 588.3,1393.2 590.8,1391.7 593.4,1390.0 595.9,1388.1 598.4,1386.0 600.9,1383.7 603.5,1381.3 606.0,1378.7 608.5,1376.0 611.0,1373.1 613.6,1370.2 616.1,1367.2 618.6,1364.3 621.1,1361.4 623.7,1358.5 626.2,1355.7 628.7,1352.9 631.3,1350.1 633.8,1347.3 636.3,1344.7 638.8,1342.2 641.4,1339.8 643.9,1337.5 646.4,1335.4 648.9,1333.3 651.5,1331.4 654.0,1329.8 656.5,1328.6 659.0,1327.5 661.6,1326.8 664.1,1326.7 666.6,1327.3 669.2,1328.3 671.7,1330.0 674.2,1332.7 676.7,1336.1 679.3,1340.0 681.8,1344.9 684.3,1350.9 686.8,1357.4 689.4,1364.0 691.9,1370.6 694.4,1377.2 696.9,1383.7 699.5,1390.3 702.0,1396.9 704.5,1403.4 707.0,1410.0 709.6,1416.6 712.1,1423.1 714.6,1429.6 717.2,1435.9 719.7,1441.8 722.2,1447.2 724.7,1452.2 727.3,1457.0 729.8,1461.4 732.3,1465.2 734.8,1468.6 737.4,1471.6 739.9,1474.2 742.4,1476.6 744.9,1478.8 747.5,1480.6 750.0,1482.3 752.5,1483.7 755.1,1484.9 757.6,1486.0 760.1,1487.0 762.6,1487.8 765.2,1488.6 767.7,1489.3 770.2,1490.0 772.7,1490.5 775.3,1491.0 777.8,1491.5 780.3,1491.9 782.8,1492.3 785.4,1492.6 787.9,1492.9 790.4,1493.1 792.9,1493.3 795.5,1493.6 798.0,1493.8 800.5,1494.0 803.1,1494.1 815.7,1494.9 828.3,1495.4 841.0,1495.8 853.6,1496.1 866.2,1496.4 878.9,1496.5 891.5,1496.7 904.1,1496.7 916.7,1496.8 929.4,1496.8 942.0,1496.8 954.6,1496.9 967.3,1496.9 979.9,1496.9 992.5,1496.9 1005.2,1496.9 1017.8,1496.9 1030.4,1496.9 1043.1,1496.9 1055.7,1496.9 1068.3,1496.9 1081.0,1496.9 1093.6,1496.9 1106.2,1496.9 1118.9,1496.9 1131.5,1496.9"/>
<polyline stroke="#B177DE" points="120.9,1496.3 133.5,1496.3 146.2,1496.3 158.8,1496.3 171.4,1496.3 184.1,1496.3 196.7,1496.3 209.3,1496.3 222.0,1496.3 234.6,1496.3 247.2,1496.3 259.9,1496.3 272.5,1496.3 285.1,1496.3 297.8,1496.3 300.3,1496.2 302.8,1496.1 305.3,1496.0 307.9,1495.8 310.4,1495.6 312.9,1495.4 315.4,1495.2 318.0,1495.0 320.5,1494.8 323.0,1494.6 325.5,1494.4 328.1,1494.1 330.6,1493.8 333.1,1493.6 335.7,1493.3 338.2,1493.0 340.7,1492.6 343.2,1492.3 345.8,1491.9 348.3,1491.5 350.8,1491.1 353.3,1490.7 355.9,1490.2 358.4,1489.7 360.9,1489.2 363.4,1488.7 366.0,1488.1 368.5,1487.6 371.0,1487.0 373.6,1486.4 376.1,1485.9 378.6,1485.3 381.1,1484.7 383.7,1484.1 386.2,1483.4 388.7,1482.8 391.2,1482.1 393.8,1481.4 396.3,1480.7 398.8,1479.9 401.3,1479.2 403.9,1478.4 406.4,1477.7 408.9,1476.9 411.4,1476.2 414.0,1475.4 416.5,1474.6 419.0,1473.8 421.6,1473.0 424.1,1472.1 426.6,1471.3 429.1,1470.3 431.7,1469.4 434.2,1468.3 436.7,1467.3 439.2,1466.1 441.8,1464.9 444.3,1463.5 446.8,1462.1 449.3,1460.7 451.9,1459.2 454.4,1457.6 456.9,1456.0 459.5,1454.3 462.0,1452.5 464.5,1450.6 467.0,1448.6 469.6,1446.6 472.1,1444.5 474.6,1442.3 477.1,1440.1 479.7,1437.9 482.2,1435.7 484.7,1433.5 487.2,1431.4 489.8,1429.2 492.3,1427.0 494.8,1424.7 497.3,1422.5 499.9,1420.3 502.4,1418.3 504.9,1416.2 507.5,1414.0 510.0,1411.8 512.5,1409.8 515.0,1408.0 517.6,1406.5 520.1,1405.1 522.6,1403.9 525.1,1403.0 527.7,1402.3 530.2,1401.9 532.7,1401.6 535.2,1401.5 537.8,1401.6 540.3,1401.7 542.8,1402.0 545.4,1402.3 547.9,1402.7 550.4,1403.1 552.9,1403.5 555.5,1403.9 558.0,1404.2 560.5,1404.4 563.0,1404.5 565.6,1404.5 568.1,1404.4 570.6,1404.2 573.1,1403.9 575.7,1403.5 578.2,1402.9 580.7,1402.0 583.2,1400.8 585.8,1399.2 588.3,1397.7 590.8,1396.2 593.4,1394.6 595.9,1392.8 598.4,1390.8 600.9,1388.6 603.5,1386.2 606.0,1383.8 608.5,1381.2 611.0,1378.4 613.6,1375.6 616.1,1372.8 618.6,1370.0 621.1,1367.2 623.7,1364.5 626.2,1361.7 628.7,1359.0 631.3,1356.4 633.8,1353.8 636.3,1351.2 638.8,1348.8 641.4,1346.5 643.9,1344.4 646.4,1342.3 648.9,1340.3 651.5,1338.5 654.0,1337.0 656.5,1335.8 659.0,1334.8 661.6,1334.1 664.1,1334.0 666.6,1334.5 669.2,1335.6 671.7,1337.2 674.2,1339.7 676.7,1343.0 679.3,1346.8 681.8,1351.4 684.3,1357.2 686.8,1363.4 689.4,1369.7 691.9,1376.0 694.4,1382.3 696.9,1388.6 699.5,1394.9 702.0,1401.2 704.5,1407.4 707.0,1413.7 709.6,1420.0 712.1,1426.3 714.6,1432.5 717.2,1438.5 719.7,1444.2 722.2,1449.3 724.7,1454.1 727.3,1458.7 729.8,1462.9 732.3,1466.6 734.8,1469.8 737.4,1472.7 739.9,1475.2 742.4,1477.5 744.9,1479.5 747.5,1481.3 750.0,1482.9 752.5,1484.3 755.1,1485.5 757.6,1486.5 760.1,1487.4 762.6,1488.2 765.2,1489.0 767.7,1489.7 770.2,1490.3 772.7,1490.8 775.3,1491.3 777.8,1491.7 780.3,1492.1 782.8,1492.5 785.4,1492.8 787.9,1493.0 790.4,1493.3 792.9,1493.5 795.5,1493.7 798.0,1493.9 800.5,1494.1 803.1,1494.3 815.7,1495.0 828.3,1495.5 841.0,1495.9 853.6,1496.2 866.2,1496.4 878.9,1496.6 891.5,1496.7 904.1,1496.7 916.7,1496.8 929.4,1496.8 942.0,1496.8 954.6,1496.9 967.3,1496.9 979.9,1496.9 992.5,1496.9 1005.2,1496.9 1017.8,1496.9 1030.4,1496.9 1043.1,1496.9 1055.7,1496.9 1068.3,1496.9 1081.0,1496.9 1093.6,1496.9 1106.2,1496.9 1118.9,1496.9 1131.5,1496.9"/>
<polyline stroke="#CC9900" points="120.9,1496.3 133.5,1496.3 146.2,1496.3 158.8,1496.3 171.4,1496.3 184.1,1496.3 196.7,1496.3 209.3,1496.3 222.0,1496.3 234.6,1496.3 247.2,1496.3 259.9,1496.3 272.5,1496.3 285.1,1496.3 297.8,1496.3 300.3,1496.2 302.8,1496.1 305.3,1496.0 307.9,1495.8 310.4,1495.7 312.9,1495.5 315.4,1495.3 318.0,1495.1 320.5,1494.9 323.0,1494.7 325.5,1494.5 328.1,1494.3 330.6,1494.0 333.1,1493.7 335.7,1493.5 338.2,1493.2 340.7,1492.9 343.2,1492.5 345.8,1492.2 348.3,1491.8 350.8,1491.4 353.3,1491.0 355.9,1490.5 358.4,1490.1 360.9,1489.6 363.4,1489.1 366.0,1488.6 368.5,1488.1 371.0,1487.5 373.6,1487.0 376.1,1486.4 378.6,1485.9 381.1,1485.3 383.7,1484.8 386.2,1484.2 388.7,1483.5 391.2,1482.9 393.8,1482.2 396.3,1481.5 398.8,1480.8 401.3,1480.1 403.9,1479.4 406.4,1478.7 408.9,1478.0 411.4,1477.3 414.0,1476.6 416.5,1475.8 419.0,1475.1 421.6,1474.3 424.1,1473.5 426.6,1472.6 429.1,1471.8 431.7,1470.8 434.2,1469.9 436.7,1468.8 439.2,1467.7 441.8,1466.6 444.3,1465.3 446.8,1464.0 449.3,1462.6 451.9,1461.2 454.4,1459.7 456.9,1458.2 459.5,1456.5 462.0,1454.8 464.5,1453.1 467.0,1451.2 469.6,1449.3 472.1,1447.3 474.6,1445.3 477.1,1443.2 479.7,1441.1 482.2,1439.0 484.7,1436.9 487.2,1434.9 489.8,1432.8 492.3,1430.7 494.8,1428.6 497.3,1426.5 499.9,1424.4 502.4,1422.5 504.9,1420.5 507.5,1418.4 510.0,1416.3 512.5,1414.4 515.0,1412.7 517.6,1411.3 520.1,1410.0 522.6,1408.9 525.1,1408.0 527.7,1407.3 530.2,1406.9 532.7,1406.7 535.2,1406.6 537.8,1406.7 540.3,1406.8 542.8,1407.1 545.4,1407.4 547.9,1407.7 550.4,1408.1 552.9,1408.5 555.5,1408.9 558.0,1409.1 560.5,1409.3 563.0,1409.4 565.6,1409.5 568.1,1409.3 570.6,1409.1 573.1,1408.9 575.7,1408.5 578.2,1407.9 580.7,1407.1 583.2,1405.9 585.8,1404.4 588.3,1403.0 590.8,1401.5 593.4,1400.0 595.9,1398.3 598.4,1396.4 600.9,1394.4 603.5,1392.1 606.0,1389.8 608.5,1387.3 611.0,1384.8 613.6,1382.1 616.1,1379.4 618.6,1376.8 621.1,1374.2 623.7,1371.5 626.2,1369.0 628.7,1366.4 631.3,1363.9 633.8,1361.4 636.3,1359.0 638.8,1356.7 641.4,1354.5 643.9,1352.5 646.4,1350.6 648.9,1348.7 651.5,1347.0 654.0,1345.5 656.5,1344.4 659.0,1343.4 661.6,1342.8 664.1,1342.7 666.6,1343.2 669.2,1344.2 671.7,1345.7 674.2,1348.1 676.7,1351.2 679.3,1354.8 681.8,1359.2 684.3,1364.7 686.8,1370.6 689.4,1376.5 691.9,1382.5 694.4,1388.4 696.9,1394.4 699.5,1400.3 702.0,1406.3 704.5,1412.2 707.0,1418.2 709.6,1424.1 712.1,1430.0 714.6,1435.9 717.2,1441.6 719.7,1447.0 722.2,1451.9 724.7,1456.4 727.3,1460.8 729.8,1464.7 732.3,1468.2 734.8,1471.3 737.4,1474.0 739.9,1476.4 742.4,1478.5 744.9,1480.5 747.5,1482.2 750.0,1483.6 752.5,1484.9 755.1,1486.1 757.6,1487.0 760.1,1487.9 762.6,1488.7 765.2,1489.4 767.7,1490.1 770.2,1490.6 772.7,1491.1 775.3,1491.6 777.8,1492.0 780.3,1492.4 782.8,1492.7 785.4,1493.0 787.9,1493.2 790.4,1493.5 792.9,1493.7 795.5,1493.9 798.0,1494.1 800.5,1494.2 803.1,1494.4 815.7,1495.1 828.3,1495.6 841.0,1495.9 853.6,1496.2 866.2,1496.4 878.9,1496.6 891.5,1496.7 904.1,1496.8 916.7,1496.8 929.4,1496.8 942.0,1496.8 954.6,1496.9 967.3,1496.9 979.9,1496.9 992.5,1496.9 1005.2,1496.9 1017.8,1496.9 1030.4,1496.9 1043.1,1496.9 1055.7,1496.9 1068.3,1496.9 1081.0,1496.9 1093.6,1496.9 1106.2,1496.9 1118.9,1496.9 1131.5,1496.9"/>
<polyline stroke="#00CBCC" points="120.9,1496.4 133.5,1496.4 146.2,1496.4 158.8,1496.4 171.4,1496.4 184.1,1496.4 196.7,1496.4 209.3,1496.4 222.0,1496.4 234.6,1496.4 247.2,1496.4 259.9,1496.4 272.5,1496.4 285.1,1496.4 297.8,1496.3 300.3,1496.3 302.8,1496.2 305.3,1496.1 307.9,1495.9 310.4,1495.7 312.9,1495.6 315.4,1495.4 318.0,1495.2 320.5,1495.1 323.0,1494.9 325.5,1494.6 328.1,1494.4 330.6,1494.2 333.1,1493.9 335.7,1493.7 338.2,1493.4 340.7,1493.1 343.2,1492.8 345.8,1492.5 348.3,1492.1 350.8,1491.8 353.3,1491.4 355.9,1491.0 358.4,1490.5 360.9,1490.1 363.4,1489.6 366.0,1489.1 368.5,1488.6 371.0,1488.1 373.6,1487.6 376.1,1487.1 378.6,1486.6 381.1,1486.1 383.7,1485.5 386.2,1485.0 388.7,1484.4 391.2,1483.8 393.8,1483.2 396.3,1482.5 398.8,1481.9 401.3,1481.2 403.9,1480.5 406.4,1479.9 408.9,1479.2 411.4,1478.5 414.0,1477.9 416.5,1477.2 419.0,1476.5 421.6,1475.7 424.1,1475.0 426.6,1474.2 429.1,1473.4 431.7,1472.5 434.2,1471.6 436.7,1470.6 439.2,1469.6 441.8,1468.5 444.3,1467.3 446.8,1466.1 449.3,1464.8 451.9,1463.5 454.4,1462.1 456.9,1460.7 459.5,1459.1 462.0,1457.5 464.5,1455.9 467.0,1454.2 469.6,1452.4 472.1,1450.5 474.6,1448.6 477.1,1446.6 479.7,1444.6 482.2,1442.7 484.7,1440.8 487.2,1438.8 489.8,1436.9 492.3,1435.0 494.8,1433.0 497.3,1431.0 499.9,1429.1 502.4,1427.2 504.9,1425.4 507.5,1423.5 510.0,1421.5 512.5,1419.7 515.0,1418.2 517.6,1416.8 520.1,1415.6 522.6,1414.5 525.1,1413.7 527.7,1413.1 530.2,1412.7 532.7,1412.5 535.2,1412.4 537.8,1412.5 540.3,1412.6 542.8,1412.8 545.4,1413.1 547.9,1413.5 550.4,1413.8 552.9,1414.2 555.5,1414.5 558.0,1414.8 560.5,1415.0 563.0,1415.1 565.6,1415.1 568.1,1415.0 570.6,1414.8 573.1,1414.5 575.7,1414.1 578.2,1413.6 580.7,1412.9 583.2,1411.7 585.8,1410.4 588.3,1409.0 590.8,1407.7 593.4,1406.2 595.9,1404.7 598.4,1402.9 600.9,1400.9 603.5,1398.9 606.0,1396.7 608.5,1394.4 611.0,1392.0 613.6,1389.5 616.1,1387.0 618.6,1384.5 621.1,1382.0 623.7,1379.6 626.2,1377.2 628.7,1374.8 631.3,1372.4 633.8,1370.1 636.3,1367.8 638.8,1365.7 641.4,1363.7 643.9,1361.8 646.4,1360.0 648.9,1358.2 651.5,1356.6 654.0,1355.3 656.5,1354.2 659.0,1353.3 661.6,1352.7 664.1,1352.6 666.6,1353.1 669.2,1354.0 671.7,1355.4 674.2,1357.7 676.7,1360.6 679.3,1363.9 681.8,1368.0 684.3,1373.2 686.8,1378.7 689.4,1384.2 691.9,1389.8 694.4,1395.4 696.9,1401.0 699.5,1406.5 702.0,1412.1 704.5,1417.7 707.0,1423.2 709.6,1428.8 712.1,1434.3 714.6,1439.8 717.2,1445.2 719.7,1450.2 722.2,1454.8 724.7,1459.0 727.3,1463.1 729.8,1466.8 732.3,1470.1 734.8,1472.9 737.4,1475.4 739.9,1477.7 742.4,1479.7 744.9,1481.5 747.5,1483.1 750.0,1484.5 752.5,1485.7 755.1,1486.8 757.6,1487.7 760.1,1488.5 762.6,1489.2 765.2,1489.9 767.7,1490.5 770.2,1491.0 772.7,1491.5 775.3,1491.9 777.8,1492.3 780.3,1492.6 782.8,1493.0 785.4,1493.2 787.9,1493.5 790.4,1493.7 792.9,1493.9 795.5,1494.1 798.0,1494.2 800.5,1494.4 803.1,1494.6 815.7,1495.2 828.3,1495.7 841.0,1496.0 853.6,1496.3 866.2,1496.4 878.9,1496.6 891.5,1496.7 904.1,1496.8 916.7,1496.8 929.4,1496.8 942.0,1496.8 954.6,1496.9 967.3,1496.9 979.9,1496.9 992.5,1496.9 1005.2,1496.9 1017.8,1496.9 1030.4,1496.9 1043.1,1496.9 1055.7,1496.9 1068.3,1496.9 1081.0,1496.9 1093.6,1496.9 1106.2,1496.9 1118.9,1496.9 1131.5,1496.9"/>
<polyline stroke="#7D4E4E" points="120.9,1496.4 133.5,1496.4 146.2,1496.4 158.8,1496.4 171.4,1496.4 184.1,1496.4 196.7,1496.4 209.3,1496.4 222.0,1496.4 234.6,1496.4 247.2,1496.4 259.9,1496.4 272.5,1496.4 285.1,1496.4 297.8,1496.4 300.3,1496.3 302.8,1496.2 305.3,1496.1 307.9,1496.0 310.4,1495.8 312.9,1495.7 315.4,1495.5 318.0,1495.3 320.5,1495.2 323.0,1495.0 325.5,1494.8 328.1,1494.6 330.6,1494.4 333.1,1494.1 335.7,1493.9 338.2,1493.6 340.7,1493.3 343.2,1493.1 345.8,1492.8 348.3,1492.4 350.8,1492.1 353.3,1491.7 355.9,1491.3 358.4,1490.9 360.9,1490.5 363.4,1490.0 366.0,1489.6 368.5,1489.1 371.0,1488.7 373.6,1488.2 376.1,1487.7 378.6,1487.2 381.1,1486.7 383.7,1486.2 386.2,1485.7 388.7,1485.1 391.2,1484.6 393.8,1484.0 396.3,1483.4 398.8,1482.8 401.3,1482.1 403.9,1481.5 406.4,1480.9 408.9,1480.3 411.4,1479.6 414.0,1479.0 416.5,1478.3 419.0,1477.7 421.6,1477.0 424.1,1476.3 426.6,1475.5 429.1,1474.8 431.7,1474.0 434.2,1473.1 436.7,1472.2 439.2,1471.2 441.8,1470.2 444.3,1469.1 446.8,1467.9 449.3,1466.7 451.9,1465.5 454.4,1464.2 456.9,1462.8 459.5,1461.4 462.0,1459.9 464.5,1458.3 467.0,1456.7 469.6,1455.0 472.1,1453.3 474.6,1451.5 477.1,1449.6 479.7,1447.8 482.2,1445.9 484.7,1444.1 487.2,1442.3 489.8,1440.5 492.3,1438.7 494.8,1436.8 497.3,1434.9 499.9,1433.1 502.4,1431.4 504.9,1429.7 507.5,1427.9 510.0,1426.0 512.5,1424.3 515.0,1422.8 517.6,1421.6 520.1,1420.4 522.6,1419.4 525.1,1418.6 527.7,1418.1 530.2,1417.7 532.7,1417.5 535.2,1417.5 537.8,1417.5 540.3,1417.6 542.8,1417.8 545.4,1418.1 547.9,1418.4 550.4,1418.8 552.9,1419.1 555.5,1419.4 558.0,1419.7 560.5,1419.8 563.0,1419.9 565.6,1419.9 568.1,1419.8 570.6,1419.7 573.1,1419.4 575.7,1419.1 578.2,1418.6 580.7,1417.9 583.2,1416.8 585.8,1415.5 588.3,1414.2 590.8,1413.0 593.4,1411.6 595.9,1410.2 598.4,1408.5 600.9,1406.7 603.5,1404.7 606.0,1402.6 608.5,1400.5 611.0,1398.2 613.6,1395.9 616.1,1393.5 618.6,1391.2 621.1,1388.9 623.7,1386.6 626.2,1384.3 628.7,1382.1 631.3,1379.8 633.8,1377.7 636.3,1375.5 638.8,1373.5 641.4,1371.6 643.9,1369.8 646.4,1368.1 648.9,1366.5 651.5,1365.0 654.0,1363.7 656.5,1362.7 659.0,1361.8 661.6,1361.3 664.1,1361.2 666.6,1361.6 669.2,1362.5 671.7,1363.8 674.2,1366.0 676.7,1368.7 679.3,1371.8 681.8,1375.7 684.3,1380.5 686.8,1385.7 689.4,1391.0 691.9,1396.2 694.4,1401.4 696.9,1406.7 699.5,1411.9 702.0,1417.1 704.5,1422.4 707.0,1427.6 709.6,1432.9 712.1,1438.1 714.6,1443.2 717.2,1448.3 719.7,1453.0 722.2,1457.3 724.7,1461.3 727.3,1465.1 729.8,1468.6 732.3,1471.7 734.8,1474.3 737.4,1476.7 739.9,1478.8 742.4,1480.7 744.9,1482.4 747.5,1483.9 750.0,1485.2 752.5,1486.4 755.1,1487.4 757.6,1488.2 760.1,1489.0 762.6,1489.7 765.2,1490.3 767.7,1490.9 770.2,1491.4 772.7,1491.8 775.3,1492.2 777.8,1492.6 780.3,1492.9 782.8,1493.2 785.4,1493.5 787.9,1493.7 790.4,1493.9 792.9,1494.1 795.5,1494.2 798.0,1494.4 800.5,1494.6 803.1,1494.7 815.7,1495.3 828.3,1495.7 841.0,1496.1 853.6,1496.3 866.2,1496.5 878.9,1496.6 891.5,1496.7 904.1,1496.8 916.7,1496.8 929.4,1496.8 942.0,1496.9 954.6,1496.9 967.3,1496.9 979.9,1496.9 992.5,1496.9 1005.2,1496.9 1017.8,1496.9 1030.4,1496.9 1043.1,1496.9 1055.7,1496.9 1068.3,1496.9 1081.0,1496.9 1093.6,1496.9 1106.2,1496.9 1118.9,1496.9 1131.5,1496.9"/>
<polyline stroke="#8E8E00" points="120.9,1496.4 133.5,1496.4 146.2,1496.4 158.8,1496.4 171.4,1496.4 184.1,1496.4 196.7,1496.4 209.3,1496.4 222.0,1496.4 234.6,1496.4 247.2,1496.4 259.9,1496.4 272.5,1496.4 285.1,1496.4 297.8,1496.4 300.3,1496.4 302.8,1496.3 305.3,1496.2 307.9,1496.0 310.4,1495.9 312.9,1495.7 315.4,1495.6 318.0,1495.5 320.5,1495.3 323.0,1495.1 325.5,1494.9 328.1,1494.7 330.6,1494.5 333.1,1494.3 335.7,1494.1 338.2,1493.9 340.7,1493.6 343.2,1493.3 345.8,1493.1 348.3,1492.8 350.8,1492.4 353.3,1492.1 355.9,1491.7 358.4,1491.3 360.9,1490.9 363.4,1490.5 366.0,1490.1 368.5,1489.7 371.0,1489.3 373.6,1488.8 376.1,1488.4 378.6,1487.9 381.1,1487.5 383.7,1487.0 386.2,1486.5 388.7,1486.0 391.2,1485.5 393.8,1484.9 396.3,1484.4 398.8,1483.8 401.3,1483.2 403.9,1482.6 406.4,1482.0 408.9,1481.5 411.4,1480.9 414.0,1480.3 416.5,1479.7 419.0,1479.1 421.6,1478.4 424.1,1477.8 426.6,1477.1 429.1,1476.4 431.7,1475.6 434.2,1474.8 436.7,1474.0 439.2,1473.1 441.8,1472.1 444.3,1471.1 446.8,1470.0 449.3,1468.9 451.9,1467.7 454.4,1466.5 456.9,1465.3 459.5,1464.0 462.0,1462.6 464.5,1461.1 467.0,1459.6 469.6,1458.1 472.1,1456.4 474.6,1454.7 477.1,1453.0 479.7,1451.3 482.2,1449.6 484.7,1447.9 487.2,1446.3 489.8,1444.6 492.3,1442.9 494.8,1441.1 497.3,1439.4 499.9,1437.7 502.4,1436.1 504.9,1434.5 507.5,1432.8 510.0,1431.1 512.5,1429.5 515.0,1428.2 517.6,1427.0 520.1,1426.0 522.6,1425.0 525.1,1424.3 527.7,1423.8 530.2,1423.5 532.7,1423.3 535.2,1423.2 537.8,1423.2 540.3,1423.4 542.8,1423.6 545.4,1423.8 547.9,1424.1 550.4,1424.4 552.9,1424.7 555.5,1425.0 558.0,1425.2 560.5,1425.4 563.0,1425.5 565.6,1425.5 568.1,1425.4 570.6,1425.3 573.1,1425.0 575.7,1424.7 578.2,1424.3 580.7,1423.6 583.2,1422.6 585.8,1421.4 588.3,1420.2 590.8,1419.0 593.4,1417.8 595.9,1416.4 598.4,1414.9 600.9,1413.2 603.5,1411.4 606.0,1409.5 608.5,1407.4 611.0,1405.3 613.6,1403.2 616.1,1401.0 618.6,1398.8 621.1,1396.7 623.7,1394.5 626.2,1392.4 628.7,1390.4 631.3,1388.3 633.8,1386.3 636.3,1384.3 638.8,1382.4 641.4,1380.7 643.9,1379.0 646.4,1377.4 648.9,1375.9 651.5,1374.5 654.0,1373.3 656.5,1372.4 659.0,1371.6 661.6,1371.1 664.1,1371.0 666.6,1371.4 669.2,1372.2 671.7,1373.4 674.2,1375.4 676.7,1378.0 679.3,1380.9 681.8,1384.5 684.3,1388.9 686.8,1393.7 689.4,1398.6 691.9,1403.5 694.4,1408.3 696.9,1413.2 699.5,1418.0 702.0,1422.9 704.5,1427.8 707.0,1432.6 709.6,1437.5 712.1,1442.3 714.6,1447.1 717.2,1451.8 719.7,1456.2 722.2,1460.1 724.7,1463.9 727.3,1467.4 729.8,1470.6 732.3,1473.5 734.8,1476.0 737.4,1478.2 739.9,1480.1 742.4,1481.9 744.9,1483.5 747.5,1484.9 750.0,1486.1 752.5,1487.1 755.1,1488.1 757.6,1488.9 760.1,1489.6 762.6,1490.2 765.2,1490.8 767.7,1491.3 770.2,1491.8 772.7,1492.2 775.3,1492.6 777.8,1492.9 780.3,1493.2 782.8,1493.5 785.4,1493.7 787.9,1493.9 790.4,1494.1 792.9,1494.3 795.5,1494.4 798.0,1494.6 800.5,1494.7 803.1,1494.9 815.7,1495.4 828.3,1495.8 841.0,1496.1 853.6,1496.3 866.2,1496.5 878.9,1496.6 891.5,1496.7 904.1,1496.8 916.7,1496.8 929.4,1496.8 942.0,1496.9 954.6,1496.9 967.3,1496.9 979.9,1496.9 992.5,1496.9 1005.2,1496.9 1017.8,1496.9 1030.4,1496.9 1043.1,1496.9 1055.7,1496.9 1068.3,1496.9 1081.0,1496.9 1093.6,1496.9 1106.2,1496.9 1118.9,1496.9 1131.5,1496.9"/>
<polyline stroke="#FB6501" points="120.9,1496.5 133.5,1496.5 146.2,1496.5 158.8,1496.5 171.4,1496.5 184.1,1496.5 196.7,1496.5 209.3,1496.5 222.0,1496.5 234.6,1496.5 247.2,1496.5 259.9,1496.5 272.5,1496.5 285.1,1496.5 297.8,1496.5 300.3,1496.4 302.8,1496.4 305.3,1496.3 307.9,1496.1 310.4,1496.0 312.9,1495.9 315.4,1495.8 318.0,1495.6 320.5,1495.5 323.0,1495.3 325.5,1495.2 328.1,1495.0 330.6,1494.8 333.1,1494.6 335.7,1494.4 338.2,1494.2 340.7,1494.0 343.2,1493.8 345.8,1493.5 348.3,1493.2 350.8,1493.0 353.3,1492.7 355.9,1492.3 358.4,1492.0 360.9,1491.7 363.4,1491.3 366.0,1490.9 368.5,1490.6 371.0,1490.2 373.6,1489.8 376.1,1489.4 378.6,1489.0 381.1,1488.6 383.7,1488.2 386.2,1487.7 388.7,1487.3 391.2,1486.8 393.8,1486.3 396.3,1485.8 398.8,1485.3 401.3,1484.8 403.9,1484.3 406.4,1483.8 408.9,1483.3 411.4,1482.8 414.0,1482.3 416.5,1481.7 419.0,1481.2 421.6,1480.6 424.1,1480.0 426.6,1479.4 429.1,1478.8 431.7,1478.2 434.2,1477.5 436.7,1476.7 439.2,1475.9 441.8,1475.1 444.3,1474.2 446.8,1473.2 449.3,1472.2 451.9,1471.2 454.4,1470.2 456.9,1469.0 459.5,1467.9 462.0,1466.6 464.5,1465.4 467.0,1464.0 469.6,1462.7 472.1,1461.2 474.6,1459.8 477.1,1458.2 479.7,1456.7 482.2,1455.2 484.7,1453.8 487.2,1452.3 489.8,1450.8 492.3,1449.3 494.8,1447.8 497.3,1446.3 499.9,1444.8 502.4,1443.4 504.9,1442.0 507.5,1440.5 510.0,1439.0 512.5,1437.6 515.0,1436.4 517.6,1435.3 520.1,1434.4 522.6,1433.6 525.1,1432.9 527.7,1432.5 530.2,1432.2 532.7,1432.0 535.2,1432.0 537.8,1432.0 540.3,1432.1 542.8,1432.3 545.4,1432.5 547.9,1432.8 550.4,1433.1 552.9,1433.3 555.5,1433.6 558.0,1433.8 560.5,1433.9 563.0,1434.0 565.6,1434.0 568.1,1433.9 570.6,1433.8 573.1,1433.6 575.7,1433.3 578.2,1432.9 580.7,1432.3 583.2,1431.5 585.8,1430.4 588.3,1429.4 590.8,1428.3 593.4,1427.2 595.9,1426.0 598.4,1424.6 600.9,1423.1 603.5,1421.6 606.0,1419.9 608.5,1418.1 611.0,1416.2 613.6,1414.3 616.1,1412.4 618.6,1410.5 621.1,1408.6 623.7,1406.7 626.2,1404.9 628.7,1403.0 631.3,1401.2 633.8,1399.5 636.3,1397.7 638.8,1396.1 641.4,1394.5 643.9,1393.1 646.4,1391.7 648.9,1390.3 651.5,1389.1 654.0,1388.0 656.5,1387.2 659.0,1386.5 661.6,1386.1 664.1,1386.0 666.6,1386.4 669.2,1387.1 671.7,1388.2 674.2,1389.9 676.7,1392.1 679.3,1394.7 681.8,1397.9 684.3,1401.8 686.8,1406.0 689.4,1410.3 691.9,1414.6 694.4,1418.9 696.9,1423.2 699.5,1427.4 702.0,1431.7 704.5,1436.0 707.0,1440.3 709.6,1444.6 712.1,1448.8 714.6,1453.0 717.2,1457.2 719.7,1461.0 722.2,1464.5 724.7,1467.8 727.3,1470.9 729.8,1473.8 732.3,1476.3 734.8,1478.5 737.4,1480.4 739.9,1482.1 742.4,1483.7 744.9,1485.1 747.5,1486.3 750.0,1487.4 752.5,1488.3 755.1,1489.1 757.6,1489.8 760.1,1490.4 762.6,1491.0 765.2,1491.5 767.7,1492.0 770.2,1492.4 772.7,1492.7 775.3,1493.1 777.8,1493.4 780.3,1493.6 782.8,1493.9 785.4,1494.1 787.9,1494.3 790.4,1494.4 792.9,1494.6 795.5,1494.7 798.0,1494.9 800.5,1495.0 803.1,1495.1 815.7,1495.6 828.3,1495.9 841.0,1496.2 853.6,1496.4 866.2,1496.6 878.9,1496.7 891.5,1496.8 904.1,1496.8 916.7,1496.8 929.4,1496.8 942.0,1496.9 954.6,1496.9 967.3,1496.9 979.9,1496.9 992.5,1496.9 1005.2,1496.9 1017.8,1496.9 1030.4,1496.9 1043.1,1496.9 1055.7,1496.9 1068.3,1496.9 1081.0,1496.9 1093.6,1496.9 1106.2,1496.9 1118.9,1496.9 1131.5,1496.9"/>
<polyline stroke="#6699CC" points="120.9,1496.5 133.5,1496.5 146.2,1496.5 158.8,1496.5 171.4,1496.5 184.1,1496.5 196.7,1496.5 209.3,1496.5 222.0,1496.5 234.6,1496.5 247.2,1496.5 259.9,1496.5 272.5,1496.5 285.1,1496.5 297.8,1496.5 300.3,1496.5 302.8,1496.4 305.3,1496.3 307.9,1496.2 310.4,1496.1 312.9,1495.9 315.4,1495.8 318.0,1495.7 320.5,1495.6 323.0,1495.4 325.5,1495.3 328.1,1495.1 330.6,1494.9 333.1,1494.8 335.7,1494.6 338.2,1494.4 340.7,1494.2 343.2,1494.0 345.8,1493.7 348.3,1493.5 350.8,1493.2 353.3,1492.9 355.9,1492.6 358.4,1492.3 360.9,1492.0 363.4,1491.6 366.0,1491.3 368.5,1491.0 371.0,1490.6 373.6,1490.2 376.1,1489.9 378.6,1489.5 381.1,1489.1 383.7,1488.7 386.2,1488.3 388.7,1487.9 391.2,1487.5 393.8,1487.0 396.3,1486.5 398.8,1486.1 401.3,1485.6 403.9,1485.1 406.4,1484.6 408.9,1484.2 411.4,1483.7 414.0,1483.2 416.5,1482.7 419.0,1482.2 421.6,1481.7 424.1,1481.1 426.6,1480.5 429.1,1480.0 431.7,1479.3 434.2,1478.7 436.7,1478.0 439.2,1477.3 441.8,1476.5 444.3,1475.6 446.8,1474.7 449.3,1473.8 451.9,1472.8 454.4,1471.8 456.9,1470.8 459.5,1469.7 462.0,1468.6 464.5,1467.4 467.0,1466.1 469.6,1464.8 472.1,1463.5 474.6,1462.1 477.1,1460.7 479.7,1459.3 482.2,1457.9 484.7,1456.5 487.2,1455.1 489.8,1453.7 492.3,1452.3 494.8,1450.9 497.3,1449.5 499.9,1448.1 502.4,1446.7 504.9,1445.4 507.5,1444.0 510.0,1442.6 512.5,1441.3 515.0,1440.2 517.6,1439.2 520.1,1438.4 522.6,1437.6 525.1,1437.0 527.7,1436.6 530.2,1436.3 532.7,1436.1 535.2,1436.1 537.8,1436.1 540.3,1436.2 542.8,1436.4 545.4,1436.6 547.9,1436.8 550.4,1437.1 552.9,1437.4 555.5,1437.6 558.0,1437.8 560.5,1437.9 563.0,1438.0 565.6,1438.0 568.1,1437.9 570.6,1437.8 573.1,1437.6 575.7,1437.3 578.2,1436.9 580.7,1436.4 583.2,1435.6 585.8,1434.6 588.3,1433.6 590.8,1432.7 593.4,1431.6 595.9,1430.5 598.4,1429.2 600.9,1427.8 603.5,1426.3 606.0,1424.7 608.5,1423.1 611.0,1421.3 613.6,1419.5 616.1,1417.7 618.6,1416.0 621.1,1414.2 623.7,1412.4 626.2,1410.7 628.7,1409.0 631.3,1407.3 633.8,1405.6 636.3,1404.0 638.8,1402.4 641.4,1401.0 643.9,1399.6 646.4,1398.3 648.9,1397.0 651.5,1395.9 654.0,1394.9 656.5,1394.1 659.0,1393.5 661.6,1393.1 664.1,1393.0 666.6,1393.3 669.2,1394.0 671.7,1395.0 674.2,1396.6 676.7,1398.8 679.3,1401.1 681.8,1404.1 684.3,1407.8 686.8,1411.8 689.4,1415.8 691.9,1419.8 694.4,1423.8 696.9,1427.8 699.5,1431.8 702.0,1435.8 704.5,1439.8 707.0,1443.9 709.6,1447.9 712.1,1451.9 714.6,1455.8 717.2,1459.7 719.7,1463.3 722.2,1466.6 724.7,1469.6 727.3,1472.6 729.8,1475.2 732.3,1477.6 734.8,1479.6 737.4,1481.4 739.9,1483.1 742.4,1484.5 744.9,1485.8 747.5,1487.0 750.0,1488.0 752.5,1488.8 755.1,1489.6 757.6,1490.3 760.1,1490.8 762.6,1491.4 765.2,1491.9 767.7,1492.3 770.2,1492.7 772.7,1493.0 775.3,1493.3 777.8,1493.6 780.3,1493.8 782.8,1494.1 785.4,1494.3 787.9,1494.4 790.4,1494.6 792.9,1494.7 795.5,1494.9 798.0,1495.0 800.5,1495.1 803.1,1495.2 815.7,1495.7 828.3,1496.0 841.0,1496.3 853.6,1496.4 866.2,1496.6 878.9,1496.7 891.5,1496.8 904.1,1496.8 916.7,1496.8 929.4,1496.8 942.0,1496.9 954.6,1496.9 967.3,1496.9 979.9,1496.9 992.5,1496.9 1005.2,1496.9 1017.8,1496.9 1030.4,1496.9 1043.1,1496.9 1055.7,1496.9 1068.3,1496.9 1081.0,1496.9 1093.6,1496.9 1106.2,1496.9 1118.9,1496.9 1131.5,1496.9"/>
<polyline stroke="#6FB802" points="120.9,1496.5 133.5,1496.5 146.2,1496.5 158.8,1496.5 171.4,1496.5 184.1,1496.5 196.7,1496.5 209.3,1496.5 222.0,1496.5 234.6,1496.5 247.2,1496.5 259.9,1496.5 272.5,1496.5 285.1,1496.5 297.8,1496.5 300.3,1496.5 302.8,1496.4 305.3,1496.3 307.9,1496.2 310.4,1496.1 312.9,1496.0 315.4,1495.9 318.0,1495.8 320.5,1495.6 323.0,1495.5 325.5,1495.3 328.1,1495.2 330.6,1495.0 333.1,1494.9 335.7,1494.7 338.2,1494.5 340.7,1494.3 343.2,1494.1 345.8,1493.9 348.3,1493.6 350.8,1493.3 353.3,1493.1 355.9,1492.8 358.4,1492.5 360.9,1492.2 363.4,1491.9 366.0,1491.5 368.5,1491.2 371.0,1490.8 373.6,1490.5 376.1,1490.1 378.6,1489.8 381.1,1489.4 383.7,1489.0 386.2,1488.6 388.7,1488.2 391.2,1487.8 393.8,1487.4 396.3,1486.9 398.8,1486.5 401.3,1486.0 403.9,1485.6 406.4,1485.1 408.9,1484.7 411.4,1484.2 414.0,1483.7 416.5,1483.2 419.0,1482.7 421.6,1482.2 424.1,1481.7 426.6,1481.2 429.1,1480.6 431.7,1480.0 434.2,1479.4 436.7,1478.7 439.2,1478.0 441.8,1477.2 444.3,1476.4 446.8,1475.6 449.3,1474.7 451.9,1473.8 454.4,1472.8 456.9,1471.8 459.5,1470.8 462.0,1469.6 464.5,1468.5 467.0,1467.3 469.6,1466.1 472.1,1464.8 474.6,1463.4 477.1,1462.1 479.7,1460.7 482.2,1459.4 484.7,1458.0 487.2,1456.7 489.8,1455.4 492.3,1454.0 494.8,1452.6 497.3,1451.3 499.9,1449.9 502.4,1448.7 504.9,1447.4 507.5,1446.1 510.0,1444.7 512.5,1443.5 515.0,1442.4 517.6,1441.4 520.1,1440.6 522.6,1439.9 525.1,1439.3 527.7,1438.9 530.2,1438.6 532.7,1438.5 535.2,1438.4 537.8,1438.4 540.3,1438.5 542.8,1438.7 545.4,1438.9 547.9,1439.1 550.4,1439.4 552.9,1439.6 555.5,1439.9 558.0,1440.0 560.5,1440.2 563.0,1440.2 565.6,1440.2 568.1,1440.2 570.6,1440.0 573.1,1439.9 575.7,1439.6 578.2,1439.3 580.7,1438.7 583.2,1437.9 585.8,1437.0 588.3,1436.1 590.8,1435.1 593.4,1434.1 595.9,1433.0 598.4,1431.8 600.9,1430.5 603.5,1429.0 606.0,1427.5 608.5,1425.9 611.0,1424.2 613.6,1422.5 616.1,1420.8 618.6,1419.1 621.1,1417.4 623.7,1415.7 626.2,1414.0 628.7,1412.4 631.3,1410.7 633.8,1409.1 636.3,1407.6 638.8,1406.1 641.4,1404.7 643.9,1403.4 646.4,1402.1 648.9,1400.9 651.5,1399.8 654.0,1398.8 656.5,1398.1 659.0,1397.5 661.6,1397.1 664.1,1397.0 666.6,1397.3 669.2,1398.0 671.7,1398.9 674.2,1400.5 676.7,1402.5 679.3,1404.8 681.8,1407.7 684.3,1411.2 686.8,1415.0 689.4,1418.9 691.9,1422.8 694.4,1426.6 696.9,1430.5 699.5,1434.3 702.0,1438.2 704.5,1442.0 707.0,1445.9 709.6,1449.8 712.1,1453.6 714.6,1457.4 717.2,1461.1 719.7,1464.6 722.2,1467.7 724.7,1470.7 727.3,1473.5 729.8,1476.1 732.3,1478.3 734.8,1480.3 737.4,1482.0 739.9,1483.6 742.4,1485.0 744.9,1486.3 747.5,1487.4 750.0,1488.3 752.5,1489.2 755.1,1489.9 757.6,1490.5 760.1,1491.1 762.6,1491.6 765.2,1492.0 767.7,1492.5 770.2,1492.8 772.7,1493.2 775.3,1493.4 777.8,1493.7 780.3,1494.0 782.8,1494.2 785.4,1494.4 787.9,1494.5 790.4,1494.7 792.9,1494.8 795.5,1494.9 798.0,1495.1 800.5,1495.2 803.1,1495.3 815.7,1495.7 828.3,1496.0 841.0,1496.3 853.6,1496.5 866.2,1496.6 878.9,1496.7 891.5,1496.8 904.1,1496.8 916.7,1496.8 929.4,1496.8 942.0,1496.9 954.6,1496.9 967.3,1496.9 979.9,1496.9 992.5,1496.9 1005.2,1496.9 1017.8,1496.9 1030.4,1496.9 1043.1,1496.9 1055.7,1496.9 1068.3,1496.9 1081.0,1496.9 1093.6,1496.9 1106.2,1496.9 1118.9,1496.9 1131.5,1496.9"/>
<polyline stroke="#000000" points="120.9,1496.6 133.5,1496.6 146.2,1496.6 158.8,1496.6 171.4,1496.6 184.1,1496.6 196.7,1496.6 209.3,1496.6 222.0,1496.6 234.6,1496.6 247.2,1496.6 259.9,1496.6 272.5,1496.6 285.1,1496.5 297.8,1496.5 300.3,1496.5 302.8,1496.4 305.3,1496.3 307.9,1496.2 310.4,1496.1 312.9,1496.0 315.4,1495.9 318.0,1495.8 320.5,1495.7 323.0,1495.5 325.5,1495.4 328.1,1495.3 330.6,1495.1 333.1,1494.9 335.7,1494.8 338.2,1494.6 340.7,1494.4 343.2,1494.2 345.8,1494.0 348.3,1493.7 350.8,1493.5 353.3,1493.2 355.9,1492.9 358.4,1492.6 360.9,1492.3 363.4,1492.0 366.0,1491.7 368.5,1491.4 371.0,1491.1 373.6,1490.7 376.1,1490.4 378.6,1490.0 381.1,1489.7 383.7,1489.3 386.2,1488.9 388.7,1488.6 391.2,1488.2 393.8,1487.7 396.3,1487.3 398.8,1486.9 401.3,1486.4 403.9,1486.0 406.4,1485.6 408.9,1485.1 411.4,1484.7 414.0,1484.2 416.5,1483.7 419.0,1483.3 421.6,1482.8 424.1,1482.3 426.6,1481.8 429.1,1481.2 431.7,1480.6 434.2,1480.0 436.7,1479.4 439.2,1478.7 441.8,1478.0 444.3,1477.2 446.8,1476.4 449.3,1475.5 451.9,1474.6 454.4,1473.7 456.9,1472.7 459.5,1471.7 462.0,1470.7 464.5,1469.5 467.0,1468.4 469.6,1467.2 472.1,1466.0 474.6,1464.7 477.1,1463.4 479.7,1462.1 482.2,1460.8 484.7,1459.5 487.2,1458.2 489.8,1456.9 492.3,1455.6 494.8,1454.3 497.3,1453.0 499.9,1451.7 502.4,1450.5 504.9,1449.2 507.5,1448.0 510.0,1446.6 512.5,1445.4 515.0,1444.4 517.6,1443.5 520.1,1442.7 522.6,1442.0 525.1,1441.4 527.7,1441.0 530.2,1440.8 532.7,1440.6 535.2,1440.6 537.8,1440.6 540.3,1440.7 542.8,1440.9 545.4,1441.0 547.9,1441.3 550.4,1441.5 552.9,1441.8 555.5,1442.0 558.0,1442.1 560.5,1442.3 563.0,1442.3 565.6,1442.3 568.1,1442.3 570.6,1442.2 573.1,1442.0 575.7,1441.7 578.2,1441.4 580.7,1440.9 583.2,1440.1 585.8,1439.2 588.3,1438.3 590.8,1437.4 593.4,1436.5 595.9,1435.4 598.4,1434.2 600.9,1432.9 603.5,1431.5 606.0,1430.1 608.5,1428.5 611.0,1426.9 613.6,1425.3 616.1,1423.6 618.6,1422.0 621.1,1420.3 623.7,1418.7 626.2,1417.1 628.7,1415.5 631.3,1413.9 633.8,1412.4 636.3,1410.9 638.8,1409.4 641.4,1408.1 643.9,1406.8 646.4,1405.6 648.9,1404.4 651.5,1403.4 654.0,1402.5 656.5,1401.7 659.0,1401.2 661.6,1400.8 664.1,1400.7 666.6,1401.0 669.2,1401.6 671.7,1402.6 674.2,1404.1 676.7,1406.0 679.3,1408.2 681.8,1411.0 684.3,1414.4 686.8,1418.1 689.4,1421.8 691.9,1425.5 694.4,1429.2 696.9,1432.9 699.5,1436.6 702.0,1440.4 704.5,1444.1 707.0,1447.8 709.6,1451.5 712.1,1455.2 714.6,1458.9 717.2,1462.4 719.7,1465.8 722.2,1468.8 724.7,1471.7 727.3,1474.4 729.8,1476.8 732.3,1479.0 734.8,1480.9 737.4,1482.6 739.9,1484.1 742.4,1485.4 744.9,1486.6 747.5,1487.7 750.0,1488.6 752.5,1489.4 755.1,1490.1 757.6,1490.7 760.1,1491.3 762.6,1491.8 765.2,1492.2 767.7,1492.6 770.2,1493.0 772.7,1493.3 775.3,1493.6 777.8,1493.8 780.3,1494.1 782.8,1494.3 785.4,1494.5 787.9,1494.6 790.4,1494.8 792.9,1494.9 795.5,1495.0 798.0,1495.1 800.5,1495.2 803.1,1495.3 815.7,1495.8 828.3,1496.1 841.0,1496.3 853.6,1496.5 866.2,1496.6 878.9,1496.7 891.5,1496.8 904.1,1496.8 916.7,1496.8 929.4,1496.8 942.0,1496.9 954.6,1496.9 967.3,1496.9 979.9,1496.9 992.5,1496.9 1005.2,1496.9 1017.8,1496.9 1030.4,1496.9 1043.1,1496.9 1055.7,1496.9 1068.3,1496.9 1081.0,1496.9 1093.6,1496.9 1106.2,1496.9 1118.9,1496.9 1131.5,1496.9"/>
<polyline stroke="#F14040" points="120.9,1498.6 133.5,1498.6 146.2,1498.6 158.8,1498.6 171.4,1498.6 184.1,1498.6 196.7,1498.6 209.3,1498.6 222.0,1498.6 234.6,1498.6 247.2,1498.6 259.9,1498.6 272.5,1498.6 285.1,1498.5 297.8,1498.5 300.3,1498.5 302.8,1498.4 305.3,1498.3 307.9,1498.2 310.4,1498.1 312.9,1498.0 315.4,1497.9 318.0,1497.8 320.5,1497.7 323.0,1497.5 325.5,1497.4 328.1,1497.3 330.6,1497.1 333.1,1496.9 335.7,1496.8 338.2,1496.6 340.7,1496.4 343.2,1496.2 345.8,1496.0 348.3,1495.7 350.8,1495.5 353.3,1495.2 355.9,1495.0 358.4,1494.7 360.9,1494.4 363.4,1494.1 366.0,1493.7 368.5,1493.4 371.0,1493.1 373.6,1492.7 376.1,1492.4 378.6,1492.1 381.1,1491.7 383.7,1491.3 386.2,1491.0 388.7,1490.6 391.2,1490.2 393.8,1489.8 396.3,1489.3 398.8,1488.9 401.3,1488.5 403.9,1488.0 406.4,1487.6 408.9,1487.1 411.4,1486.7 414.0,1486.2 416.5,1485.8 419.0,1485.3 421.6,1484.8 424.1,1484.3 426.6,1483.8 429.1,1483.3 431.7,1482.7 434.2,1482.1 436.7,1481.5 439.2,1480.8 441.8,1480.0 444.3,1479.3 446.8,1478.4 449.3,1477.6 451.9,1476.7 454.4,1475.8 456.9,1474.8 459.5,1473.8 462.0,1472.7 464.5,1471.6 467.0,1470.5 469.6,1469.3 472.1,1468.1 474.6,1466.8 477.1,1465.5 479.7,1464.2 482.2,1462.9 484.7,1461.6 487.2,1460.3 489.8,1459.0 492.3,1457.7 494.8,1456.4 497.3,1455.1 499.9,1453.8 502.4,1452.6 504.9,1451.4 507.5,1450.1 510.0,1448.8 512.5,1447.6 515.0,1446.6 517.6,1445.7 520.1,1444.9 522.6,1444.2 525.1,1443.6 527.7,1443.2 530.2,1443.0 532.7,1442.8 535.2,1442.8 537.8,1442.8 540.3,1442.9 542.8,1443.0 545.4,1443.2 547.9,1443.4 550.4,1443.7 552.9,1443.9 555.5,1444.2 558.0,1444.3 560.5,1444.4 563.0,1444.5 565.6,1444.5 568.1,1444.4 570.6,1444.3 573.1,1444.1 575.7,1443.9 578.2,1443.6 580.7,1443.1 583.2,1442.3 585.8,1441.4 588.3,1440.5 590.8,1439.6 593.4,1438.7 595.9,1437.6 598.4,1436.4 600.9,1435.1 603.5,1433.7 606.0,1432.3 608.5,1430.8 611.0,1429.2 613.6,1427.5 616.1,1425.8 618.6,1424.2 621.1,1422.6 623.7,1420.9 626.2,1419.3 628.7,1417.7 631.3,1416.2 633.8,1414.6 636.3,1413.1 638.8,1411.7 641.4,1410.4 643.9,1409.1 646.4,1407.9 648.9,1406.7 651.5,1405.7 654.0,1404.8 656.5,1404.0 659.0,1403.4 661.6,1403.1 664.1,1403.0 666.6,1403.3 669.2,1403.9 671.7,1404.9 674.2,1406.4 676.7,1408.3 679.3,1410.5 681.8,1413.3 684.3,1416.7 686.8,1420.3 689.4,1424.0 691.9,1427.7 694.4,1431.4 696.9,1435.1 699.5,1438.8 702.0,1442.5 704.5,1446.2 707.0,1449.9 709.6,1453.6 712.1,1457.3 714.6,1461.0 717.2,1464.5 719.7,1467.9 722.2,1470.9 724.7,1473.7 727.3,1476.4 729.8,1478.9 732.3,1481.1 734.8,1483.0 737.4,1484.6 739.9,1486.1 742.4,1487.5 744.9,1488.7 747.5,1489.7 750.0,1490.7 752.5,1491.5 755.1,1492.2 757.6,1492.8 760.1,1493.3 762.6,1493.8 765.2,1494.2 767.7,1494.6 770.2,1495.0 772.7,1495.3 775.3,1495.6 777.8,1495.8 780.3,1496.1 782.8,1496.3 785.4,1496.5 787.9,1496.6 790.4,1496.8 792.9,1496.9 795.5,1497.0 798.0,1497.1 800.5,1497.2 803.1,1497.3 815.7,1497.8 828.3,1498.1 841.0,1498.3 853.6,1498.5 866.2,1498.6 878.9,1498.7 891.5,1498.8 904.1,1498.8 916.7,1498.8 929.4,1498.8 942.0,1498.9 954.6,1498.9 967.3,1498.9 979.9,1498.9 992.5,1498.9 1005.2,1498.9 1017.8,1498.9 1030.4,1498.9 1043.1,1498.9 1055.7,1498.9 1068.3,1498.9 1081.0,1498.9 1093.6,1498.9 1106.2,1498.9 1118.9,1498.9 1131.5,1498.9"/>
</g>
<g class="c" clip-path="url(#cr)">
<polyline stroke="#000000" points="1226.0,1502.9 1238.6,1502.9 1251.3,1502.9 1263.9,1502.9 1276.5,1502.9 1289.2,1502.9 1301.8,1502.9 1314.4,1502.9 1327.1,1502.9 1339.7,1502.9 1352.3,1502.9 1365.0,1502.9 1377.6,1502.8 1390.2,1502.8 1402.9,1502.6 1405.4,1502.4 1407.9,1501.9 1410.4,1501.3 1413.0,1500.6 1415.5,1499.8 1418.0,1498.9 1420.5,1498.1 1423.1,1497.3 1425.6,1496.4 1428.1,1495.4 1430.6,1494.4 1433.2,1493.3 1435.7,1492.2 1438.2,1491.0 1440.8,1489.7 1443.3,1488.4 1445.8,1487.0 1448.3,1485.5 1450.9,1483.9 1453.4,1482.2 1455.9,1480.4 1458.4,1478.4 1461.0,1476.4 1463.5,1474.3 1466.0,1472.1 1468.5,1469.8 1471.1,1467.5 1473.6,1465.1 1476.1,1462.6 1478.7,1460.1 1481.2,1457.6 1483.7,1455.1 1486.2,1452.5 1488.8,1449.9 1491.3,1447.2 1493.8,1444.3 1496.3,1441.3 1498.9,1438.3 1501.4,1435.2 1503.9,1432.0 1506.4,1428.8 1509.0,1425.5 1511.5,1422.3 1514.0,1419.0 1516.5,1415.8 1519.1,1412.5 1521.6,1409.1 1524.1,1405.6 1526.7,1402.0 1529.2,1398.3 1531.7,1394.5 1534.2,1390.5 1536.8,1386.3 1539.3,1381.9 1541.8,1377.2 1544.3,1372.2 1546.9,1366.8 1549.4,1361.1 1551.9,1355.0 1554.4,1348.7 1557.0,1342.2 1559.5,1335.5 1562.0,1328.5 1564.6,1321.0 1567.1,1313.2 1569.6,1305.1 1572.1,1296.7 1574.7,1288.0 1577.2,1278.9 1579.7,1269.5 1582.2,1259.9 1584.8,1250.3 1587.3,1240.8 1589.8,1231.4 1592.3,1222.0 1594.9,1212.5 1597.4,1203.0 1599.9,1193.3 1602.4,1183.7 1605.0,1174.3 1607.5,1165.3 1610.0,1156.3 1612.6,1147.0 1615.1,1137.4 1617.6,1128.5 1620.1,1120.9 1622.7,1114.4 1625.2,1108.4 1627.7,1103.2 1630.2,1099.1 1632.8,1096.3 1635.3,1094.4 1637.8,1093.4 1640.3,1093.0 1642.9,1093.2 1645.4,1093.9 1647.9,1095.0 1650.5,1096.4 1653.0,1098.0 1655.5,1099.8 1658.0,1101.6 1660.6,1103.2 1663.1,1104.4 1665.6,1105.3 1668.1,1105.9 1670.7,1105.9 1673.2,1105.4 1675.7,1104.5 1678.2,1103.2 1680.8,1101.4 1683.3,1098.9 1685.8,1095.1 1688.3,1089.6 1690.9,1083.0 1693.4,1076.3 1695.9,1069.7 1698.5,1062.8 1701.0,1055.0 1703.5,1046.4 1706.0,1036.9 1708.6,1026.8 1711.1,1016.1 1713.6,1004.9 1716.1,993.0 1718.7,980.9 1721.2,968.7 1723.7,956.6 1726.2,944.6 1728.8,932.7 1731.3,920.9 1733.8,909.2 1736.4,897.7 1738.9,886.4 1741.4,875.3 1743.9,864.9 1746.5,855.0 1749.0,845.8 1751.5,836.9 1754.0,828.3 1756.6,820.4 1759.1,813.9 1761.6,808.6 1764.1,804.2 1766.7,801.4 1769.2,801.1 1771.7,803.2 1774.3,807.6 1776.8,814.6 1779.3,825.6 1781.8,839.9 1784.4,856.1 1786.9,876.3 1789.4,901.2 1791.9,928.2 1794.5,955.4 1797.0,982.6 1799.5,1009.8 1802.0,1037.0 1804.6,1064.2 1807.1,1091.3 1809.6,1118.5 1812.1,1145.8 1814.7,1172.9 1817.2,1200.0 1819.7,1226.8 1822.3,1253.0 1824.8,1277.4 1827.3,1299.7 1829.8,1320.5 1832.4,1340.4 1834.9,1358.5 1837.4,1374.4 1839.9,1388.3 1842.5,1400.6 1845.0,1411.6 1847.5,1421.5 1850.0,1430.3 1852.6,1438.1 1855.1,1444.8 1857.6,1450.8 1860.2,1455.9 1862.7,1460.4 1865.2,1464.3 1867.7,1467.9 1870.3,1471.2 1872.8,1474.1 1875.3,1476.7 1877.8,1479.0 1880.4,1481.1 1882.9,1482.9 1885.4,1484.6 1887.9,1486.2 1890.5,1487.5 1893.0,1488.7 1895.5,1489.7 1898.0,1490.7 1900.6,1491.6 1903.1,1492.4 1905.6,1493.2 1908.2,1494.0 1920.8,1497.1 1933.4,1499.3 1946.1,1501.0 1958.7,1502.3 1971.3,1503.2 1984.0,1503.9 1996.6,1504.5 2009.2,1504.7 2021.8,1504.9 2034.5,1505.0 2047.1,1505.1 2059.7,1505.2 2072.4,1505.3 2085.0,1505.4 2097.6,1505.4 2110.3,1505.4 2122.9,1505.4 2135.5,1505.4 2148.2,1505.4 2160.8,1505.4 2173.4,1505.4 2186.1,1505.4 2198.7,1505.4 2211.3,1505.4 2224.0,1505.4 2236.6,1505.4"/>
<polyline stroke="#F14040" points="1226.0,1505.0 1238.6,1505.0 1251.3,1505.0 1263.9,1505.0 1276.5,1505.0 1289.2,1505.0 1301.8,1505.0 1314.4,1505.0 1327.1,1505.0 1339.7,1505.0 1352.3,1505.0 1365.0,1505.0 1377.6,1505.0 1390.2,1505.0 1402.9,1504.9 1405.4,1504.6 1407.9,1504.3 1410.4,1503.7 1413.0,1503.1 1415.5,1502.4 1418.0,1501.7 1420.5,1501.1 1423.1,1500.3 1425.6,1499.6 1428.1,1498.8 1430.6,1497.9 1433.2,1497.0 1435.7,1496.0 1438.2,1495.0 1440.8,1493.9 1443.3,1492.8 1445.8,1491.6 1448.3,1490.3 1450.9,1489.0 1453.4,1487.5 1455.9,1486.0 1458.4,1484.4 1461.0,1482.6 1463.5,1480.8 1466.0,1479.0 1468.5,1477.1 1471.1,1475.1 1473.6,1473.0 1476.1,1471.0 1478.7,1468.9 1481.2,1466.8 1483.7,1464.6 1486.2,1462.4 1488.8,1460.2 1491.3,1457.9 1493.8,1455.5 1496.3,1453.0 1498.9,1450.4 1501.4,1447.8 1503.9,1445.1 1506.4,1442.3 1509.0,1439.6 1511.5,1436.8 1514.0,1434.1 1516.5,1431.3 1519.1,1428.5 1521.6,1425.6 1524.1,1422.7 1526.7,1419.7 1529.2,1416.6 1531.7,1413.3 1534.2,1409.9 1536.8,1406.4 1539.3,1402.7 1541.8,1398.7 1544.3,1394.4 1546.9,1389.8 1549.4,1385.0 1551.9,1379.9 1554.4,1374.6 1557.0,1369.1 1559.5,1363.4 1562.0,1357.4 1564.6,1351.1 1567.1,1344.5 1569.6,1337.6 1572.1,1330.5 1574.7,1323.1 1577.2,1315.4 1579.7,1307.4 1582.2,1299.3 1584.8,1291.2 1587.3,1283.2 1589.8,1275.2 1592.3,1267.2 1594.9,1259.2 1597.4,1251.2 1599.9,1243.0 1602.4,1234.8 1605.0,1226.9 1607.5,1219.2 1610.0,1211.7 1612.6,1203.7 1615.1,1195.6 1617.6,1188.1 1620.1,1181.7 1622.7,1176.1 1625.2,1171.1 1627.7,1166.7 1630.2,1163.2 1632.8,1160.8 1635.3,1159.2 1637.8,1158.4 1640.3,1158.0 1642.9,1158.2 1645.4,1158.8 1647.9,1159.7 1650.5,1160.9 1653.0,1162.3 1655.5,1163.8 1658.0,1165.3 1660.6,1166.7 1663.1,1167.7 1665.6,1168.5 1668.1,1168.9 1670.7,1168.9 1673.2,1168.5 1675.7,1167.7 1678.2,1166.7 1680.8,1165.1 1683.3,1163.0 1685.8,1159.8 1688.3,1155.2 1690.9,1149.5 1693.4,1143.9 1695.9,1138.3 1698.5,1132.5 1701.0,1125.9 1703.5,1118.5 1706.0,1110.5 1708.6,1101.9 1711.1,1092.9 1713.6,1083.4 1716.1,1073.4 1718.7,1063.1 1721.2,1052.8 1723.7,1042.6 1726.2,1032.4 1728.8,1022.3 1731.3,1012.3 1733.8,1002.4 1736.4,992.7 1738.9,983.1 1741.4,973.7 1743.9,964.8 1746.5,956.5 1749.0,948.7 1751.5,941.2 1754.0,933.9 1756.6,927.2 1759.1,921.7 1761.6,917.2 1764.1,913.5 1766.7,911.2 1769.2,910.8 1771.7,912.7 1774.3,916.4 1776.8,922.3 1779.3,931.6 1781.8,943.7 1784.4,957.4 1786.9,974.5 1789.4,995.7 1791.9,1018.5 1794.5,1041.5 1797.0,1064.6 1799.5,1087.6 1802.0,1110.6 1804.6,1133.6 1807.1,1156.6 1809.6,1179.6 1812.1,1202.7 1814.7,1225.7 1817.2,1248.6 1819.7,1271.3 1822.3,1293.5 1824.8,1314.2 1827.3,1333.0 1829.8,1350.6 1832.4,1367.5 1834.9,1382.8 1837.4,1396.3 1839.9,1408.0 1842.5,1418.5 1845.0,1427.7 1847.5,1436.1 1850.0,1443.6 1852.6,1450.2 1855.1,1455.9 1857.6,1460.9 1860.2,1465.3 1862.7,1469.1 1865.2,1472.4 1867.7,1475.4 1870.3,1478.2 1872.8,1480.7 1875.3,1482.9 1877.8,1484.9 1880.4,1486.6 1882.9,1488.2 1885.4,1489.6 1887.9,1490.9 1890.5,1492.1 1893.0,1493.1 1895.5,1493.9 1898.0,1494.7 1900.6,1495.5 1903.1,1496.2 1905.6,1496.9 1908.2,1497.5 1920.8,1500.2 1933.4,1502.1 1946.1,1503.5 1958.7,1504.6 1971.3,1505.3 1984.0,1506.0 1996.6,1506.4 2009.2,1506.6 2021.8,1506.8 2034.5,1506.9 2047.1,1507.0 2059.7,1507.1 2072.4,1507.1 2085.0,1507.2 2097.6,1507.2 2110.3,1507.2 2122.9,1507.2 2135.5,1507.2 2148.2,1507.2 2160.8,1507.2 2173.4,1507.2 2186.1,1507.2 2198.7,1507.2 2211.3,1507.2 2224.0,1507.2 2236.6,1507.2"/>
<polyline stroke="#1A6FDF" points="1226.0,1505.7 1238.6,1505.7 1251.3,1505.7 1263.9,1505.7 1276.5,1505.7 1289.2,1505.7 1301.8,1505.7 1314.4,1505.7 1327.1,1505.7 1339.7,1505.7 1352.3,1505.7 1365.0,1505.7 1377.6,1505.7 1390.2,1505.7 1402.9,1505.7 1405.4,1505.6 1407.9,1505.5 1410.4,1505.4 1413.0,1505.3 1415.5,1505.1 1418.0,1504.9 1420.5,1504.8 1423.1,1504.6 1425.6,1504.4 1428.1,1504.3 1430.6,1504.1 1433.2,1503.8 1435.7,1503.6 1438.2,1503.4 1440.8,1503.1 1443.3,1502.9 1445.8,1502.6 1448.3,1502.3 1450.9,1502.0 1453.4,1501.7 1455.9,1501.3 1458.4,1500.9 1461.0,1500.5 1463.5,1500.1 1466.0,1499.7 1468.5,1499.3 1471.1,1498.8 1473.6,1498.3 1476.1,1497.9 1478.7,1497.4 1481.2,1496.9 1483.7,1496.4 1486.2,1495.9 1488.8,1495.4 1491.3,1494.8 1493.8,1494.3 1496.3,1493.7 1498.9,1493.1 1501.4,1492.5 1503.9,1491.9 1506.4,1491.3 1509.0,1490.6 1511.5,1490.0 1514.0,1489.4 1516.5,1488.7 1519.1,1488.1 1521.6,1487.4 1524.1,1486.7 1526.7,1486.0 1529.2,1485.3 1531.7,1484.6 1534.2,1483.8 1536.8,1483.0 1539.3,1482.1 1541.8,1481.2 1544.3,1480.2 1546.9,1479.2 1549.4,1478.0 1551.9,1476.9 1554.4,1475.6 1557.0,1474.4 1559.5,1473.1 1562.0,1471.7 1564.6,1470.2 1567.1,1468.7 1569.6,1467.1 1572.1,1465.5 1574.7,1463.8 1577.2,1462.0 1579.7,1460.2 1582.2,1458.3 1584.8,1456.4 1587.3,1454.6 1589.8,1452.8 1592.3,1450.9 1594.9,1449.1 1597.4,1447.2 1599.9,1445.3 1602.4,1443.5 1605.0,1441.6 1607.5,1439.9 1610.0,1438.1 1612.6,1436.3 1615.1,1434.4 1617.6,1432.7 1620.1,1431.2 1622.7,1429.9 1625.2,1428.8 1627.7,1427.8 1630.2,1427.0 1632.8,1426.4 1635.3,1426.0 1637.8,1425.8 1640.3,1425.8 1642.9,1425.8 1645.4,1425.9 1647.9,1426.2 1650.5,1426.4 1653.0,1426.8 1655.5,1427.1 1658.0,1427.5 1660.6,1427.8 1663.1,1428.0 1665.6,1428.2 1668.1,1428.3 1670.7,1428.3 1673.2,1428.2 1675.7,1428.0 1678.2,1427.8 1680.8,1427.4 1683.3,1426.9 1685.8,1426.2 1688.3,1425.1 1690.9,1423.8 1693.4,1422.5 1695.9,1421.2 1698.5,1419.9 1701.0,1418.4 1703.5,1416.7 1706.0,1414.8 1708.6,1412.8 1711.1,1410.8 1713.6,1408.6 1716.1,1406.3 1718.7,1403.9 1721.2,1401.5 1723.7,1399.2 1726.2,1396.8 1728.8,1394.5 1731.3,1392.2 1733.8,1389.9 1736.4,1387.7 1738.9,1385.5 1741.4,1383.3 1743.9,1381.3 1746.5,1379.4 1749.0,1377.5 1751.5,1375.8 1754.0,1374.1 1756.6,1372.6 1759.1,1371.3 1761.6,1370.3 1764.1,1369.4 1766.7,1368.9 1769.2,1368.8 1771.7,1369.3 1774.3,1370.1 1776.8,1371.5 1779.3,1373.6 1781.8,1376.4 1784.4,1379.6 1786.9,1383.5 1789.4,1388.4 1791.9,1393.6 1794.5,1398.9 1797.0,1404.2 1799.5,1409.5 1802.0,1414.8 1804.6,1420.1 1807.1,1425.4 1809.6,1430.7 1812.1,1436.1 1814.7,1441.4 1817.2,1446.6 1819.7,1451.9 1822.3,1457.0 1824.8,1461.7 1827.3,1466.1 1829.8,1470.1 1832.4,1474.0 1834.9,1477.6 1837.4,1480.6 1839.9,1483.4 1842.5,1485.8 1845.0,1487.9 1847.5,1489.8 1850.0,1491.6 1852.6,1493.1 1855.1,1494.4 1857.6,1495.5 1860.2,1496.5 1862.7,1497.4 1865.2,1498.2 1867.7,1498.9 1870.3,1499.5 1872.8,1500.1 1875.3,1500.6 1877.8,1501.1 1880.4,1501.5 1882.9,1501.8 1885.4,1502.2 1887.9,1502.5 1890.5,1502.7 1893.0,1502.9 1895.5,1503.1 1898.0,1503.3 1900.6,1503.5 1903.1,1503.7 1905.6,1503.8 1908.2,1504.0 1920.8,1504.6 1933.4,1505.0 1946.1,1505.3 1958.7,1505.6 1971.3,1505.8 1984.0,1505.9 1996.6,1506.0 2009.2,1506.1 2021.8,1506.1 2034.5,1506.1 2047.1,1506.1 2059.7,1506.2 2072.4,1506.2 2085.0,1506.2 2097.6,1506.2 2110.3,1506.2 2122.9,1506.2 2135.5,1506.2 2148.2,1506.2 2160.8,1506.2 2173.4,1506.2 2186.1,1506.2 2198.7,1506.2 2211.3,1506.2 2224.0,1506.2 2236.6,1506.2"/>
<polyline stroke="#37AD6B" points="1226.0,1505.8 1238.6,1505.8 1251.3,1505.8 1263.9,1505.8 1276.5,1505.8 1289.2,1505.8 1301.8,1505.8 1314.4,1505.8 1327.1,1505.8 1339.7,1505.8 1352.3,1505.8 1365.0,1505.8 1377.6,1505.8 1390.2,1505.8 1402.9,1505.7 1405.4,1505.7 1407.9,1505.6 1410.4,1505.5 1413.0,1505.4 1415.5,1505.2 1418.0,1505.1 1420.5,1505.0 1423.1,1504.8 1425.6,1504.7 1428.1,1504.5 1430.6,1504.3 1433.2,1504.1 1435.7,1503.9 1438.2,1503.7 1440.8,1503.5 1443.3,1503.3 1445.8,1503.1 1448.3,1502.8 1450.9,1502.5 1453.4,1502.2 1455.9,1501.9 1458.4,1501.6 1461.0,1501.2 1463.5,1500.9 1466.0,1500.5 1468.5,1500.1 1471.1,1499.7 1473.6,1499.3 1476.1,1498.9 1478.7,1498.5 1481.2,1498.1 1483.7,1497.6 1486.2,1497.2 1488.8,1496.7 1491.3,1496.3 1493.8,1495.8 1496.3,1495.3 1498.9,1494.8 1501.4,1494.2 1503.9,1493.7 1506.4,1493.1 1509.0,1492.6 1511.5,1492.0 1514.0,1491.5 1516.5,1490.9 1519.1,1490.3 1521.6,1489.8 1524.1,1489.2 1526.7,1488.6 1529.2,1487.9 1531.7,1487.3 1534.2,1486.6 1536.8,1485.9 1539.3,1485.1 1541.8,1484.3 1544.3,1483.5 1546.9,1482.6 1549.4,1481.6 1551.9,1480.5 1554.4,1479.5 1557.0,1478.4 1559.5,1477.2 1562.0,1476.0 1564.6,1474.7 1567.1,1473.4 1569.6,1472.0 1572.1,1470.6 1574.7,1469.1 1577.2,1467.6 1579.7,1465.9 1582.2,1464.3 1584.8,1462.7 1587.3,1461.1 1589.8,1459.4 1592.3,1457.8 1594.9,1456.2 1597.4,1454.6 1599.9,1453.0 1602.4,1451.3 1605.0,1449.7 1607.5,1448.2 1610.0,1446.6 1612.6,1445.0 1615.1,1443.4 1617.6,1441.9 1620.1,1440.6 1622.7,1439.5 1625.2,1438.5 1627.7,1437.6 1630.2,1436.9 1632.8,1436.4 1635.3,1436.1 1637.8,1435.9 1640.3,1435.8 1642.9,1435.9 1645.4,1436.0 1647.9,1436.2 1650.5,1436.4 1653.0,1436.7 1655.5,1437.0 1658.0,1437.3 1660.6,1437.6 1663.1,1437.8 1665.6,1437.9 1668.1,1438.0 1670.7,1438.0 1673.2,1438.0 1675.7,1437.8 1678.2,1437.6 1680.8,1437.3 1683.3,1436.8 1685.8,1436.2 1688.3,1435.3 1690.9,1434.1 1693.4,1433.0 1695.9,1431.9 1698.5,1430.7 1701.0,1429.4 1703.5,1427.9 1706.0,1426.3 1708.6,1424.5 1711.1,1422.7 1713.6,1420.8 1716.1,1418.8 1718.7,1416.7 1721.2,1414.6 1723.7,1412.6 1726.2,1410.5 1728.8,1408.5 1731.3,1406.5 1733.8,1404.5 1736.4,1402.5 1738.9,1400.6 1741.4,1398.7 1743.9,1396.9 1746.5,1395.2 1749.0,1393.7 1751.5,1392.1 1754.0,1390.7 1756.6,1389.3 1759.1,1388.2 1761.6,1387.3 1764.1,1386.6 1766.7,1386.1 1769.2,1386.0 1771.7,1386.4 1774.3,1387.1 1776.8,1388.3 1779.3,1390.2 1781.8,1392.7 1784.4,1395.4 1786.9,1398.9 1789.4,1403.1 1791.9,1407.7 1794.5,1412.4 1797.0,1417.0 1799.5,1421.6 1802.0,1426.3 1804.6,1430.9 1807.1,1435.6 1809.6,1440.2 1812.1,1444.8 1814.7,1449.5 1817.2,1454.1 1819.7,1458.7 1822.3,1463.1 1824.8,1467.3 1827.3,1471.1 1829.8,1474.7 1832.4,1478.0 1834.9,1481.1 1837.4,1483.8 1839.9,1486.2 1842.5,1488.3 1845.0,1490.2 1847.5,1491.9 1850.0,1493.4 1852.6,1494.7 1855.1,1495.9 1857.6,1496.9 1860.2,1497.8 1862.7,1498.5 1865.2,1499.2 1867.7,1499.8 1870.3,1500.4 1872.8,1500.9 1875.3,1501.3 1877.8,1501.7 1880.4,1502.0 1882.9,1502.4 1885.4,1502.7 1887.9,1502.9 1890.5,1503.2 1893.0,1503.4 1895.5,1503.5 1898.0,1503.7 1900.6,1503.8 1903.1,1504.0 1905.6,1504.1 1908.2,1504.2 1920.8,1504.8 1933.4,1505.2 1946.1,1505.5 1958.7,1505.7 1971.3,1505.8 1984.0,1506.0 1996.6,1506.0 2009.2,1506.1 2021.8,1506.1 2034.5,1506.1 2047.1,1506.2 2059.7,1506.2 2072.4,1506.2 2085.0,1506.2 2097.6,1506.2 2110.3,1506.2 2122.9,1506.2 2135.5,1506.2 2148.2,1506.2 2160.8,1506.2 2173.4,1506.2 2186.1,1506.2 2198.7,1506.2 2211.3,1506.2 2224.0,1506.2 2236.6,1506.2"/>
<polyline stroke="#B177DE" points="1226.0,1505.8 1238.6,1505.8 1251.3,1505.8 1263.9,1505.8 1276.5,1505.8 1289.2,1505.8 1301.8,1505.8 1314.4,1505.8 1327.1,1505.8 1339.7,1505.8 1352.3,1505.8 1365.0,1505.8 1377.6,1505.8 1390.2,1505.8 1402.9,1505.7 1405.4,1505.7 1407.9,1505.6 1410.4,1505.5 1413.0,1505.4 1415.5,1505.3 1418.0,1505.1 1420.5,1505.0 1423.1,1504.9 1425.6,1504.7 1428.1,1504.6 1430.6,1504.4 1433.2,1504.2 1435.7,1504.0 1438.2,1503.8 1440.8,1503.6 1443.3,1503.4 1445.8,1503.2 1448.3,1502.9 1450.9,1502.7 1453.4,1502.4 1455.9,1502.1 1458.4,1501.8 1461.0,1501.5 1463.5,1501.1 1466.0,1500.7 1468.5,1500.4 1471.1,1500.0 1473.6,1499.6 1476.1,1499.2 1478.7,1498.8 1481.2,1498.4 1483.7,1498.0 1486.2,1497.6 1488.8,1497.1 1491.3,1496.7 1493.8,1496.2 1496.3,1495.7 1498.9,1495.2 1501.4,1494.7 1503.9,1494.2 1506.4,1493.7 1509.0,1493.1 1511.5,1492.6 1514.0,1492.1 1516.5,1491.5 1519.1,1491.0 1521.6,1490.4 1524.1,1489.9 1526.7,1489.3 1529.2,1488.7 1531.7,1488.1 1534.2,1487.4 1536.8,1486.7 1539.3,1486.0 1541.8,1485.2 1544.3,1484.4 1546.9,1483.5 1549.4,1482.6 1551.9,1481.6 1554.4,1480.6 1557.0,1479.5 1559.5,1478.4 1562.0,1477.3 1564.6,1476.1 1567.1,1474.8 1569.6,1473.4 1572.1,1472.1 1574.7,1470.7 1577.2,1469.2 1579.7,1467.6 1582.2,1466.0 1584.8,1464.5 1587.3,1462.9 1589.8,1461.4 1592.3,1459.9 1594.9,1458.3 1597.4,1456.8 1599.9,1455.2 1602.4,1453.6 1605.0,1452.1 1607.5,1450.6 1610.0,1449.1 1612.6,1447.6 1615.1,1446.0 1617.6,1444.6 1620.1,1443.3 1622.7,1442.3 1625.2,1441.3 1627.7,1440.4 1630.2,1439.8 1632.8,1439.3 1635.3,1439.0 1637.8,1438.8 1640.3,1438.8 1642.9,1438.8 1645.4,1438.9 1647.9,1439.1 1650.5,1439.3 1653.0,1439.6 1655.5,1439.9 1658.0,1440.2 1660.6,1440.4 1663.1,1440.6 1665.6,1440.8 1668.1,1440.9 1670.7,1440.9 1673.2,1440.8 1675.7,1440.6 1678.2,1440.4 1680.8,1440.1 1683.3,1439.7 1685.8,1439.1 1688.3,1438.2 1690.9,1437.1 1693.4,1436.0 1695.9,1435.0 1698.5,1433.8 1701.0,1432.6 1703.5,1431.1 1706.0,1429.6 1708.6,1427.9 1711.1,1426.2 1713.6,1424.4 1716.1,1422.4 1718.7,1420.4 1721.2,1418.4 1723.7,1416.5 1726.2,1414.5 1728.8,1412.5 1731.3,1410.6 1733.8,1408.7 1736.4,1406.8 1738.9,1405.0 1741.4,1403.2 1743.9,1401.5 1746.5,1399.9 1749.0,1398.3 1751.5,1396.9 1754.0,1395.5 1756.6,1394.2 1759.1,1393.1 1761.6,1392.3 1764.1,1391.5 1766.7,1391.1 1769.2,1391.0 1771.7,1391.4 1774.3,1392.1 1776.8,1393.2 1779.3,1395.0 1781.8,1397.4 1784.4,1400.0 1786.9,1403.3 1789.4,1407.4 1791.9,1411.8 1794.5,1416.3 1797.0,1420.7 1799.5,1425.2 1802.0,1429.6 1804.6,1434.0 1807.1,1438.5 1809.6,1442.9 1812.1,1447.4 1814.7,1451.8 1817.2,1456.3 1819.7,1460.6 1822.3,1464.9 1824.8,1468.9 1827.3,1472.6 1829.8,1476.0 1832.4,1479.2 1834.9,1482.2 1837.4,1484.8 1839.9,1487.1 1842.5,1489.1 1845.0,1490.9 1847.5,1492.5 1850.0,1493.9 1852.6,1495.2 1855.1,1496.3 1857.6,1497.3 1860.2,1498.1 1862.7,1498.8 1865.2,1499.5 1867.7,1500.1 1870.3,1500.6 1872.8,1501.1 1875.3,1501.5 1877.8,1501.9 1880.4,1502.2 1882.9,1502.5 1885.4,1502.8 1887.9,1503.1 1890.5,1503.3 1893.0,1503.5 1895.5,1503.6 1898.0,1503.8 1900.6,1503.9 1903.1,1504.1 1905.6,1504.2 1908.2,1504.3 1920.8,1504.8 1933.4,1505.2 1946.1,1505.5 1958.7,1505.7 1971.3,1505.8 1984.0,1506.0 1996.6,1506.1 2009.2,1506.1 2021.8,1506.1 2034.5,1506.1 2047.1,1506.2 2059.7,1506.2 2072.4,1506.2 2085.0,1506.2 2097.6,1506.2 2110.3,1506.2 2122.9,1506.2 2135.5,1506.2 2148.2,1506.2 2160.8,1506.2 2173.4,1506.2 2186.1,1506.2 2198.7,1506.2 2211.3,1506.2 2224.0,1506.2 2236.6,1506.2"/>
<polyline stroke="#CC9900" points="1226.0,1505.8 1238.6,1505.8 1251.3,1505.8 1263.9,1505.8 1276.5,1505.8 1289.2,1505.8 1301.8,1505.8 1314.4,1505.8 1327.1,1505.8 1339.7,1505.8 1352.3,1505.8 1365.0,1505.8 1377.6,1505.8 1390.2,1505.8 1402.9,1505.8 1405.4,1505.7 1407.9,1505.7 1410.4,1505.6 1413.0,1505.4 1415.5,1505.3 1418.0,1505.2 1420.5,1505.1 1423.1,1504.9 1425.6,1504.8 1428.1,1504.6 1430.6,1504.5 1433.2,1504.3 1435.7,1504.1 1438.2,1503.9 1440.8,1503.8 1443.3,1503.5 1445.8,1503.3 1448.3,1503.1 1450.9,1502.8 1453.4,1502.6 1455.9,1502.3 1458.4,1502.0 1461.0,1501.7 1463.5,1501.3 1466.0,1501.0 1468.5,1500.7 1471.1,1500.3 1473.6,1499.9 1476.1,1499.5 1478.7,1499.1 1481.2,1498.8 1483.7,1498.4 1486.2,1498.0 1488.8,1497.6 1491.3,1497.1 1493.8,1496.7 1496.3,1496.2 1498.9,1495.7 1501.4,1495.3 1503.9,1494.8 1506.4,1494.3 1509.0,1493.8 1511.5,1493.2 1514.0,1492.7 1516.5,1492.2 1519.1,1491.7 1521.6,1491.2 1524.1,1490.6 1526.7,1490.1 1529.2,1489.5 1531.7,1488.9 1534.2,1488.3 1536.8,1487.6 1539.3,1487.0 1541.8,1486.2 1544.3,1485.4 1546.9,1484.6 1549.4,1483.7 1551.9,1482.8 1554.4,1481.8 1557.0,1480.8 1559.5,1479.7 1562.0,1478.6 1564.6,1477.5 1567.1,1476.2 1569.6,1475.0 1572.1,1473.7 1574.7,1472.3 1577.2,1470.9 1579.7,1469.4 1582.2,1467.9 1584.8,1466.4 1587.3,1465.0 1589.8,1463.5 1592.3,1462.0 1594.9,1460.6 1597.4,1459.1 1599.9,1457.6 1602.4,1456.1 1605.0,1454.6 1607.5,1453.2 1610.0,1451.8 1612.6,1450.3 1615.1,1448.8 1617.6,1447.5 1620.1,1446.3 1622.7,1445.3 1625.2,1444.3 1627.7,1443.5 1630.2,1442.9 1632.8,1442.4 1635.3,1442.1 1637.8,1442.0 1640.3,1441.9 1642.9,1441.9 1645.4,1442.1 1647.9,1442.2 1650.5,1442.4 1653.0,1442.7 1655.5,1443.0 1658.0,1443.3 1660.6,1443.5 1663.1,1443.7 1665.6,1443.8 1668.1,1443.9 1670.7,1443.9 1673.2,1443.9 1675.7,1443.7 1678.2,1443.5 1680.8,1443.2 1683.3,1442.8 1685.8,1442.3 1688.3,1441.4 1690.9,1440.4 1693.4,1439.3 1695.9,1438.3 1698.5,1437.2 1701.0,1436.0 1703.5,1434.7 1706.0,1433.2 1708.6,1431.6 1711.1,1429.9 1713.6,1428.2 1716.1,1426.3 1718.7,1424.4 1721.2,1422.6 1723.7,1420.7 1726.2,1418.8 1728.8,1416.9 1731.3,1415.1 1733.8,1413.3 1736.4,1411.5 1738.9,1409.7 1741.4,1408.0 1743.9,1406.4 1746.5,1404.8 1749.0,1403.4 1751.5,1402.0 1754.0,1400.7 1756.6,1399.4 1759.1,1398.4 1761.6,1397.6 1764.1,1396.9 1766.7,1396.5 1769.2,1396.4 1771.7,1396.8 1774.3,1397.4 1776.8,1398.5 1779.3,1400.2 1781.8,1402.5 1784.4,1405.0 1786.9,1408.1 1789.4,1412.0 1791.9,1416.2 1794.5,1420.5 1797.0,1424.7 1799.5,1429.0 1802.0,1433.2 1804.6,1437.4 1807.1,1441.7 1809.6,1445.9 1812.1,1450.1 1814.7,1454.4 1817.2,1458.6 1819.7,1462.8 1822.3,1466.9 1824.8,1470.7 1827.3,1474.1 1829.8,1477.4 1832.4,1480.5 1834.9,1483.3 1837.4,1485.8 1839.9,1487.9 1842.5,1489.9 1845.0,1491.6 1847.5,1493.1 1850.0,1494.5 1852.6,1495.7 1855.1,1496.8 1857.6,1497.7 1860.2,1498.5 1862.7,1499.2 1865.2,1499.8 1867.7,1500.4 1870.3,1500.9 1872.8,1501.3 1875.3,1501.7 1877.8,1502.1 1880.4,1502.4 1882.9,1502.7 1885.4,1503.0 1887.9,1503.2 1890.5,1503.4 1893.0,1503.6 1895.5,1503.8 1898.0,1503.9 1900.6,1504.0 1903.1,1504.2 1905.6,1504.3 1908.2,1504.4 1920.8,1504.9 1933.4,1505.3 1946.1,1505.5 1958.7,1505.7 1971.3,1505.9 1984.0,1506.0 1996.6,1506.1 2009.2,1506.1 2021.8,1506.1 2034.5,1506.1 2047.1,1506.2 2059.7,1506.2 2072.4,1506.2 2085.0,1506.2 2097.6,1506.2 2110.3,1506.2 2122.9,1506.2 2135.5,1506.2 2148.2,1506.2 2160.8,1506.2 2173.4,1506.2 2186.1,1506.2 2198.7,1506.2 2211.3,1506.2 2224.0,1506.2 2236.6,1506.2"/>
<polyline stroke="#00CBCC" points="1226.0,1505.8 1238.6,1505.8 1251.3,1505.8 1263.9,1505.8 1276.5,1505.8 1289.2,1505.8 1301.8,1505.8 1314.4,1505.8 1327.1,1505.8 1339.7,1505.8 1352.3,1505.8 1365.0,1505.8 1377.6,1505.8 1390.2,1505.8 1402.9,1505.8 1405.4,1505.8 1407.9,1505.7 1410.4,1505.6 1413.0,1505.5 1415.5,1505.4 1418.0,1505.3 1420.5,1505.2 1423.1,1505.0 1425.6,1504.9 1428.1,1504.8 1430.6,1504.6 1433.2,1504.5 1435.7,1504.3 1438.2,1504.1 1440.8,1504.0 1443.3,1503.8 1445.8,1503.6 1448.3,1503.4 1450.9,1503.1 1453.4,1502.9 1455.9,1502.6 1458.4,1502.4 1461.0,1502.1 1463.5,1501.8 1466.0,1501.4 1468.5,1501.1 1471.1,1500.8 1473.6,1500.5 1476.1,1500.1 1478.7,1499.8 1481.2,1499.4 1483.7,1499.0 1486.2,1498.7 1488.8,1498.3 1491.3,1497.9 1493.8,1497.5 1496.3,1497.1 1498.9,1496.6 1501.4,1496.2 1503.9,1495.7 1506.4,1495.3 1509.0,1494.8 1511.5,1494.4 1514.0,1493.9 1516.5,1493.4 1519.1,1493.0 1521.6,1492.5 1524.1,1492.0 1526.7,1491.5 1529.2,1490.9 1531.7,1490.4 1534.2,1489.8 1536.8,1489.2 1539.3,1488.6 1541.8,1487.9 1544.3,1487.2 1546.9,1486.4 1549.4,1485.6 1551.9,1484.8 1554.4,1483.9 1557.0,1482.9 1559.5,1482.0 1562.0,1481.0 1564.6,1479.9 1567.1,1478.8 1569.6,1477.7 1572.1,1476.5 1574.7,1475.2 1577.2,1473.9 1579.7,1472.6 1582.2,1471.2 1584.8,1469.8 1587.3,1468.5 1589.8,1467.2 1592.3,1465.8 1594.9,1464.5 1597.4,1463.1 1599.9,1461.7 1602.4,1460.3 1605.0,1459.0 1607.5,1457.7 1610.0,1456.5 1612.6,1455.1 1615.1,1453.8 1617.6,1452.5 1620.1,1451.4 1622.7,1450.5 1625.2,1449.6 1627.7,1448.9 1630.2,1448.3 1632.8,1447.9 1635.3,1447.6 1637.8,1447.5 1640.3,1447.4 1642.9,1447.5 1645.4,1447.6 1647.9,1447.7 1650.5,1447.9 1653.0,1448.1 1655.5,1448.4 1658.0,1448.7 1660.6,1448.9 1663.1,1449.1 1665.6,1449.2 1668.1,1449.3 1670.7,1449.3 1673.2,1449.2 1675.7,1449.1 1678.2,1448.9 1680.8,1448.6 1683.3,1448.3 1685.8,1447.7 1688.3,1446.9 1690.9,1446.0 1693.4,1445.0 1695.9,1444.1 1698.5,1443.1 1701.0,1442.0 1703.5,1440.8 1706.0,1439.4 1708.6,1438.0 1711.1,1436.5 1713.6,1434.9 1716.1,1433.2 1718.7,1431.4 1721.2,1429.7 1723.7,1428.0 1726.2,1426.3 1728.8,1424.6 1731.3,1422.9 1733.8,1421.2 1736.4,1419.6 1738.9,1418.0 1741.4,1416.4 1743.9,1414.9 1746.5,1413.5 1749.0,1412.2 1751.5,1410.9 1754.0,1409.7 1756.6,1408.6 1759.1,1407.7 1761.6,1406.9 1764.1,1406.3 1766.7,1405.9 1769.2,1405.8 1771.7,1406.1 1774.3,1406.8 1776.8,1407.7 1779.3,1409.3 1781.8,1411.4 1784.4,1413.7 1786.9,1416.5 1789.4,1420.1 1791.9,1423.9 1794.5,1427.8 1797.0,1431.7 1799.5,1435.6 1802.0,1439.4 1804.6,1443.3 1807.1,1447.2 1809.6,1451.1 1812.1,1454.9 1814.7,1458.8 1817.2,1462.7 1819.7,1466.5 1822.3,1470.2 1824.8,1473.7 1827.3,1476.9 1829.8,1479.8 1832.4,1482.7 1834.9,1485.3 1837.4,1487.5 1839.9,1489.5 1842.5,1491.3 1845.0,1492.8 1847.5,1494.2 1850.0,1495.5 1852.6,1496.6 1855.1,1497.6 1857.6,1498.4 1860.2,1499.1 1862.7,1499.8 1865.2,1500.3 1867.7,1500.9 1870.3,1501.3 1872.8,1501.7 1875.3,1502.1 1877.8,1502.4 1880.4,1502.7 1882.9,1503.0 1885.4,1503.2 1887.9,1503.5 1890.5,1503.7 1893.0,1503.8 1895.5,1504.0 1898.0,1504.1 1900.6,1504.2 1903.1,1504.4 1905.6,1504.5 1908.2,1504.6 1920.8,1505.0 1933.4,1505.3 1946.1,1505.6 1958.7,1505.8 1971.3,1505.9 1984.0,1506.0 1996.6,1506.1 2009.2,1506.1 2021.8,1506.1 2034.5,1506.1 2047.1,1506.2 2059.7,1506.2 2072.4,1506.2 2085.0,1506.2 2097.6,1506.2 2110.3,1506.2 2122.9,1506.2 2135.5,1506.2 2148.2,1506.2 2160.8,1506.2 2173.4,1506.2 2186.1,1506.2 2198.7,1506.2 2211.3,1506.2 2224.0,1506.2 2236.6,1506.2"/>
<polyline stroke="#7D4E4E" points="1226.0,1505.9 1238.6,1505.9 1251.3,1505.9 1263.9,1505.9 1276.5,1505.9 1289.2,1505.9 1301.8,1505.9 1314.4,1505.9 1327.1,1505.9 1339.7,1505.9 1352.3,1505.9 1365.0,1505.9 1377.6,1505.8 1390.2,1505.8 1402.9,1505.8 1405.4,1505.8 1407.9,1505.7 1410.4,1505.6 1413.0,1505.5 1415.5,1505.4 1418.0,1505.3 1420.5,1505.2 1423.1,1505.1 1425.6,1505.0 1428.1,1504.8 1430.6,1504.7 1433.2,1504.5 1435.7,1504.4 1438.2,1504.2 1440.8,1504.0 1443.3,1503.9 1445.8,1503.7 1448.3,1503.5 1450.9,1503.2 1453.4,1503.0 1455.9,1502.8 1458.4,1502.5 1461.0,1502.2 1463.5,1501.9 1466.0,1501.6 1468.5,1501.3 1471.1,1501.0 1473.6,1500.7 1476.1,1500.3 1478.7,1500.0 1481.2,1499.6 1483.7,1499.3 1486.2,1498.9 1488.8,1498.6 1491.3,1498.2 1493.8,1497.8 1496.3,1497.4 1498.9,1497.0 1501.4,1496.6 1503.9,1496.1 1506.4,1495.7 1509.0,1495.2 1511.5,1494.8 1514.0,1494.3 1516.5,1493.9 1519.1,1493.4 1521.6,1493.0 1524.1,1492.5 1526.7,1492.0 1529.2,1491.5 1531.7,1491.0 1534.2,1490.4 1536.8,1489.9 1539.3,1489.3 1541.8,1488.6 1544.3,1487.9 1546.9,1487.2 1549.4,1486.4 1551.9,1485.6 1554.4,1484.7 1557.0,1483.8 1559.5,1482.9 1562.0,1481.9 1564.6,1480.9 1567.1,1479.8 1569.6,1478.7 1572.1,1477.6 1574.7,1476.4 1577.2,1475.1 1579.7,1473.8 1582.2,1472.5 1584.8,1471.2 1587.3,1469.9 1589.8,1468.6 1592.3,1467.3 1594.9,1466.0 1597.4,1464.7 1599.9,1463.4 1602.4,1462.0 1605.0,1460.8 1607.5,1459.5 1610.0,1458.3 1612.6,1457.0 1615.1,1455.7 1617.6,1454.5 1620.1,1453.4 1622.7,1452.5 1625.2,1451.7 1627.7,1451.0 1630.2,1450.4 1632.8,1450.0 1635.3,1449.8 1637.8,1449.6 1640.3,1449.6 1642.9,1449.6 1645.4,1449.7 1647.9,1449.9 1650.5,1450.1 1653.0,1450.3 1655.5,1450.5 1658.0,1450.8 1660.6,1451.0 1663.1,1451.2 1665.6,1451.3 1668.1,1451.4 1670.7,1451.4 1673.2,1451.3 1675.7,1451.2 1678.2,1451.0 1680.8,1450.7 1683.3,1450.4 1685.8,1449.9 1688.3,1449.1 1690.9,1448.2 1693.4,1447.3 1695.9,1446.4 1698.5,1445.4 1701.0,1444.4 1703.5,1443.2 1706.0,1441.9 1708.6,1440.5 1711.1,1439.0 1713.6,1437.5 1716.1,1435.9 1718.7,1434.2 1721.2,1432.5 1723.7,1430.9 1726.2,1429.2 1728.8,1427.6 1731.3,1426.0 1733.8,1424.4 1736.4,1422.8 1738.9,1421.2 1741.4,1419.7 1743.9,1418.3 1746.5,1416.9 1749.0,1415.7 1751.5,1414.4 1754.0,1413.3 1756.6,1412.2 1759.1,1411.3 1761.6,1410.6 1764.1,1410.0 1766.7,1409.6 1769.2,1409.5 1771.7,1409.8 1774.3,1410.4 1776.8,1411.4 1779.3,1412.9 1781.8,1414.9 1784.4,1417.1 1786.9,1419.8 1789.4,1423.3 1791.9,1427.0 1794.5,1430.7 1797.0,1434.4 1799.5,1438.2 1802.0,1441.9 1804.6,1445.6 1807.1,1449.4 1809.6,1453.1 1812.1,1456.8 1814.7,1460.6 1817.2,1464.3 1819.7,1468.0 1822.3,1471.5 1824.8,1474.9 1827.3,1478.0 1829.8,1480.8 1832.4,1483.5 1834.9,1486.0 1837.4,1488.2 1839.9,1490.1 1842.5,1491.8 1845.0,1493.3 1847.5,1494.7 1850.0,1495.9 1852.6,1497.0 1855.1,1497.9 1857.6,1498.7 1860.2,1499.4 1862.7,1500.0 1865.2,1500.6 1867.7,1501.1 1870.3,1501.5 1872.8,1501.9 1875.3,1502.3 1877.8,1502.6 1880.4,1502.9 1882.9,1503.1 1885.4,1503.4 1887.9,1503.6 1890.5,1503.7 1893.0,1503.9 1895.5,1504.1 1898.0,1504.2 1900.6,1504.3 1903.1,1504.4 1905.6,1504.5 1908.2,1504.6 1920.8,1505.1 1933.4,1505.4 1946.1,1505.6 1958.7,1505.8 1971.3,1505.9 1984.0,1506.0 1996.6,1506.1 2009.2,1506.1 2021.8,1506.1 2034.5,1506.1 2047.1,1506.2 2059.7,1506.2 2072.4,1506.2 2085.0,1506.2 2097.6,1506.2 2110.3,1506.2 2122.9,1506.2 2135.5,1506.2 2148.2,1506.2 2160.8,1506.2 2173.4,1506.2 2186.1,1506.2 2198.7,1506.2 2211.3,1506.2 2224.0,1506.2 2236.6,1506.2"/>
<polyline stroke="#8E8E00" points="1226.0,1505.9 1238.6,1505.9 1251.3,1505.9 1263.9,1505.9 1276.5,1505.9 1289.2,1505.9 1301.8,1505.9 1314.4,1505.9 1327.1,1505.9 1339.7,1505.9 1352.3,1505.9 1365.0,1505.9 1377.6,1505.9 1390.2,1505.9 1402.9,1505.8 1405.4,1505.8 1407.9,1505.8 1410.4,1505.7 1413.0,1505.6 1415.5,1505.5 1418.0,1505.4 1420.5,1505.3 1423.1,1505.2 1425.6,1505.1 1428.1,1504.9 1430.6,1504.8 1433.2,1504.7 1435.7,1504.5 1438.2,1504.4 1440.8,1504.2 1443.3,1504.0 1445.8,1503.9 1448.3,1503.7 1450.9,1503.5 1453.4,1503.3 1455.9,1503.0 1458.4,1502.8 1461.0,1502.5 1463.5,1502.3 1466.0,1502.0 1468.5,1501.7 1471.1,1501.4 1473.6,1501.1 1476.1,1500.8 1478.7,1500.5 1481.2,1500.2 1483.7,1499.8 1486.2,1499.5 1488.8,1499.2 1491.3,1498.8 1493.8,1498.5 1496.3,1498.1 1498.9,1497.7 1501.4,1497.3 1503.9,1496.9 1506.4,1496.5 1509.0,1496.1 1511.5,1495.7 1514.0,1495.3 1516.5,1494.9 1519.1,1494.4 1521.6,1494.0 1524.1,1493.6 1526.7,1493.1 1529.2,1492.6 1531.7,1492.2 1534.2,1491.7 1536.8,1491.1 1539.3,1490.6 1541.8,1490.0 1544.3,1489.3 1546.9,1488.7 1549.4,1487.9 1551.9,1487.2 1554.4,1486.4 1557.0,1485.5 1559.5,1484.7 1562.0,1483.8 1564.6,1482.9 1567.1,1481.9 1569.6,1480.8 1572.1,1479.8 1574.7,1478.7 1577.2,1477.5 1579.7,1476.3 1582.2,1475.1 1584.8,1473.9 1587.3,1472.7 1589.8,1471.5 1592.3,1470.3 1594.9,1469.1 1597.4,1467.9 1599.9,1466.7 1602.4,1465.5 1605.0,1464.3 1607.5,1463.1 1610.0,1462.0 1612.6,1460.8 1615.1,1459.6 1617.6,1458.5 1620.1,1457.5 1622.7,1456.7 1625.2,1455.9 1627.7,1455.3 1630.2,1454.8 1632.8,1454.4 1635.3,1454.2 1637.8,1454.0 1640.3,1454.0 1642.9,1454.0 1645.4,1454.1 1647.9,1454.2 1650.5,1454.4 1653.0,1454.6 1655.5,1454.8 1658.0,1455.1 1660.6,1455.3 1663.1,1455.4 1665.6,1455.5 1668.1,1455.6 1670.7,1455.6 1673.2,1455.6 1675.7,1455.4 1678.2,1455.3 1680.8,1455.0 1683.3,1454.7 1685.8,1454.3 1688.3,1453.6 1690.9,1452.7 1693.4,1451.9 1695.9,1451.0 1698.5,1450.2 1701.0,1449.2 1703.5,1448.1 1706.0,1446.9 1708.6,1445.6 1711.1,1444.2 1713.6,1442.8 1716.1,1441.3 1718.7,1439.8 1721.2,1438.2 1723.7,1436.7 1726.2,1435.2 1728.8,1433.7 1731.3,1432.2 1733.8,1430.7 1736.4,1429.3 1738.9,1427.8 1741.4,1426.4 1743.9,1425.1 1746.5,1423.9 1749.0,1422.7 1751.5,1421.6 1754.0,1420.5 1756.6,1419.5 1759.1,1418.6 1761.6,1418.0 1764.1,1417.4 1766.7,1417.1 1769.2,1417.0 1771.7,1417.3 1774.3,1417.9 1776.8,1418.7 1779.3,1420.1 1781.8,1421.9 1784.4,1424.0 1786.9,1426.5 1789.4,1429.7 1791.9,1433.1 1794.5,1436.6 1797.0,1440.0 1799.5,1443.5 1802.0,1446.9 1804.6,1450.3 1807.1,1453.8 1809.6,1457.2 1812.1,1460.7 1814.7,1464.1 1817.2,1467.5 1819.7,1470.9 1822.3,1474.2 1824.8,1477.3 1827.3,1480.2 1829.8,1482.8 1832.4,1485.3 1834.9,1487.6 1837.4,1489.6 1839.9,1491.4 1842.5,1492.9 1845.0,1494.3 1847.5,1495.6 1850.0,1496.7 1852.6,1497.7 1855.1,1498.5 1857.6,1499.3 1860.2,1499.9 1862.7,1500.5 1865.2,1501.0 1867.7,1501.5 1870.3,1501.9 1872.8,1502.2 1875.3,1502.6 1877.8,1502.9 1880.4,1503.1 1882.9,1503.4 1885.4,1503.6 1887.9,1503.8 1890.5,1503.9 1893.0,1504.1 1895.5,1504.2 1898.0,1504.3 1900.6,1504.4 1903.1,1504.6 1905.6,1504.7 1908.2,1504.8 1920.8,1505.1 1933.4,1505.4 1946.1,1505.6 1958.7,1505.8 1971.3,1505.9 1984.0,1506.0 1996.6,1506.1 2009.2,1506.1 2021.8,1506.1 2034.5,1506.2 2047.1,1506.2 2059.7,1506.2 2072.4,1506.2 2085.0,1506.2 2097.6,1506.2 2110.3,1506.2 2122.9,1506.2 2135.5,1506.2 2148.2,1506.2 2160.8,1506.2 2173.4,1506.2 2186.1,1506.2 2198.7,1506.2 2211.3,1506.2 2224.0,1506.2 2236.6,1506.2"/>
<polyline stroke="#FB6501" points="1226.0,1505.9 1238.6,1505.9 1251.3,1505.9 1263.9,1505.9 1276.5,1505.9 1289.2,1505.9 1301.8,1505.9 1314.4,1505.9 1327.1,1505.9 1339.7,1505.9 1352.3,1505.9 1365.0,1505.9 1377.6,1505.9 1390.2,1505.9 1402.9,1505.9 1405.4,1505.9 1407.9,1505.8 1410.4,1505.7 1413.0,1505.7 1415.5,1505.6 1418.0,1505.5 1420.5,1505.4 1423.1,1505.3 1425.6,1505.2 1428.1,1505.1 1430.6,1505.0 1433.2,1504.8 1435.7,1504.7 1438.2,1504.6 1440.8,1504.4 1443.3,1504.3 1445.8,1504.1 1448.3,1504.0 1450.9,1503.8 1453.4,1503.6 1455.9,1503.4 1458.4,1503.2 1461.0,1502.9 1463.5,1502.7 1466.0,1502.4 1468.5,1502.2 1471.1,1501.9 1473.6,1501.7 1476.1,1501.4 1478.7,1501.1 1481.2,1500.8 1483.7,1500.5 1486.2,1500.2 1488.8,1499.9 1491.3,1499.6 1493.8,1499.3 1496.3,1499.0 1498.9,1498.6 1501.4,1498.3 1503.9,1497.9 1506.4,1497.6 1509.0,1497.2 1511.5,1496.8 1514.0,1496.5 1516.5,1496.1 1519.1,1495.7 1521.6,1495.3 1524.1,1495.0 1526.7,1494.6 1529.2,1494.1 1531.7,1493.7 1534.2,1493.3 1536.8,1492.8 1539.3,1492.3 1541.8,1491.8 1544.3,1491.2 1546.9,1490.6 1549.4,1489.9 1551.9,1489.3 1554.4,1488.5 1557.0,1487.8 1559.5,1487.1 1562.0,1486.3 1564.6,1485.4 1567.1,1484.5 1569.6,1483.6 1572.1,1482.7 1574.7,1481.7 1577.2,1480.7 1579.7,1479.6 1582.2,1478.5 1584.8,1477.4 1587.3,1476.4 1589.8,1475.3 1592.3,1474.3 1594.9,1473.2 1597.4,1472.1 1599.9,1471.0 1602.4,1469.9 1605.0,1468.9 1607.5,1467.9 1610.0,1466.9 1612.6,1465.8 1615.1,1464.7 1617.6,1463.7 1620.1,1462.9 1622.7,1462.1 1625.2,1461.5 1627.7,1460.9 1630.2,1460.4 1632.8,1460.1 1635.3,1459.9 1637.8,1459.8 1640.3,1459.7 1642.9,1459.7 1645.4,1459.8 1647.9,1459.9 1650.5,1460.1 1653.0,1460.3 1655.5,1460.5 1658.0,1460.7 1660.6,1460.9 1663.1,1461.0 1665.6,1461.1 1668.1,1461.2 1670.7,1461.2 1673.2,1461.1 1675.7,1461.0 1678.2,1460.9 1680.8,1460.7 1683.3,1460.4 1685.8,1460.0 1688.3,1459.3 1690.9,1458.6 1693.4,1457.8 1695.9,1457.1 1698.5,1456.3 1701.0,1455.4 1703.5,1454.5 1706.0,1453.4 1708.6,1452.3 1711.1,1451.1 1713.6,1449.8 1716.1,1448.5 1718.7,1447.1 1721.2,1445.7 1723.7,1444.4 1726.2,1443.0 1728.8,1441.7 1731.3,1440.3 1733.8,1439.0 1736.4,1437.7 1738.9,1436.4 1741.4,1435.2 1743.9,1434.0 1746.5,1432.9 1749.0,1431.9 1751.5,1430.9 1754.0,1429.9 1756.6,1429.0 1759.1,1428.3 1761.6,1427.7 1764.1,1427.2 1766.7,1426.9 1769.2,1426.8 1771.7,1427.1 1774.3,1427.6 1776.8,1428.3 1779.3,1429.6 1781.8,1431.2 1784.4,1433.0 1786.9,1435.3 1789.4,1438.1 1791.9,1441.1 1794.5,1444.2 1797.0,1447.3 1799.5,1450.3 1802.0,1453.4 1804.6,1456.5 1807.1,1459.5 1809.6,1462.6 1812.1,1465.7 1814.7,1468.7 1817.2,1471.8 1819.7,1474.8 1822.3,1477.7 1824.8,1480.5 1827.3,1483.0 1829.8,1485.4 1832.4,1487.6 1834.9,1489.6 1837.4,1491.4 1839.9,1493.0 1842.5,1494.4 1845.0,1495.6 1847.5,1496.7 1850.0,1497.7 1852.6,1498.6 1855.1,1499.4 1857.6,1500.0 1860.2,1500.6 1862.7,1501.1 1865.2,1501.6 1867.7,1502.0 1870.3,1502.3 1872.8,1502.7 1875.3,1503.0 1877.8,1503.2 1880.4,1503.5 1882.9,1503.7 1885.4,1503.9 1887.9,1504.0 1890.5,1504.2 1893.0,1504.3 1895.5,1504.4 1898.0,1504.5 1900.6,1504.6 1903.1,1504.7 1905.6,1504.8 1908.2,1504.9 1920.8,1505.3 1933.4,1505.5 1946.1,1505.7 1958.7,1505.8 1971.3,1506.0 1984.0,1506.0 1996.6,1506.1 2009.2,1506.1 2021.8,1506.1 2034.5,1506.2 2047.1,1506.2 2059.7,1506.2 2072.4,1506.2 2085.0,1506.2 2097.6,1506.2 2110.3,1506.2 2122.9,1506.2 2135.5,1506.2 2148.2,1506.2 2160.8,1506.2 2173.4,1506.2 2186.1,1506.2 2198.7,1506.2 2211.3,1506.2 2224.0,1506.2 2236.6,1506.2"/>
<polyline stroke="#6699CC" points="1226.0,1505.9 1238.6,1505.9 1251.3,1505.9 1263.9,1505.9 1276.5,1505.9 1289.2,1505.9 1301.8,1505.9 1314.4,1505.9 1327.1,1505.9 1339.7,1505.9 1352.3,1505.9 1365.0,1505.9 1377.6,1505.9 1390.2,1505.9 1402.9,1505.9 1405.4,1505.9 1407.9,1505.8 1410.4,1505.8 1413.0,1505.7 1415.5,1505.6 1418.0,1505.5 1420.5,1505.4 1423.1,1505.4 1425.6,1505.3 1428.1,1505.2 1430.6,1505.0 1433.2,1504.9 1435.7,1504.8 1438.2,1504.7 1440.8,1504.6 1443.3,1504.4 1445.8,1504.3 1448.3,1504.1 1450.9,1504.0 1453.4,1503.8 1455.9,1503.6 1458.4,1503.4 1461.0,1503.2 1463.5,1502.9 1466.0,1502.7 1468.5,1502.5 1471.1,1502.2 1473.6,1502.0 1476.1,1501.7 1478.7,1501.5 1481.2,1501.2 1483.7,1500.9 1486.2,1500.7 1488.8,1500.4 1491.3,1500.1 1493.8,1499.8 1496.3,1499.5 1498.9,1499.2 1501.4,1498.9 1503.9,1498.5 1506.4,1498.2 1509.0,1497.8 1511.5,1497.5 1514.0,1497.2 1516.5,1496.8 1519.1,1496.5 1521.6,1496.1 1524.1,1495.8 1526.7,1495.4 1529.2,1495.0 1531.7,1494.6 1534.2,1494.2 1536.8,1493.7 1539.3,1493.3 1541.8,1492.8 1544.3,1492.3 1546.9,1491.7 1549.4,1491.1 1551.9,1490.5 1554.4,1489.8 1557.0,1489.1 1559.5,1488.4 1562.0,1487.7 1564.6,1486.9 1567.1,1486.1 1569.6,1485.2 1572.1,1484.4 1574.7,1483.5 1577.2,1482.5 1579.7,1481.5 1582.2,1480.5 1584.8,1479.5 1587.3,1478.5 1589.8,1477.5 1592.3,1476.6 1594.9,1475.6 1597.4,1474.6 1599.9,1473.6 1602.4,1472.5 1605.0,1471.6 1607.5,1470.6 1610.0,1469.7 1612.6,1468.7 1615.1,1467.7 1617.6,1466.8 1620.1,1466.0 1622.7,1465.3 1625.2,1464.7 1627.7,1464.1 1630.2,1463.7 1632.8,1463.4 1635.3,1463.2 1637.8,1463.1 1640.3,1463.1 1642.9,1463.1 1645.4,1463.1 1647.9,1463.3 1650.5,1463.4 1653.0,1463.6 1655.5,1463.8 1658.0,1464.0 1660.6,1464.1 1663.1,1464.3 1665.6,1464.3 1668.1,1464.4 1670.7,1464.4 1673.2,1464.4 1675.7,1464.3 1678.2,1464.1 1680.8,1463.9 1683.3,1463.7 1685.8,1463.3 1688.3,1462.7 1690.9,1462.0 1693.4,1461.3 1695.9,1460.6 1698.5,1459.9 1701.0,1459.1 1703.5,1458.2 1706.0,1457.2 1708.6,1456.1 1711.1,1455.0 1713.6,1453.8 1716.1,1452.6 1718.7,1451.3 1721.2,1450.1 1723.7,1448.8 1726.2,1447.5 1728.8,1446.3 1731.3,1445.1 1733.8,1443.8 1736.4,1442.6 1738.9,1441.4 1741.4,1440.3 1743.9,1439.2 1746.5,1438.2 1749.0,1437.2 1751.5,1436.3 1754.0,1435.4 1756.6,1434.5 1759.1,1433.9 1761.6,1433.3 1764.1,1432.8 1766.7,1432.6 1769.2,1432.5 1771.7,1432.7 1774.3,1433.2 1776.8,1433.9 1779.3,1435.1 1781.8,1436.6 1784.4,1438.3 1786.9,1440.4 1789.4,1443.0 1791.9,1445.8 1794.5,1448.7 1797.0,1451.5 1799.5,1454.4 1802.0,1457.2 1804.6,1460.0 1807.1,1462.9 1809.6,1465.7 1812.1,1468.6 1814.7,1471.4 1817.2,1474.2 1819.7,1477.1 1822.3,1479.8 1824.8,1482.3 1827.3,1484.7 1829.8,1486.9 1832.4,1488.9 1834.9,1490.8 1837.4,1492.5 1839.9,1493.9 1842.5,1495.2 1845.0,1496.4 1847.5,1497.4 1850.0,1498.3 1852.6,1499.2 1855.1,1499.9 1857.6,1500.5 1860.2,1501.0 1862.7,1501.5 1865.2,1501.9 1867.7,1502.3 1870.3,1502.6 1872.8,1502.9 1875.3,1503.2 1877.8,1503.4 1880.4,1503.7 1882.9,1503.8 1885.4,1504.0 1887.9,1504.2 1890.5,1504.3 1893.0,1504.5 1895.5,1504.6 1898.0,1504.7 1900.6,1504.8 1903.1,1504.8 1905.6,1504.9 1908.2,1505.0 1920.8,1505.3 1933.4,1505.6 1946.1,1505.7 1958.7,1505.9 1971.3,1506.0 1984.0,1506.0 1996.6,1506.1 2009.2,1506.1 2021.8,1506.1 2034.5,1506.2 2047.1,1506.2 2059.7,1506.2 2072.4,1506.2 2085.0,1506.2 2097.6,1506.2 2110.3,1506.2 2122.9,1506.2 2135.5,1506.2 2148.2,1506.2 2160.8,1506.2 2173.4,1506.2 2186.1,1506.2 2198.7,1506.2 2211.3,1506.2 2224.0,1506.2 2236.6,1506.2"/>
<polyline stroke="#6FB802" points="1226.0,1505.9 1238.6,1505.9 1251.3,1505.9 1263.9,1505.9 1276.5,1505.9 1289.2,1505.9 1301.8,1505.9 1314.4,1505.9 1327.1,1505.9 1339.7,1505.9 1352.3,1505.9 1365.0,1505.9 1377.6,1505.9 1390.2,1505.9 1402.9,1505.9 1405.4,1505.9 1407.9,1505.9 1410.4,1505.8 1413.0,1505.7 1415.5,1505.6 1418.0,1505.6 1420.5,1505.5 1423.1,1505.4 1425.6,1505.3 1428.1,1505.2 1430.6,1505.1 1433.2,1505.0 1435.7,1504.9 1438.2,1504.7 1440.8,1504.6 1443.3,1504.5 1445.8,1504.3 1448.3,1504.2 1450.9,1504.0 1453.4,1503.9 1455.9,1503.7 1458.4,1503.5 1461.0,1503.3 1463.5,1503.1 1466.0,1502.9 1468.5,1502.6 1471.1,1502.4 1473.6,1502.1 1476.1,1501.9 1478.7,1501.7 1481.2,1501.4 1483.7,1501.1 1486.2,1500.9 1488.8,1500.6 1491.3,1500.3 1493.8,1500.1 1496.3,1499.8 1498.9,1499.5 1501.4,1499.1 1503.9,1498.8 1506.4,1498.5 1509.0,1498.2 1511.5,1497.8 1514.0,1497.5 1516.5,1497.2 1519.1,1496.9 1521.6,1496.5 1524.1,1496.2 1526.7,1495.8 1529.2,1495.4 1531.7,1495.1 1534.2,1494.7 1536.8,1494.2 1539.3,1493.8 1541.8,1493.3 1544.3,1492.8 1546.9,1492.3 1549.4,1491.7 1551.9,1491.1 1554.4,1490.5 1557.0,1489.8 1559.5,1489.1 1562.0,1488.4 1564.6,1487.7 1567.1,1486.9 1569.6,1486.1 1572.1,1485.2 1574.7,1484.4 1577.2,1483.4 1579.7,1482.5 1582.2,1481.5 1584.8,1480.6 1587.3,1479.6 1589.8,1478.7 1592.3,1477.7 1594.9,1476.8 1597.4,1475.8 1599.9,1474.8 1602.4,1473.9 1605.0,1472.9 1607.5,1472.0 1610.0,1471.1 1612.6,1470.2 1615.1,1469.2 1617.6,1468.3 1620.1,1467.6 1622.7,1466.9 1625.2,1466.3 1627.7,1465.8 1630.2,1465.4 1632.8,1465.1 1635.3,1464.9 1637.8,1464.8 1640.3,1464.8 1642.9,1464.8 1645.4,1464.8 1647.9,1465.0 1650.5,1465.1 1653.0,1465.3 1655.5,1465.4 1658.0,1465.6 1660.6,1465.8 1663.1,1465.9 1665.6,1466.0 1668.1,1466.0 1670.7,1466.1 1673.2,1466.0 1675.7,1465.9 1678.2,1465.8 1680.8,1465.6 1683.3,1465.3 1685.8,1465.0 1688.3,1464.4 1690.9,1463.7 1693.4,1463.1 1695.9,1462.4 1698.5,1461.7 1701.0,1460.9 1703.5,1460.1 1706.0,1459.1 1708.6,1458.1 1711.1,1457.0 1713.6,1455.9 1716.1,1454.7 1718.7,1453.5 1721.2,1452.3 1723.7,1451.1 1726.2,1449.8 1728.8,1448.6 1731.3,1447.5 1733.8,1446.3 1736.4,1445.1 1738.9,1444.0 1741.4,1442.9 1743.9,1441.8 1746.5,1440.8 1749.0,1439.9 1751.5,1439.0 1754.0,1438.2 1756.6,1437.4 1759.1,1436.7 1761.6,1436.2 1764.1,1435.7 1766.7,1435.5 1769.2,1435.4 1771.7,1435.6 1774.3,1436.1 1776.8,1436.8 1779.3,1437.9 1781.8,1439.3 1784.4,1440.9 1786.9,1443.0 1789.4,1445.5 1791.9,1448.2 1794.5,1450.9 1797.0,1453.7 1799.5,1456.4 1802.0,1459.1 1804.6,1461.9 1807.1,1464.6 1809.6,1467.3 1812.1,1470.1 1814.7,1472.8 1817.2,1475.5 1819.7,1478.2 1822.3,1480.8 1824.8,1483.3 1827.3,1485.5 1829.8,1487.6 1832.4,1489.6 1834.9,1491.4 1837.4,1493.0 1839.9,1494.4 1842.5,1495.7 1845.0,1496.8 1847.5,1497.8 1850.0,1498.7 1852.6,1499.4 1855.1,1500.1 1857.6,1500.7 1860.2,1501.2 1862.7,1501.7 1865.2,1502.1 1867.7,1502.4 1870.3,1502.8 1872.8,1503.1 1875.3,1503.3 1877.8,1503.5 1880.4,1503.8 1882.9,1503.9 1885.4,1504.1 1887.9,1504.3 1890.5,1504.4 1893.0,1504.5 1895.5,1504.6 1898.0,1504.7 1900.6,1504.8 1903.1,1504.9 1905.6,1505.0 1908.2,1505.1 1920.8,1505.4 1933.4,1505.6 1946.1,1505.8 1958.7,1505.9 1971.3,1506.0 1984.0,1506.1 1996.6,1506.1 2009.2,1506.1 2021.8,1506.1 2034.5,1506.2 2047.1,1506.2 2059.7,1506.2 2072.4,1506.2 2085.0,1506.2 2097.6,1506.2 2110.3,1506.2 2122.9,1506.2 2135.5,1506.2 2148.2,1506.2 2160.8,1506.2 2173.4,1506.2 2186.1,1506.2 2198.7,1506.2 2211.3,1506.2 2224.0,1506.2 2236.6,1506.2"/>
<polyline stroke="#000000" points="1226.0,1506.0 1238.6,1506.0 1251.3,1506.0 1263.9,1506.0 1276.5,1506.0 1289.2,1506.0 1301.8,1506.0 1314.4,1506.0 1327.1,1506.0 1339.7,1506.0 1352.3,1506.0 1365.0,1506.0 1377.6,1506.0 1390.2,1506.0 1402.9,1505.9 1405.4,1505.9 1407.9,1505.9 1410.4,1505.8 1413.0,1505.7 1415.5,1505.7 1418.0,1505.6 1420.5,1505.5 1423.1,1505.4 1425.6,1505.3 1428.1,1505.3 1430.6,1505.2 1433.2,1505.1 1435.7,1504.9 1438.2,1504.8 1440.8,1504.7 1443.3,1504.6 1445.8,1504.4 1448.3,1504.3 1450.9,1504.2 1453.4,1504.0 1455.9,1503.8 1458.4,1503.6 1461.0,1503.4 1463.5,1503.2 1466.0,1503.0 1468.5,1502.8 1471.1,1502.6 1473.6,1502.4 1476.1,1502.1 1478.7,1501.9 1481.2,1501.7 1483.7,1501.4 1486.2,1501.2 1488.8,1500.9 1491.3,1500.7 1493.8,1500.4 1496.3,1500.1 1498.9,1499.8 1501.4,1499.5 1503.9,1499.2 1506.4,1498.9 1509.0,1498.6 1511.5,1498.3 1514.0,1498.0 1516.5,1497.7 1519.1,1497.4 1521.6,1497.0 1524.1,1496.7 1526.7,1496.4 1529.2,1496.0 1531.7,1495.7 1534.2,1495.3 1536.8,1494.9 1539.3,1494.5 1541.8,1494.0 1544.3,1493.5 1546.9,1493.0 1549.4,1492.5 1551.9,1491.9 1554.4,1491.3 1557.0,1490.7 1559.5,1490.0 1562.0,1489.4 1564.6,1488.7 1567.1,1487.9 1569.6,1487.2 1572.1,1486.4 1574.7,1485.5 1577.2,1484.7 1579.7,1483.8 1582.2,1482.8 1584.8,1481.9 1587.3,1481.0 1589.8,1480.1 1592.3,1479.2 1594.9,1478.3 1597.4,1477.4 1599.9,1476.5 1602.4,1475.6 1605.0,1474.7 1607.5,1473.9 1610.0,1473.0 1612.6,1472.1 1615.1,1471.2 1617.6,1470.4 1620.1,1469.6 1622.7,1469.0 1625.2,1468.4 1627.7,1468.0 1630.2,1467.6 1632.8,1467.3 1635.3,1467.1 1637.8,1467.0 1640.3,1467.0 1642.9,1467.0 1645.4,1467.1 1647.9,1467.2 1650.5,1467.3 1653.0,1467.5 1655.5,1467.6 1658.0,1467.8 1660.6,1468.0 1663.1,1468.1 1665.6,1468.2 1668.1,1468.2 1670.7,1468.2 1673.2,1468.2 1675.7,1468.1 1678.2,1467.9 1680.8,1467.8 1683.3,1467.5 1685.8,1467.2 1688.3,1466.7 1690.9,1466.0 1693.4,1465.4 1695.9,1464.8 1698.5,1464.1 1701.0,1463.4 1703.5,1462.5 1706.0,1461.6 1708.6,1460.7 1711.1,1459.7 1713.6,1458.6 1716.1,1457.5 1718.7,1456.3 1721.2,1455.2 1723.7,1454.0 1726.2,1452.9 1728.8,1451.7 1731.3,1450.6 1733.8,1449.5 1736.4,1448.4 1738.9,1447.3 1741.4,1446.3 1743.9,1445.3 1746.5,1444.3 1749.0,1443.5 1751.5,1442.6 1754.0,1441.8 1756.6,1441.1 1759.1,1440.4 1761.6,1439.9 1764.1,1439.5 1766.7,1439.3 1769.2,1439.2 1771.7,1439.4 1774.3,1439.8 1776.8,1440.5 1779.3,1441.5 1781.8,1442.9 1784.4,1444.4 1786.9,1446.4 1789.4,1448.7 1791.9,1451.3 1794.5,1453.9 1797.0,1456.5 1799.5,1459.1 1802.0,1461.7 1804.6,1464.2 1807.1,1466.8 1809.6,1469.4 1812.1,1472.0 1814.7,1474.6 1817.2,1477.2 1819.7,1479.7 1822.3,1482.2 1824.8,1484.5 1827.3,1486.6 1829.8,1488.6 1832.4,1490.5 1834.9,1492.2 1837.4,1493.7 1839.9,1495.1 1842.5,1496.2 1845.0,1497.3 1847.5,1498.2 1850.0,1499.1 1852.6,1499.8 1855.1,1500.4 1857.6,1501.0 1860.2,1501.5 1862.7,1501.9 1865.2,1502.3 1867.7,1502.6 1870.3,1502.9 1872.8,1503.2 1875.3,1503.5 1877.8,1503.7 1880.4,1503.9 1882.9,1504.1 1885.4,1504.2 1887.9,1504.4 1890.5,1504.5 1893.0,1504.6 1895.5,1504.7 1898.0,1504.8 1900.6,1504.9 1903.1,1505.0 1905.6,1505.0 1908.2,1505.1 1920.8,1505.4 1933.4,1505.6 1946.1,1505.8 1958.7,1505.9 1971.3,1506.0 1984.0,1506.1 1996.6,1506.1 2009.2,1506.1 2021.8,1506.2 2034.5,1506.2 2047.1,1506.2 2059.7,1506.2 2072.4,1506.2 2085.0,1506.2 2097.6,1506.2 2110.3,1506.2 2122.9,1506.2 2135.5,1506.2 2148.2,1506.2 2160.8,1506.2 2173.4,1506.2 2186.1,1506.2 2198.7,1506.2 2211.3,1506.2 2224.0,1506.2 2236.6,1506.2"/>
<polyline stroke="#F14040" points="1226.0,1507.0 1238.6,1507.0 1251.3,1507.0 1263.9,1507.0 1276.5,1507.0 1289.2,1507.0 1301.8,1507.0 1314.4,1507.0 1327.1,1507.0 1339.7,1507.0 1352.3,1507.0 1365.0,1507.0 1377.6,1507.0 1390.2,1507.0 1402.9,1506.9 1405.4,1506.9 1407.9,1506.9 1410.4,1506.8 1413.0,1506.7 1415.5,1506.7 1418.0,1506.6 1420.5,1506.5 1423.1,1506.4 1425.6,1506.4 1428.1,1506.3 1430.6,1506.2 1433.2,1506.1 1435.7,1506.0 1438.2,1505.9 1440.8,1505.7 1443.3,1505.6 1445.8,1505.5 1448.3,1505.3 1450.9,1505.2 1453.4,1505.0 1455.9,1504.9 1458.4,1504.7 1461.0,1504.5 1463.5,1504.3 1466.0,1504.1 1468.5,1503.9 1471.1,1503.7 1473.6,1503.4 1476.1,1503.2 1478.7,1503.0 1481.2,1502.8 1483.7,1502.5 1486.2,1502.3 1488.8,1502.0 1491.3,1501.8 1493.8,1501.5 1496.3,1501.2 1498.9,1501.0 1501.4,1500.7 1503.9,1500.4 1506.4,1500.1 1509.0,1499.8 1511.5,1499.5 1514.0,1499.2 1516.5,1498.9 1519.1,1498.5 1521.6,1498.2 1524.1,1497.9 1526.7,1497.6 1529.2,1497.2 1531.7,1496.9 1534.2,1496.5 1536.8,1496.1 1539.3,1495.7 1541.8,1495.3 1544.3,1494.8 1546.9,1494.3 1549.4,1493.8 1551.9,1493.2 1554.4,1492.6 1557.0,1492.0 1559.5,1491.4 1562.0,1490.7 1564.6,1490.0 1567.1,1489.3 1569.6,1488.5 1572.1,1487.8 1574.7,1487.0 1577.2,1486.1 1579.7,1485.2 1582.2,1484.3 1584.8,1483.4 1587.3,1482.6 1589.8,1481.7 1592.3,1480.8 1594.9,1479.9 1597.4,1479.0 1599.9,1478.1 1602.4,1477.2 1605.0,1476.4 1607.5,1475.5 1610.0,1474.7 1612.6,1473.8 1615.1,1472.9 1617.6,1472.1 1620.1,1471.4 1622.7,1470.8 1625.2,1470.2 1627.7,1469.8 1630.2,1469.4 1632.8,1469.1 1635.3,1468.9 1637.8,1468.8 1640.3,1468.8 1642.9,1468.8 1645.4,1468.9 1647.9,1469.0 1650.5,1469.1 1653.0,1469.3 1655.5,1469.4 1658.0,1469.6 1660.6,1469.8 1663.1,1469.9 1665.6,1469.9 1668.1,1470.0 1670.7,1470.0 1673.2,1470.0 1675.7,1469.9 1678.2,1469.7 1680.8,1469.6 1683.3,1469.3 1685.8,1469.0 1688.3,1468.5 1690.9,1467.9 1693.4,1467.2 1695.9,1466.6 1698.5,1466.0 1701.0,1465.3 1703.5,1464.5 1706.0,1463.6 1708.6,1462.6 1711.1,1461.6 1713.6,1460.6 1716.1,1459.5 1718.7,1458.4 1721.2,1457.2 1723.7,1456.1 1726.2,1455.0 1728.8,1453.9 1731.3,1452.8 1733.8,1451.7 1736.4,1450.6 1738.9,1449.6 1741.4,1448.5 1743.9,1447.6 1746.5,1446.6 1749.0,1445.8 1751.5,1445.0 1754.0,1444.1 1756.6,1443.4 1759.1,1442.8 1761.6,1442.3 1764.1,1441.9 1766.7,1441.7 1769.2,1441.6 1771.7,1441.8 1774.3,1442.2 1776.8,1442.9 1779.3,1443.9 1781.8,1445.2 1784.4,1446.7 1786.9,1448.6 1789.4,1450.9 1791.9,1453.5 1794.5,1456.0 1797.0,1458.5 1799.5,1461.1 1802.0,1463.6 1804.6,1466.1 1807.1,1468.6 1809.6,1471.2 1812.1,1473.7 1814.7,1476.2 1817.2,1478.8 1819.7,1481.3 1822.3,1483.7 1824.8,1486.0 1827.3,1488.0 1829.8,1490.0 1832.4,1491.8 1834.9,1493.5 1837.4,1495.0 1839.9,1496.3 1842.5,1497.4 1845.0,1498.5 1847.5,1499.4 1850.0,1500.2 1852.6,1500.9 1855.1,1501.6 1857.6,1502.1 1860.2,1502.6 1862.7,1503.0 1865.2,1503.4 1867.7,1503.7 1870.3,1504.0 1872.8,1504.3 1875.3,1504.5 1877.8,1504.7 1880.4,1504.9 1882.9,1505.1 1885.4,1505.3 1887.9,1505.4 1890.5,1505.5 1893.0,1505.6 1895.5,1505.7 1898.0,1505.8 1900.6,1505.9 1903.1,1506.0 1905.6,1506.1 1908.2,1506.1 1920.8,1506.4 1933.4,1506.6 1946.1,1506.8 1958.7,1506.9 1971.3,1507.0 1984.0,1507.1 1996.6,1507.1 2009.2,1507.1 2021.8,1507.2 2034.5,1507.2 2047.1,1507.2 2059.7,1507.2 2072.4,1507.2 2085.0,1507.2 2097.6,1507.2 2110.3,1507.2 2122.9,1507.2 2135.5,1507.2 2148.2,1507.2 2160.8,1507.2 2173.4,1507.2 2186.1,1507.2 2198.7,1507.2 2211.3,1507.2 2224.0,1507.2 2236.6,1507.2"/>
</g>
<g>
<rect x="1087.8" y="31" width="1.6" height="659.5" fill="#b0b0b0"/>
<rect x="855" y="689.2" width="233.6" height="1.6" fill="#000"/>
<rect x="855" y="51.45" width="88" height="8.7" rx="1.2" fill="#000000"/>
<text class="lg" x="949.5" y="69.1">MB</text>
<rect x="855" y="98.31" width="88" height="8.7" rx="1.2" fill="#F14040"/>
<text class="lg" x="949.5" y="116.0">Dark</text>
<rect x="855" y="145.17" width="88" height="8.7" rx="1.2" fill="#1A6FDF"/>
<text class="lg" x="949.5" y="162.8">10 min</text>
<rect x="855" y="192.03" width="88" height="8.7" rx="1.2" fill="#37AD6B"/>
<text class="lg" x="949.5" y="209.7">20 min</text>
<rect x="855" y="238.89" width="88" height="8.7" rx="1.2" fill="#B177DE"/>
<text class="lg" x="949.5" y="256.5">30 min</text>
<rect x="855" y="285.75" width="88" height="8.7" rx="1.2" fill="#CC9900"/>
<text class="lg" x="949.5" y="303.4">40 min</text>
<rect x="855" y="332.61" width="88" height="8.7" rx="1.2" fill="#00CBCC"/>
<text class="lg" x="949.5" y="350.3">50 min</text>
<rect x="855" y="379.47" width="88" height="8.7" rx="1.2" fill="#7D4E4E"/>
<text class="lg" x="949.5" y="397.1">60 min</text>
<rect x="855" y="426.33" width="88" height="8.7" rx="1.2" fill="#8E8E00"/>
<text class="lg" x="949.5" y="444.0">70 min</text>
<rect x="855" y="473.19" width="88" height="8.7" rx="1.2" fill="#FB6501"/>
<text class="lg" x="949.5" y="490.8">80 min</text>
<rect x="855" y="520.05" width="88" height="8.7" rx="1.2" fill="#6699CC"/>
<text class="lg" x="949.5" y="537.7">90 min</text>
<rect x="855" y="566.91" width="88" height="8.7" rx="1.2" fill="#6FB802"/>
<text class="lg" x="949.5" y="584.6">100 min</text>
<rect x="855" y="613.77" width="88" height="8.7" rx="1.2" fill="#000000"/>
<text class="lg" x="949.5" y="631.4">110 min</text>
<rect x="855" y="660.63" width="88" height="8.7" rx="1.2" fill="#F14040"/>
<text class="lg" x="949.5" y="678.3">120 min</text>
</g>
<text class="pl" transform="translate(146,92.5) scale(0.96,1)">(a)</text>
<text class="pl" transform="translate(1246.5,88) scale(0.96,1)">(b)</text>
<text class="pl" transform="translate(153,819.8) scale(0.96,1)">(c)</text>
<text class="pl" transform="translate(1275.5,835.5) scale(0.96,1)">(d)</text>
<text class="tk" transform="translate(120.9,1559.6) scale(0.955,1)">450</text>
<text class="tk" transform="translate(247.2,1559.6) scale(0.955,1)">500</text>
<text class="tk" transform="translate(373.6,1559.6) scale(0.955,1)">550</text>
<text class="tk" transform="translate(499.9,1559.6) scale(0.955,1)">600</text>
<text class="tk" transform="translate(626.2,1559.6) scale(0.955,1)">650</text>
<text class="tk" transform="translate(752.5,1559.6) scale(0.955,1)">700</text>
<text class="tk" transform="translate(878.9,1559.6) scale(0.955,1)">750</text>
<text class="tk" transform="translate(1005.2,1559.6) scale(0.955,1)">800</text>
<text class="tk" transform="translate(1131.5,1559.6) scale(0.955,1)">850</text>
<text class="tk" transform="translate(1226.0,1568.2) scale(0.955,1)">450</text>
<text class="tk" transform="translate(1352.3,1568.2) scale(0.955,1)">500</text>
<text class="tk" transform="translate(1478.7,1568.2) scale(0.955,1)">550</text>
<text class="tk" transform="translate(1605.0,1568.2) scale(0.955,1)">600</text>
<text class="tk" transform="translate(1731.3,1568.2) scale(0.955,1)">650</text>
<text class="tk" transform="translate(1857.6,1568.2) scale(0.955,1)">700</text>
<text class="tk" transform="translate(1984.0,1568.2) scale(0.955,1)">750</text>
<text class="tk" transform="translate(2110.3,1568.2) scale(0.955,1)">800</text>
<text class="tk" transform="translate(2236.6,1568.2) scale(0.955,1)">850</text>
<text class="ax" x="552.5" y="1616.4"><tspan class="gr">λ</tspan><tspan dx="3.5">,</tspan><tspan dx="1.5">nm</tspan></text>
<text class="ax" x="1643.8" y="1627.8"><tspan class="gr">λ</tspan><tspan dx="2.5">, nm</tspan></text>
<text class="ay" transform="translate(75.2,783.5) rotate(-90)">intenesity, a.u.</text>
<text class="ay" style="font-size:54.5px" transform="translate(1198.8,767.2) rotate(-90)">intenesity, a.u.</text>
</svg></body></html>
